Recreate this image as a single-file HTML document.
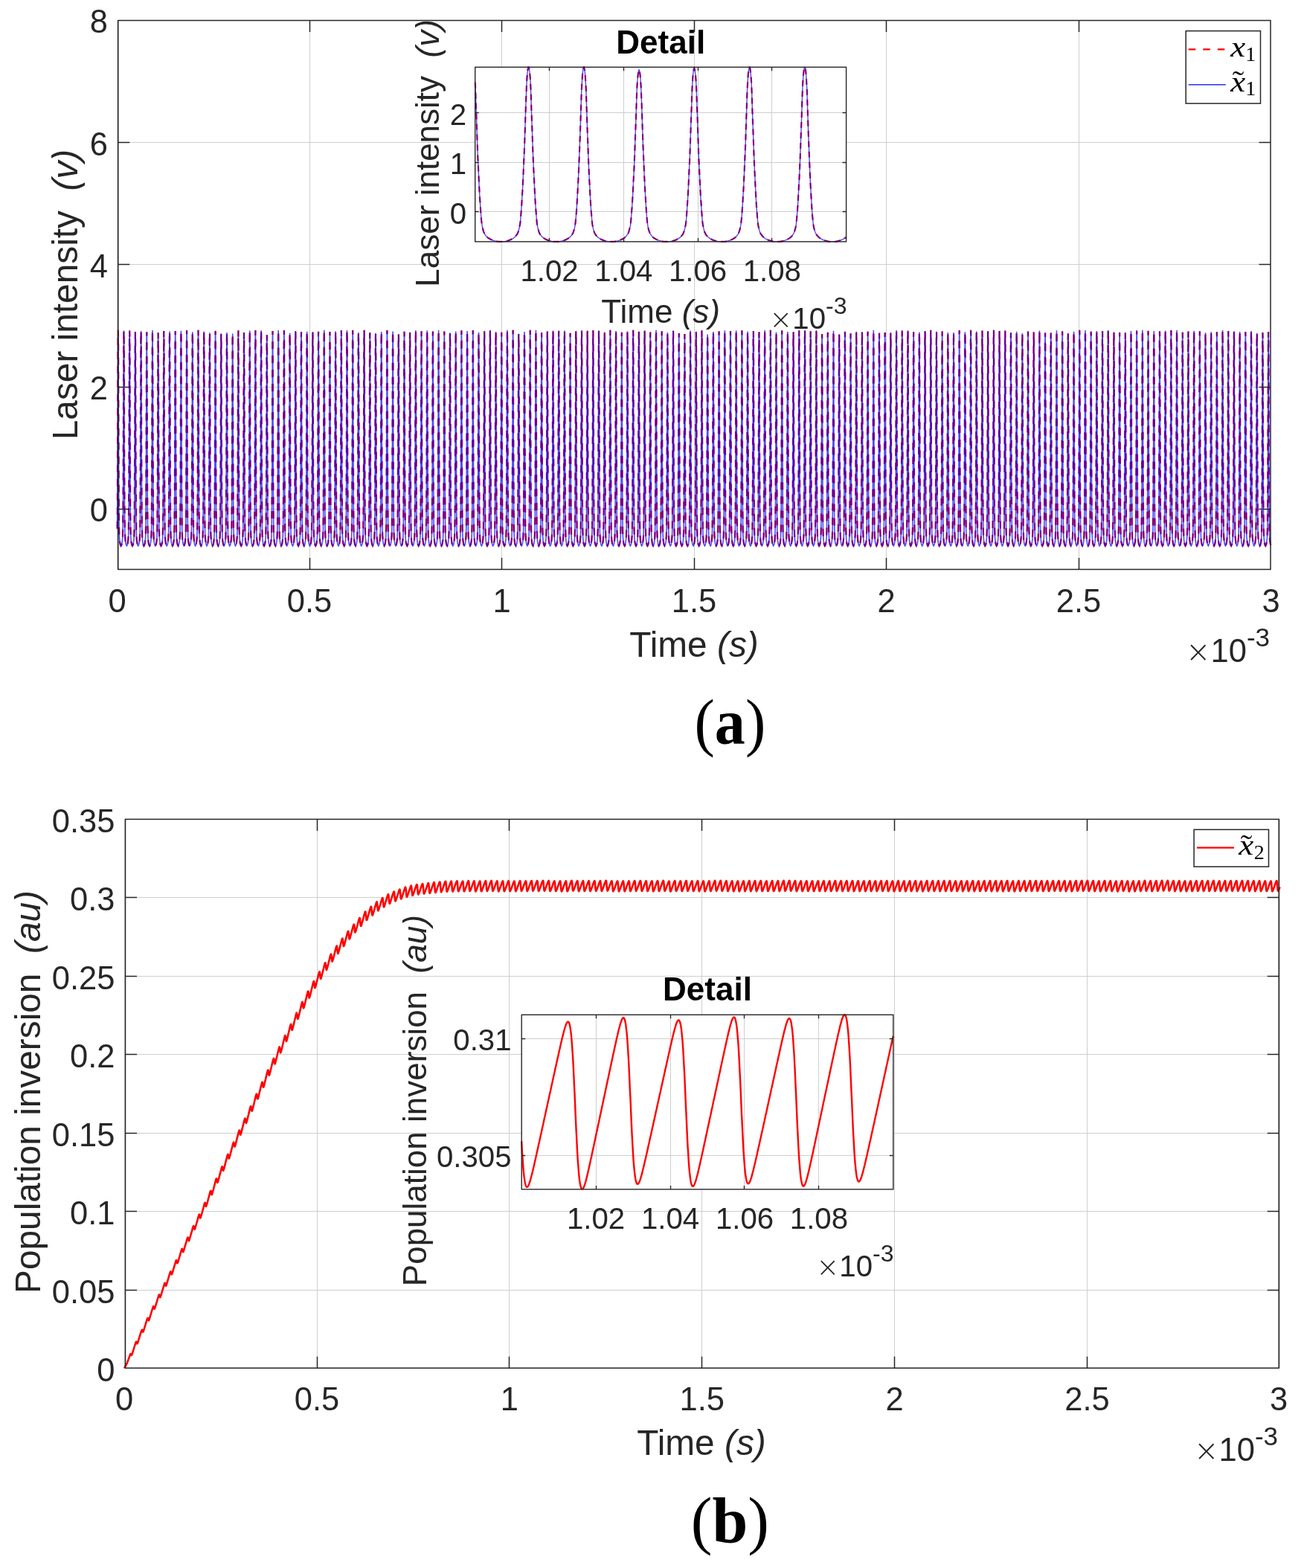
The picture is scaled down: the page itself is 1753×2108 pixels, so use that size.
<!DOCTYPE html><html><head><meta charset="utf-8"><title>Figure</title><style>html,body{margin:0;padding:0;background:#fff;}svg{display:block;}</style></head><body>
<div id="fig">
<svg width="1753" height="2108" viewBox="0 0 1753 2108">
<rect width="1753" height="2108" fill="#fff"/>
<path d="M157.5 27.5V765.5M416.5 27.5V765.5M674.5 27.5V765.5M933.5 27.5V765.5M1191.5 27.5V765.5M1450.5 27.5V765.5M158.8 684.5H1708M158.8 520.5H1708M158.8 355.5H1708M158.8 191.5H1708" stroke="#cecece" stroke-width="1.0" fill="none"/>
<g clip-path="url(#clipA)">
<clipPath id="clipA"><rect x="156.3" y="25.5" width="1553.4" height="742"/></clipPath>
<path d="M157.5 710.7l0.3-26.5 0.2-40.4 0.1-41.7 0.2-46.2 0.1-39.4 0.1-39.8 0.1-19.8 0.1-9 0.1-4.2 0.1 4.2 0.1 9 0.1 19.8 0.1 39.8 0.1 39.4 0.2 46.2 0.1 41.7 0.2 40.4 0.3 26.5 0.3 10.4 0.4 5.1 0.5 3.8 0.6 2.6 0.7 1.3 0.8-1.3 0.6-2.6 0.5-3.8 0.4-5 0.3-10.5 0.3-26.4 0.2-40.3 0.1-41.5 0.2-46.1 0.1-39.3 0.1-39.8 0.1-19.6 0.1-9 0.1-4.2 0.1 4.2 0.1 9 0.1 19.6 0.1 39.8 0.1 39.3 0.1 46.1 0.2 41.5 0.2 40.3 0.3 26.4 0.3 10.5 0.4 5 0.5 3.8 0.6 2.6 0.7 1.3 0.8-1.3 0.6-2.6 0.5-3.8 0.4-5 0.3-10.5 0.2-26.4 0.3-40.3 0.1-41.5 0.2-46.2 0.1-39.2 0.1-39.8 0.1-19.7 0.1-9 0.1-4.1 0.1 4.1 0.1 9 0.1 19.7 0.1 39.8 0.1 39.2 0.1 46.2 0.2 41.5 0.2 40.3 0.3 26.4 0.3 10.5 0.3 5 0.6 3.8 0.6 2.6 0.7 1.3 0.8-1.3 0.6-2.6 0.5-3.8 0.4-5 0.3-10.3 0.2-26.3 0.2-40.1 0.2-41.3 0.2-45.9 0.1-39 0.1-39.6 0.1-19.6 0.1-8.9 0.1-4.1 0.1 4.1 0.1 8.9 0.1 19.6 0.1 39.6 0.1 39 0.1 45.9 0.2 41.3 0.2 40.1 0.3 26.3 0.3 10.3 0.3 5 0.6 3.8 0.6 2.6 0.7 1.3 0.8-1.3 0.6-2.6 0.5-3.8 0.4-5 0.3-10.4 0.2-26.4 0.2-40.2 0.2-41.5 0.1-46.1 0.2-39.2 0.1-39.7 0.1-19.6 0.1-9 0.1-4.2 0.1 4.2 0.1 9 0.1 19.6 0.1 39.7 0.1 39.2 0.1 46.1 0.2 41.5 0.2 40.2 0.3 26.4 0.3 10.4 0.3 5 0.5 3.8 0.7 2.6 0.7 1.3 0.8-1.3 0.6-2.6 0.5-3.8 0.4-5 0.3-10.3 0.2-26.3 0.2-40 0.2-41.3 0.1-45.8 0.2-39 0.1-39.6 0.1-19.5 0.1-8.9 0.1-4.2 0.1 4.2 0 8.9 0.1 19.5 0.2 39.6 0.1 39 0.1 45.8 0.2 41.3 0.2 40 0.3 26.3 0.3 10.3 0.3 5 0.5 3.8 0.7 2.6 0.7 1.3 0.8-1.3 0.6-2.6 0.5-3.8 0.4-5.1 0.3-10.4 0.2-26.5 0.2-40.4 0.2-41.6 0.1-46.2 0.2-39.4 0.1-39.8 0.1-19.7 0.1-9 0.1-4.2 0 4.2 0.1 9 0.1 19.7 0.2 39.8 0.1 39.4 0.1 46.2 0.2 41.6 0.2 40.4 0.2 26.5 0.4 10.4 0.3 5.1 0.5 3.8 0.7 2.6 0.7 1.3 0.7-1.3 0.7-2.6 0.5-3.7 0.3-5 0.4-10.3 0.2-26.2 0.2-39.9 0.2-41.2 0.1-45.7 0.1-38.8 0.2-39.4 0.1-19.5 0.1-8.9 0-4.2 0.1 4.2 0.1 8.9 0.1 19.5 0.2 39.4 0.1 38.8 0.1 45.7 0.2 41.2 0.2 39.9 0.2 26.2 0.3 10.3 0.4 5 0.5 3.7 0.6 2.6 0.8 1.3 0.7-1.3 0.7-2.6 0.5-3.8 0.3-5 0.3-10.4 0.3-26.4 0.2-40.2 0.2-41.5 0.1-46 0.1-39.2 0.2-39.7 0.1-19.7 0-8.9 0.1-4.2 0.1 4.2 0.1 8.9 0.1 19.7 0.1 39.7 0.2 39.2 0.1 46 0.2 41.5 0.2 40.2 0.2 26.4 0.3 10.4 0.4 5 0.5 3.8 0.6 2.6 0.8 1.3 0.7-1.3 0.7-2.6 0.5-3.8 0.3-5 0.3-10.4 0.3-26.3 0.2-40.2 0.2-41.4 0.1-46 0.1-39.2 0.1-39.6 0.1-19.6 0.1-9 0.1-4.1 0.1 4.1 0.1 9 0.1 19.6 0.1 39.6 0.2 39.2 0.1 46 0.2 41.4 0.2 40.2 0.2 26.3 0.3 10.4 0.4 5 0.5 3.8 0.6 2.6 0.8 1.3 0.7-1.3 0.6-2.6 0.6-3.8 0.3-5 0.3-10.4 0.3-26.4 0.2-40.2 0.2-41.5 0.1-46 0.1-39.2 0.1-39.7 0.1-19.7 0.1-8.9 0.1-4.2 0.1 4.2 0.1 8.9 0.1 19.7 0.1 39.7 0.1 39.2 0.2 46 0.2 41.5 0.2 40.2 0.2 26.4 0.3 10.4 0.4 5 0.5 3.8 0.6 2.6 0.8 1.3 0.7-1.3 0.6-2.6 0.6-3.8 0.3-5 0.3-10.4 0.3-26.4 0.2-40.3 0.2-41.5 0.1-46.1 0.1-39.3 0.1-39.7 0.1-19.7 0.1-9 0.1-4.1 0.1 4.1 0.1 9 0.1 19.7 0.1 39.7 0.1 39.3 0.2 46.1 0.1 41.5 0.3 40.3 0.2 26.4 0.3 10.4 0.4 5 0.5 3.8 0.6 2.6 0.8 1.3 0.7-1.3 0.6-2.6 0.5-3.8 0.4-5.1 0.3-10.4 0.3-26.5 0.2-40.3 0.2-41.6 0.1-46.2 0.1-39.4 0.1-39.8 0.1-19.7 0.1-9 0.1-4.2 0.1 4.2 0.1 9 0.1 19.7 0.1 39.8 0.1 39.4 0.2 46.2 0.1 41.6 0.2 40.3 0.3 26.5 0.3 10.4 0.4 5.1 0.5 3.8 0.6 2.6 0.8 1.3 0.7-1.3 0.6-2.6 0.5-3.8 0.4-5 0.3-10.3 0.3-26.3 0.2-40.1 0.1-41.3 0.2-45.8 0.1-39 0.1-39.6 0.1-19.6 0.1-8.9 0.1-4.1 0.1 4.1 0.1 8.9 0.1 19.6 0.1 39.6 0.1 39 0.2 45.8 0.1 41.3 0.2 40.1 0.3 26.3 0.3 10.3 0.4 5 0.5 3.8 0.6 2.6 0.7 1.3 0.8-1.3 0.6-2.6 0.5-3.8 0.4-5.1 0.3-10.4 0.3-26.5 0.2-40.4 0.1-41.6 0.2-46.3 0.1-39.3 0.1-39.9 0.1-19.7 0.1-9 0.1-4.2 0.1 4.2 0.1 9 0.1 19.7 0.1 39.9 0.1 39.3 0.2 46.3 0.1 41.6 0.2 40.4 0.3 26.5 0.3 10.4 0.4 5.1 0.5 3.8 0.6 2.6 0.7 1.3 0.8-1.3 0.6-2.6 0.5-3.8 0.4-5 0.3-10.4 0.3-26.3 0.2-40.2 0.1-41.3 0.2-46 0.1-39.1 0.1-39.6 0.1-19.6 0.1-9 0.1-4.1 0.1 4.1 0.1 9 0.1 19.6 0.1 39.6 0.1 39.1 0.2 46 0.1 41.3 0.2 40.2 0.3 26.3 0.3 10.4 0.4 5 0.5 3.8 0.6 2.6 0.7 1.3 0.8-1.3 0.6-2.6 0.5-3.7 0.4-5 0.3-10.3 0.3-26.2 0.2-39.9 0.1-41.2 0.2-45.6 0.1-38.9 0.1-39.4 0.1-19.5 0.1-8.9 0.1-4.2 0.1 4.2 0.1 8.9 0.1 19.5 0.1 39.4 0.1 38.9 0.1 45.6 0.2 41.2 0.2 39.9 0.3 26.2 0.3 10.3 0.4 5 0.5 3.7 0.6 2.6 0.7 1.3 0.8-1.3 0.6-2.6 0.5-3.8 0.4-5 0.3-10.4 0.2-26.4 0.3-40.2 0.1-41.5 0.2-46.1 0.1-39.2 0.1-39.7 0.1-19.6 0.1-9 0.1-4.2 0.1 4.2 0.1 9 0.1 19.6 0.1 39.7 0.1 39.2 0.1 46.1 0.2 41.5 0.2 40.2 0.3 26.4 0.3 10.4 0.3 5 0.6 3.8 0.6 2.6 0.7 1.3 0.8-1.3 0.6-2.6 0.5-3.7 0.4-5 0.3-10.2 0.2-26.1 0.2-39.7 0.2-40.9 0.2-45.5 0.1-38.7 0.1-39.2 0.1-19.3 0.1-8.9 0.1-4.1 0.1 4.1 0.1 8.9 0.1 19.3 0.1 39.2 0.1 38.7 0.1 45.5 0.2 40.9 0.2 39.7 0.3 26.1 0.3 10.2 0.3 5 0.6 3.7 0.6 2.6 0.7 1.3 0.8-1.3 0.6-2.6 0.5-3.7 0.4-5 0.3-10.3 0.2-26.2 0.2-40 0.2-41.1 0.2-45.7 0.1-38.9 0.1-39.5 0.1-19.5 0.1-8.9 0.1-4.1 0.1 4.1 0.1 8.9 0.1 19.5 0.1 39.5 0.1 38.9 0.1 45.7 0.2 41.1 0.2 40 0.3 26.2 0.3 10.3 0.3 5 0.6 3.7 0.6 2.6 0.7 1.3 0.8-1.3 0.6-2.6 0.5-3.7 0.4-5 0.3-10.2 0.2-26.1 0.2-39.7 0.2-41 0.1-45.5 0.2-38.7 0.1-39.2 0.1-19.4 0.1-8.9 0.1-4.1 0.1 4.1 0 8.9 0.2 19.4 0.1 39.2 0.1 38.7 0.1 45.5 0.2 41 0.2 39.7 0.3 26.1 0.3 10.2 0.3 5 0.5 3.7 0.7 2.6 0.7 1.3 0.8-1.3 0.6-2.6 0.5-3.8 0.4-5 0.3-10.5 0.2-26.4 0.2-40.3 0.2-41.6 0.1-46.1 0.2-39.3 0.1-39.8 0.1-19.7 0.1-9 0.1-4.2 0 4.2 0.1 9 0.1 19.7 0.2 39.8 0.1 39.3 0.1 46.1 0.2 41.6 0.2 40.3 0.2 26.4 0.4 10.5 0.3 5 0.5 3.8 0.7 2.6 0.7 1.3 0.7-1.3 0.7-2.6 0.5-3.7 0.3-5 0.4-10.3 0.2-26.2 0.2-40 0.2-41.2 0.1-45.7 0.1-38.9 0.2-39.4 0.1-19.5 0.1-8.9 0-4.2 0.1 4.2 0.1 8.9 0.1 19.5 0.2 39.4 0.1 38.9 0.1 45.7 0.2 41.2 0.2 40 0.2 26.2 0.4 10.3 0.3 5 0.5 3.7 0.7 2.6 0.7 1.3 0.7-1.3 0.7-2.6 0.5-3.8 0.3-5 0.3-10.5 0.3-26.4 0.2-40.3 0.2-41.5 0.1-46.2 0.1-39.2 0.2-39.8 0.1-19.7 0-9 0.1-4.2 0.1 4.2 0.1 9 0.1 19.7 0.1 39.8 0.2 39.2 0.1 46.2 0.2 41.5 0.2 40.3 0.2 26.4 0.3 10.5 0.4 5 0.5 3.8 0.6 2.6 0.8 1.3 0.7-1.3 0.7-2.6 0.5-3.8 0.3-5.1 0.3-10.4 0.3-26.4 0.2-40.4 0.2-41.6 0.1-46.1 0.1-39.4 0.1-39.8 0.1-19.7 0.1-9 0.1-4.2 0.1 4.2 0.1 9 0.1 19.7 0.1 39.8 0.2 39.4 0.1 46.1 0.2 41.6 0.2 40.4 0.2 26.4 0.3 10.4 0.4 5.1 0.5 3.8 0.6 2.6 0.8 1.3 0.7-1.3 0.6-2.6 0.6-3.8 0.3-5 0.3-10.5 0.3-26.4 0.2-40.4 0.2-41.5 0.1-46.2 0.1-39.3 0.1-39.8 0.1-19.7 0.1-9 0.1-4.2 0.1 4.2 0.1 9 0.1 19.7 0.1 39.8 0.1 39.3 0.2 46.2 0.2 41.5 0.2 40.4 0.2 26.4 0.3 10.5 0.4 5 0.5 3.8 0.6 2.6 0.8 1.3 0.7-1.3 0.6-2.5 0.6-3.7 0.3-5 0.3-10.2 0.3-25.9 0.2-39.5 0.2-40.7 0.1-45.2 0.1-38.4 0.1-39 0.1-19.3 0.1-8.8 0.1-4.1 0.1 4.1 0.1 8.8 0.1 19.3 0.1 39 0.1 38.4 0.2 45.2 0.2 40.7 0.2 39.5 0.2 25.9 0.3 10.2 0.4 5 0.5 3.7 0.6 2.5 0.8 1.3 0.7-1.3 0.6-2.6 0.6-3.8 0.3-5 0.3-10.4 0.3-26.4 0.2-40.2 0.2-41.4 0.1-46 0.1-39.2 0.1-39.7 0.1-19.6 0.1-9 0.1-4.2 0.1 4.2 0.1 9 0.1 19.6 0.1 39.7 0.1 39.2 0.2 46 0.1 41.4 0.3 40.2 0.2 26.4 0.3 10.4 0.4 5 0.5 3.8 0.6 2.6 0.8 1.3 0.7-1.3 0.6-2.6 0.5-3.8 0.4-5.1 0.3-10.4 0.3-26.5 0.2-40.4 0.1-41.6 0.2-46.2 0.1-39.4 0.1-39.8 0.1-19.8 0.1-9 0.1-4.1 0.1 4.1 0.1 9 0.1 19.8 0.1 39.8 0.1 39.4 0.2 46.2 0.1 41.6 0.2 40.4 0.3 26.5 0.3 10.4 0.4 5.1 0.5 3.8 0.6 2.6 0.7 1.3 0.8-1.3 0.6-2.6 0.5-3.8 0.4-5.1 0.3-10.4 0.3-26.4 0.2-40.4 0.1-41.6 0.2-46.2 0.1-39.3 0.1-39.9 0.1-19.7 0.1-9 0.1-4.2 0.1 4.2 0.1 9 0.1 19.7 0.1 39.9 0.1 39.3 0.2 46.2 0.1 41.6 0.2 40.4 0.3 26.4 0.3 10.4 0.4 5.1 0.5 3.8 0.6 2.6 0.7 1.3 0.8-1.3 0.6-2.6 0.5-3.7 0.4-5 0.3-10.3 0.3-26.1 0.2-39.9 0.1-41.1 0.2-45.5 0.1-38.9 0.1-39.3 0.1-19.5 0.1-8.9 0.1-4.1 0.1 4.1 0.1 8.9 0.1 19.5 0.1 39.3 0.1 38.9 0.2 45.5 0.1 41.1 0.2 39.9 0.3 26.1 0.3 10.3 0.4 5 0.5 3.7 0.6 2.6 0.7 1.3 0.8-1.3 0.6-2.6 0.5-3.8 0.4-5 0.3-10.4 0.3-26.4 0.2-40.2 0.1-41.5 0.2-46 0.1-39.2 0.1-39.7 0.1-19.7 0.1-9 0.1-4.1 0.1 4.1 0.1 9 0.1 19.7 0.1 39.7 0.1 39.2 0.2 46 0.1 41.5 0.2 40.2 0.3 26.4 0.3 10.4 0.4 5 0.5 3.8 0.6 2.6 0.7 1.3 0.8-1.3 0.6-2.6 0.5-3.8 0.4-5 0.3-10.3 0.2-26.3 0.3-40 0.1-41.3 0.2-45.8 0.1-39.1 0.1-39.5 0.1-19.5 0.1-9 0.1-4.1 0.1 4.1 0.1 9 0.1 19.5 0.1 39.5 0.1 39.1 0.1 45.8 0.2 41.3 0.2 40 0.3 26.3 0.3 10.3 0.3 5 0.6 3.8 0.6 2.6 0.7 1.3 0.8-1.3 0.6-2.6 0.5-3.8 0.4-5 0.3-10.3 0.2-26.3 0.3-40.2 0.1-41.3 0.2-45.9 0.1-39.1 0.1-39.6 0.1-19.6 0.1-8.9 0.1-4.2 0.1 4.2 0.1 8.9 0.1 19.6 0.1 39.6 0.1 39.1 0.1 45.9 0.2 41.3 0.2 40.2 0.3 26.3 0.3 10.3 0.3 5 0.6 3.8 0.6 2.6 0.7 1.3 0.8-1.3 0.6-2.6 0.5-3.7 0.4-5 0.3-10.4 0.2-26.2 0.2-40.1 0.2-41.2 0.2-45.8 0.1-39 0.1-39.5 0.1-19.5 0.1-9 0.1-4.1 0.1 4.1 0.1 9 0.1 19.5 0.1 39.5 0.1 39 0.1 45.8 0.2 41.2 0.2 40.1 0.3 26.2 0.3 10.4 0.3 5 0.6 3.7 0.6 2.6 0.7 1.3 0.8-1.3 0.6-2.6 0.5-3.8 0.4-5 0.3-10.3 0.2-26.3 0.2-40.2 0.2-41.3 0.1-45.9 0.2-39.1 0.1-39.6 0.1-19.6 0.1-8.9 0.1-4.2 0.1 4.2 0.1 8.9 0.1 19.6 0.1 39.6 0.1 39.1 0.1 45.9 0.2 41.3 0.2 40.2 0.3 26.3 0.3 10.3 0.3 5 0.5 3.8 0.7 2.6 0.7 1.3 0.8-1.3 0.6-2.6 0.5-3.8 0.4-5.1 0.3-10.4 0.2-26.5 0.2-40.4 0.2-41.6 0.1-46.2 0.2-39.4 0.1-39.9 0.1-19.7 0.1-9 0.1-4.2 0.1 4.2 0 9 0.1 19.7 0.2 39.9 0.1 39.4 0.1 46.2 0.2 41.6 0.2 40.4 0.3 26.5 0.3 10.4 0.3 5.1 0.5 3.8 0.7 2.6 0.7 1.3 0.7-1.3 0.7-2.6 0.5-3.8 0.3-5 0.4-10.3 0.2-26.3 0.2-40.1 0.2-41.3 0.1-45.9 0.1-39 0.2-39.6 0.1-19.6 0.1-8.9 0.1-4.2 0 4.2 0.1 8.9 0.1 19.6 0.2 39.6 0.1 39 0.1 45.9 0.2 41.3 0.2 40.1 0.2 26.3 0.4 10.3 0.3 5 0.5 3.8 0.7 2.6 0.7 1.3 0.7-1.3 0.7-2.6 0.5-3.8 0.3-5 0.4-10.4 0.2-26.3 0.2-40.2 0.2-41.5 0.1-46 0.1-39.1 0.2-39.7 0.1-19.6 0.1-9 0-4.1 0.1 4.1 0.1 9 0.1 19.6 0.1 39.7 0.2 39.1 0.1 46 0.2 41.5 0.2 40.2 0.2 26.3 0.3 10.4 0.4 5 0.5 3.8 0.6 2.6 0.8 1.3 0.7-1.3 0.7-2.6 0.5-3.8 0.3-5.1 0.3-10.4 0.3-26.5 0.2-40.3 0.2-41.6 0.1-46.2 0.1-39.4 0.1-39.8 0.2-19.7 0-9 0.1-4.2 0.1 4.2 0.1 9 0.1 19.7 0.1 39.8 0.2 39.4 0.1 46.2 0.2 41.6 0.2 40.3 0.2 26.5 0.3 10.4 0.4 5.1 0.5 3.8 0.6 2.6 0.8 1.3 0.7-1.3 0.6-2.6 0.6-3.8 0.3-5.1 0.3-10.4 0.3-26.5 0.2-40.3 0.2-41.6 0.1-46.2 0.1-39.4 0.1-39.8 0.1-19.7 0.1-9 0.1-4.2 0.1 4.2 0.1 9 0.1 19.7 0.1 39.8 0.1 39.4 0.2 46.2 0.2 41.6 0.2 40.3 0.2 26.5 0.3 10.4 0.4 5.1 0.5 3.8 0.6 2.6 0.8 1.3 0.7-1.3 0.6-2.6 0.6-3.8 0.3-5.1 0.3-10.4 0.3-26.5 0.2-40.4 0.2-41.6 0.1-46.2 0.1-39.3 0.1-39.9 0.1-19.7 0.1-9 0.1-4.2 0.1 4.2 0.1 9 0.1 19.7 0.1 39.9 0.1 39.3 0.2 46.2 0.2 41.6 0.2 40.4 0.2 26.5 0.3 10.4 0.4 5.1 0.5 3.8 0.6 2.6 0.8 1.3 0.7-1.3 0.6-2.6 0.6-3.7 0.3-5 0.3-10.4 0.3-26.2 0.2-39.9 0.2-41.2 0.1-45.7 0.1-39 0.1-39.4 0.1-19.5 0.1-8.9 0.1-4.2 0.1 4.2 0.1 8.9 0.1 19.5 0.1 39.4 0.1 39 0.2 45.7 0.1 41.2 0.3 39.9 0.2 26.2 0.3 10.4 0.4 5 0.5 3.7 0.6 2.6 0.8 1.3 0.7-1.3 0.6-2.6 0.5-3.8 0.4-5.1 0.3-10.4 0.3-26.5 0.2-40.4 0.2-41.6 0.1-46.2 0.1-39.3 0.1-39.9 0.1-19.7 0.1-9 0.1-4.2 0.1 4.2 0.1 9 0.1 19.7 0.1 39.9 0.1 39.3 0.2 46.2 0.1 41.6 0.2 40.4 0.3 26.5 0.3 10.4 0.4 5.1 0.5 3.8 0.6 2.6 0.7 1.3 0.8-1.3 0.6-2.6 0.5-3.7 0.4-5 0.3-10.3 0.3-26.2 0.2-39.9 0.1-41.2 0.2-45.6 0.1-38.9 0.1-39.4 0.1-19.5 0.1-8.9 0.1-4.1 0.1 4.1 0.1 8.9 0.1 19.5 0.1 39.4 0.1 38.9 0.2 45.6 0.1 41.2 0.2 39.9 0.3 26.2 0.3 10.3 0.4 5 0.5 3.7 0.6 2.6 0.7 1.3 0.8-1.3 0.6-2.6 0.5-3.7 0.4-5 0.3-10.3 0.3-26.1 0.2-39.9 0.1-41 0.2-45.6 0.1-38.8 0.1-39.4 0.1-19.4 0.1-8.9 0.1-4.1 0.1 4.1 0.1 8.9 0.1 19.4 0.1 39.4 0.1 38.8 0.2 45.6 0.1 41 0.2 39.9 0.3 26.1 0.3 10.3 0.4 5 0.5 3.7 0.6 2.6 0.7 1.3 0.8-1.3 0.6-2.6 0.5-3.8 0.4-5 0.3-10.3 0.3-26.3 0.2-40.1 0.1-41.4 0.2-45.8 0.1-39.1 0.1-39.6 0.1-19.5 0.1-9 0.1-4.1 0.1 4.1 0.1 9 0.1 19.5 0.1 39.6 0.1 39.1 0.2 45.8 0.1 41.4 0.2 40.1 0.3 26.3 0.3 10.3 0.4 5 0.5 3.8 0.6 2.6 0.7 1.3 0.8-1.3 0.6-2.6 0.5-3.8 0.4-5.1 0.3-10.4 0.3-26.4 0.2-40.4 0.1-41.6 0.2-46.2 0.1-39.3 0.1-39.9 0.1-19.7 0.1-9 0.1-4.2 0.1 4.2 0.1 9 0.1 19.7 0.1 39.9 0.1 39.3 0.1 46.2 0.2 41.6 0.2 40.4 0.3 26.4 0.3 10.4 0.4 5.1 0.5 3.8 0.6 2.6 0.7 1.3 0.8-1.3 0.6-2.6 0.5-3.8 0.4-5 0.3-10.4 0.2-26.3 0.3-40.2 0.1-41.4 0.2-46 0.1-39.1 0.1-39.7 0.1-19.6 0.1-8.9 0.1-4.2 0.1 4.2 0.1 8.9 0.1 19.6 0.1 39.7 0.1 39.1 0.1 46 0.2 41.4 0.2 40.2 0.3 26.3 0.3 10.4 0.3 5 0.6 3.8 0.6 2.6 0.7 1.3 0.8-1.3 0.6-2.6 0.5-3.7 0.4-4.9 0.3-10.3 0.2-26 0.2-39.7 0.2-40.9 0.2-45.4 0.1-38.7 0.1-39.1 0.1-19.4 0.1-8.8 0.1-4.1 0.1 4.1 0.1 8.8 0.1 19.4 0.1 39.1 0.1 38.7 0.1 45.4 0.2 40.9 0.2 39.7 0.3 26 0.3 10.3 0.3 4.9 0.6 3.7 0.6 2.6 0.7 1.3 0.8-1.3 0.6-2.6 0.5-3.8 0.4-5 0.3-10.4 0.2-26.3 0.2-40.1 0.2-41.4 0.1-45.9 0.2-39.1 0.1-39.6 0.1-19.6 0.1-8.9 0.1-4.2 0.1 4.2 0.1 8.9 0.1 19.6 0.1 39.6 0.1 39.1 0.1 45.9 0.2 41.4 0.2 40.1 0.3 26.3 0.3 10.4 0.3 5 0.5 3.8 0.7 2.6 0.7 1.3 0.8-1.3 0.6-2.6 0.5-3.7 0.4-5 0.3-10.4 0.2-26.2 0.2-39.9 0.2-41.2 0.1-45.8 0.2-38.9 0.1-39.5 0.1-19.5 0.1-8.9 0.1-4.1 0.1 4.1 0 8.9 0.1 19.5 0.2 39.5 0.1 38.9 0.1 45.8 0.2 41.2 0.2 39.9 0.3 26.2 0.3 10.4 0.3 5 0.5 3.7 0.7 2.6 0.7 1.3 0.8-1.3 0.6-2.6 0.5-3.8 0.4-5.1 0.3-10.4 0.2-26.5 0.2-40.4 0.2-41.6 0.1-46.2 0.2-39.3 0.1-39.9 0.1-19.7 0.1-9 0.1-4.2 0 4.2 0.1 9 0.1 19.7 0.2 39.9 0.1 39.3 0.1 46.2 0.2 41.6 0.2 40.4 0.2 26.5 0.4 10.4 0.3 5.1 0.5 3.8 0.7 2.6 0.7 1.3 0.7-1.3 0.7-2.6 0.5-3.8 0.3-5 0.4-10.4 0.2-26.3 0.2-40.3 0.2-41.4 0.1-46 0.1-39.1 0.2-39.7 0.1-19.6 0.1-9 0-4.2 0.1 4.2 0.1 9 0.1 19.6 0.2 39.7 0.1 39.1 0.1 46 0.2 41.4 0.2 40.3 0.2 26.3 0.3 10.4 0.4 5 0.5 3.8 0.6 2.6 0.8 1.3 0.7-1.3 0.7-2.6 0.5-3.8 0.3-5 0.3-10.5 0.3-26.4 0.2-40.4 0.2-41.5 0.1-46.2 0.1-39.3 0.2-39.8 0.1-19.7 0-9 0.1-4.2 0.1 4.2 0.1 9 0.1 19.7 0.1 39.8 0.2 39.3 0.1 46.2 0.2 41.5 0.2 40.4 0.2 26.4 0.3 10.5 0.4 5 0.5 3.8 0.6 2.6 0.8 1.3 0.7-1.3 0.7-2.6 0.5-3.8 0.3-5 0.3-10.4 0.3-26.3 0.2-40.2 0.2-41.4 0.1-45.9 0.1-39.1 0.1-39.7 0.1-19.6 0.1-8.9 0.1-4.2 0.1 4.2 0.1 8.9 0.1 19.6 0.1 39.7 0.2 39.1 0.1 45.9 0.2 41.4 0.2 40.2 0.2 26.3 0.3 10.4 0.4 5 0.5 3.8 0.6 2.6 0.8 1.3 0.7-1.3 0.6-2.6 0.6-3.8 0.3-5.1 0.3-10.4 0.3-26.5 0.2-40.4 0.2-41.6 0.1-46.2 0.1-39.3 0.1-39.9 0.1-19.7 0.1-9 0.1-4.2 0.1 4.2 0.1 9 0.1 19.7 0.1 39.9 0.1 39.3 0.2 46.2 0.2 41.6 0.2 40.4 0.2 26.5 0.3 10.4 0.4 5.1 0.5 3.8 0.6 2.6 0.8 1.3 0.7-1.3 0.6-2.6 0.6-3.8 0.3-5 0.3-10.4 0.3-26.3 0.2-40.2 0.2-41.4 0.1-45.9 0.1-39.2 0.1-39.6 0.1-19.6 0.1-9 0.1-4.1 0.1 4.1 0.1 9 0.1 19.6 0.1 39.6 0.1 39.2 0.2 45.9 0.1 41.4 0.3 40.2 0.2 26.3 0.3 10.4 0.4 5 0.5 3.8 0.6 2.6 0.8 1.3 0.7-1.3 0.6-2.6 0.5-3.7 0.4-5 0.3-10.3 0.3-26.2 0.2-39.9 0.2-41.1 0.1-45.6 0.1-38.9 0.1-39.3 0.1-19.5 0.1-8.9 0.1-4.1 0.1 4.1 0.1 8.9 0.1 19.5 0.1 39.3 0.1 38.9 0.2 45.6 0.1 41.1 0.2 39.9 0.3 26.2 0.3 10.3 0.4 5 0.5 3.7 0.6 2.6 0.8 1.3 0.7-1.3 0.6-2.6 0.5-3.8 0.4-5 0.3-10.4 0.3-26.3 0.2-40.2 0.1-41.4 0.2-45.9 0.1-39.1 0.1-39.7 0.1-19.6 0.1-9 0.1-4.1 0.1 4.1 0.1 9 0.1 19.6 0.1 39.7 0.1 39.1 0.2 45.9 0.1 41.4 0.2 40.2 0.3 26.3 0.3 10.4 0.4 5 0.5 3.8 0.6 2.6 0.7 1.3 0.8-1.3 0.6-2.6 0.5-3.8 0.4-5 0.3-10.5 0.3-26.4 0.2-40.4 0.1-41.5 0.2-46.2 0.1-39.3 0.1-39.8 0.1-19.7 0.1-9 0.1-4.1 0.1 4.1 0.1 9 0.1 19.7 0.1 39.8 0.1 39.3 0.2 46.2 0.1 41.5 0.2 40.4 0.3 26.4 0.3 10.5 0.4 5 0.5 3.8 0.6 2.6 0.7 1.3 0.8-1.3 0.6-2.6 0.5-3.8 0.4-5 0.3-10.4 0.3-26.4 0.2-40.2 0.1-41.5 0.2-46.1 0.1-39.2 0.1-39.7 0.1-19.6 0.1-9 0.1-4.2 0.1 4.2 0.1 9 0.1 19.6 0.1 39.7 0.1 39.2 0.2 46.1 0.1 41.5 0.2 40.2 0.3 26.4 0.3 10.4 0.4 5 0.5 3.8 0.6 2.6 0.7 1.3 0.8-1.3 0.6-2.6 0.5-3.8 0.4-5.1 0.3-10.4 0.3-26.4 0.2-40.4 0.1-41.6 0.2-46.2 0.1-39.3 0.1-39.9 0.1-19.7 0.1-9 0.1-4.1 0.1 4.1 0.1 9 0.1 19.7 0.1 39.9 0.1 39.3 0.1 46.2 0.2 41.6 0.2 40.4 0.3 26.4 0.3 10.4 0.4 5.1 0.5 3.8 0.6 2.6 0.7 1.3 0.8-1.3 0.6-2.6 0.5-3.7 0.4-5 0.3-10.4 0.2-26.2 0.3-40 0.1-41.2 0.2-45.7 0.1-38.9 0.1-39.5 0.1-19.5 0.1-8.9 0.1-4.2 0.1 4.2 0.1 8.9 0.1 19.5 0.1 39.5 0.1 38.9 0.1 45.7 0.2 41.2 0.2 40 0.3 26.2 0.3 10.4 0.3 5 0.6 3.7 0.6 2.6 0.7 1.3 0.8-1.3 0.6-2.6 0.5-3.8 0.4-5 0.3-10.4 0.2-26.3 0.2-40.2 0.2-41.5 0.2-46 0.1-39.1 0.1-39.7 0.1-19.6 0.1-9 0.1-4.2 0.1 4.2 0.1 9 0.1 19.6 0.1 39.7 0.1 39.1 0.1 46 0.2 41.5 0.2 40.2 0.3 26.3 0.3 10.4 0.3 5 0.6 3.8 0.6 2.6 0.7 1.3 0.8-1.3 0.6-2.6 0.5-3.8 0.4-5 0.3-10.5 0.2-26.4 0.2-40.4 0.2-41.5 0.2-46.2 0.1-39.3 0.1-39.8 0.1-19.7 0.1-9 0.1-4.2 0.1 4.2 0.1 9 0.1 19.7 0.1 39.8 0.1 39.3 0.1 46.2 0.2 41.5 0.2 40.4 0.3 26.4 0.3 10.5 0.3 5 0.6 3.8 0.6 2.6 0.7 1.3 0.8-1.3 0.6-2.6 0.5-3.8 0.4-5 0.3-10.3 0.2-26.3 0.2-40.1 0.2-41.3 0.1-45.9 0.2-39 0.1-39.6 0.1-19.5 0.1-9 0.1-4.1 0.1 4.1 0 9 0.2 19.5 0.1 39.6 0.1 39 0.1 45.9 0.2 41.3 0.2 40.1 0.3 26.3 0.3 10.3 0.3 5 0.5 3.8 0.7 2.6 0.7 1.3 0.8-1.3 0.6-2.6 0.5-3.7 0.4-5 0.3-10.4 0.2-26.2 0.2-40 0.2-41.2 0.1-45.8 0.2-38.9 0.1-39.5 0.1-19.5 0.1-8.9 0.1-4.2 0 4.2 0.1 8.9 0.1 19.5 0.2 39.5 0.1 38.9 0.1 45.8 0.2 41.2 0.2 40 0.2 26.2 0.4 10.4 0.3 5 0.5 3.7 0.7 2.6 0.7 1.3 0.7-1.3 0.7-2.6 0.5-3.8 0.3-5.1 0.4-10.4 0.2-26.5 0.2-40.4 0.2-41.7 0.1-46.2 0.1-39.4 0.2-39.9 0.1-19.7 0.1-9 0-4.2 0.1 4.2 0.1 9 0.1 19.7 0.2 39.9 0.1 39.4 0.1 46.2 0.2 41.7 0.2 40.4 0.2 26.5 0.4 10.4 0.3 5.1 0.5 3.8 0.7 2.6 0.7 1.3 0.7-1.3 0.7-2.6 0.5-3.8 0.3-5.1 0.3-10.4 0.3-26.5 0.2-40.4 0.2-41.7 0.1-46.2 0.1-39.4 0.2-39.9 0.1-19.7 0-9 0.1-4.2 0.1 4.2 0.1 9 0.1 19.7 0.1 39.9 0.2 39.4 0.1 46.2 0.2 41.7 0.2 40.4 0.2 26.5 0.3 10.4 0.4 5.1 0.5 3.8 0.6 2.6 0.8 1.3 0.7-1.3 0.7-2.6 0.5-3.7 0.3-5 0.3-10.2 0.3-26.1 0.2-39.7 0.2-40.9 0.1-45.5 0.1-38.7 0.1-39.2 0.1-19.4 0.1-8.8 0.1-4.1 0.1 4.1 0.1 8.8 0.1 19.4 0.1 39.2 0.2 38.7 0.1 45.5 0.2 40.9 0.2 39.7 0.2 26.1 0.3 10.2 0.4 5 0.5 3.7 0.6 2.6 0.8 1.3 0.7-1.3 0.6-2.6 0.6-3.8 0.3-5 0.3-10.3 0.3-26.3 0.2-40.1 0.2-41.3 0.1-45.9 0.1-39 0.1-39.6 0.1-19.6 0.1-8.9 0.1-4.1 0.1 4.1 0.1 8.9 0.1 19.6 0.1 39.6 0.1 39 0.2 45.9 0.2 41.3 0.2 40.1 0.2 26.3 0.3 10.3 0.4 5 0.5 3.8 0.6 2.6 0.8 1.3 0.7-1.3 0.6-2.6 0.6-3.8 0.3-5.1 0.3-10.4 0.3-26.5 0.2-40.4 0.2-41.7 0.1-46.2 0.1-39.4 0.1-39.9 0.1-19.7 0.1-9 0.1-4.2 0.1 4.2 0.1 9 0.1 19.7 0.1 39.9 0.1 39.4 0.2 46.2 0.2 41.7 0.2 40.4 0.2 26.5 0.3 10.4 0.4 5.1 0.5 3.8 0.6 2.6 0.8 1.3 0.7-1.3 0.6-2.6 0.6-3.8 0.3-5.1 0.3-10.4 0.3-26.5 0.2-40.4 0.2-41.7 0.1-46.2 0.1-39.4 0.1-39.9 0.1-19.7 0.1-9 0.1-4.2 0.1 4.2 0.1 9 0.1 19.7 0.1 39.9 0.1 39.4 0.2 46.2 0.1 41.7 0.3 40.4 0.2 26.5 0.3 10.4 0.4 5.1 0.5 3.8 0.6 2.6 0.8 1.3 0.7-1.3 0.6-2.6 0.5-3.7 0.4-5 0.3-10.4 0.3-26.1 0.2-40 0.1-41.2 0.2-45.7 0.1-38.9 0.1-39.4 0.1-19.5 0.1-9 0.1-4.1 0.1 4.1 0.1 9 0.1 19.5 0.1 39.4 0.1 38.9 0.2 45.7 0.1 41.2 0.2 40 0.3 26.1 0.3 10.4 0.4 5 0.5 3.7 0.6 2.6 0.7 1.3 0.8-1.3 0.6-2.6 0.5-3.8 0.4-5 0.3-10.4 0.3-26.3 0.2-40.2 0.1-41.4 0.2-45.9 0.1-39.1 0.1-39.7 0.1-19.6 0.1-8.9 0.1-4.2 0.1 4.2 0.1 8.9 0.1 19.6 0.1 39.7 0.1 39.1 0.2 45.9 0.1 41.4 0.2 40.2 0.3 26.3 0.3 10.4 0.4 5 0.5 3.8 0.6 2.6 0.7 1.3 0.8-1.3 0.6-2.6 0.5-3.8 0.4-5 0.3-10.4 0.3-26.5 0.2-40.3 0.1-41.5 0.2-46.1 0.1-39.2 0.1-39.8 0.1-19.7 0.1-9 0.1-4.1 0.1 4.1 0.1 9 0.1 19.7 0.1 39.8 0.1 39.2 0.2 46.1 0.1 41.5 0.2 40.3 0.3 26.5 0.3 10.4 0.4 5 0.5 3.8 0.6 2.6 0.7 1.3 0.8-1.3 0.6-2.6 0.5-3.8 0.4-5 0.3-10.4 0.3-26.4 0.2-40.3 0.1-41.5 0.2-46.1 0.1-39.2 0.1-39.8 0.1-19.7 0.1-8.9 0.1-4.2 0.1 4.2 0.1 8.9 0.1 19.7 0.1 39.8 0.1 39.2 0.2 46.1 0.1 41.5 0.2 40.3 0.3 26.4 0.3 10.4 0.4 5 0.5 3.8 0.6 2.6 0.7 1.3 0.8-1.3 0.6-2.6 0.5-3.8 0.4-5 0.3-10.5 0.2-26.4 0.3-40.3 0.1-41.6 0.2-46.1 0.1-39.3 0.1-39.8 0.1-19.7 0.1-9 0.1-4.1 0.1 4.1 0.1 9 0.1 19.7 0.1 39.8 0.1 39.3 0.1 46.1 0.2 41.6 0.2 40.3 0.3 26.4 0.3 10.5 0.3 5 0.6 3.8 0.6 2.6 0.7 1.3 0.8-1.3 0.6-2.6 0.5-3.7 0.4-5 0.3-10.3 0.2-26.1 0.2-39.9 0.2-41.1 0.2-45.6 0.1-38.8 0.1-39.3 0.1-19.5 0.1-8.9 0.1-4.1 0.1 4.1 0.1 8.9 0.1 19.5 0.1 39.3 0.1 38.8 0.1 45.6 0.2 41.1 0.2 39.9 0.3 26.1 0.3 10.3 0.3 5 0.6 3.7 0.6 2.6 0.7 1.3 0.8-1.3 0.6-2.6 0.5-3.8 0.4-5 0.3-10.4 0.2-26.4 0.2-40.3 0.2-41.5 0.2-46 0.1-39.2 0.1-39.8 0.1-19.6 0.1-9 0.1-4.1 0.1 4.1 0.1 9 0.1 19.6 0.1 39.8 0.1 39.2 0.1 46 0.2 41.5 0.2 40.3 0.3 26.4 0.3 10.4 0.3 5 0.6 3.8 0.6 2.6 0.7 1.3 0.8-1.3 0.6-2.6 0.5-3.8 0.4-5 0.3-10.4 0.2-26.5 0.2-40.3 0.2-41.5 0.1-46.1 0.2-39.3 0.1-39.7 0.1-19.7 0.1-9 0.1-4.2 0.1 4.2 0.1 9 0.1 19.7 0.1 39.7 0.1 39.3 0.1 46.1 0.2 41.5 0.2 40.3 0.3 26.5 0.3 10.4 0.3 5 0.5 3.8 0.7 2.6 0.7 1.3 0.8-1.3 0.6-2.6 0.5-3.8 0.4-5 0.3-10.4 0.2-26.4 0.2-40.3 0.2-41.6 0.1-46 0.2-39.3 0.1-39.7 0.1-19.7 0.1-9 0.1-4.1 0.1 4.1 0 9 0.1 19.7 0.2 39.7 0.1 39.3 0.1 46 0.2 41.6 0.2 40.3 0.3 26.4 0.3 10.4 0.3 5 0.5 3.8 0.7 2.6 0.7 1.3 0.7-1.3 0.7-2.6 0.5-3.8 0.3-5.1 0.4-10.4 0.2-26.4 0.2-40.4 0.2-41.6 0.1-46.2 0.1-39.3 0.2-39.9 0.1-19.7 0.1-9 0.1-4.1 0 4.1 0.1 9 0.1 19.7 0.2 39.9 0.1 39.3 0.1 46.2 0.2 41.6 0.2 40.4 0.2 26.4 0.4 10.4 0.3 5.1 0.5 3.8 0.7 2.6 0.7 1.3 0.7-1.3 0.7-2.6 0.5-3.8 0.3-5 0.4-10.5 0.2-26.4 0.2-40.4 0.2-41.5 0.1-46.2 0.1-39.3 0.2-39.8 0.1-19.7 0.1-9 0-4.1 0.1 4.1 0.1 9 0.1 19.7 0.1 39.8 0.2 39.3 0.1 46.2 0.2 41.5 0.2 40.4 0.2 26.4 0.3 10.5 0.4 5 0.5 3.8 0.6 2.6 0.8 1.3 0.7-1.3 0.7-2.6 0.5-3.7 0.3-5 0.3-10.4 0.3-26.2 0.2-40 0.2-41.2 0.1-45.8 0.1-39 0.1-39.5 0.2-19.5 0-8.9 0.1-4.2 0.1 4.2 0.1 8.9 0.1 19.5 0.1 39.5 0.2 39 0.1 45.8 0.2 41.2 0.2 40 0.2 26.2 0.3 10.4 0.4 5 0.5 3.7 0.6 2.6 0.8 1.3 0.7-1.3 0.6-2.6 0.6-3.8 0.3-5.1 0.3-10.4 0.3-26.5 0.2-40.4 0.2-41.7 0.1-46.2 0.1-39.3 0.1-39.9 0.1-19.8 0.1-9 0.1-4.1 0.1 4.1 0.1 9 0.1 19.8 0.1 39.9 0.1 39.3 0.2 46.2 0.2 41.7 0.2 40.4 0.2 26.5 0.3 10.4 0.4 5.1 0.5 3.8 0.6 2.6 0.8 1.3 0.7-1.3 0.6-2.6 0.6-3.8 0.3-5 0.3-10.4 0.3-26.4 0.2-40.3 0.2-41.4 0.1-46.1 0.1-39.2 0.1-39.7 0.1-19.7 0.1-9 0.1-4.1 0.1 4.1 0.1 9 0.1 19.7 0.1 39.7 0.1 39.2 0.2 46.1 0.2 41.4 0.2 40.3 0.2 26.4 0.3 10.4 0.4 5 0.5 3.8 0.6 2.6 0.8 1.3 0.7-1.3 0.6-2.6 0.6-3.7 0.3-5 0.3-10.4 0.3-26.2 0.2-40 0.2-41.2 0.1-45.7 0.1-39 0.1-39.5 0.1-19.5 0.1-8.9 0.1-4.1 0.1 4.1 0.1 8.9 0.1 19.5 0.1 39.5 0.1 39 0.2 45.7 0.1 41.2 0.3 40 0.2 26.2 0.3 10.4 0.4 5 0.5 3.7 0.6 2.6 0.8 1.3 0.7-1.3 0.6-2.6 0.5-3.8 0.4-5 0.3-10.4 0.3-26.3 0.2-40.2 0.2-41.4 0.1-46 0.1-39.1 0.1-39.6 0.1-19.7 0.1-8.9 0.1-4.2 0.1 4.2 0.1 8.9 0.1 19.7 0.1 39.6 0.1 39.1 0.2 46 0.1 41.4 0.2 40.2 0.3 26.3 0.3 10.4 0.4 5 0.5 3.8 0.6 2.6 0.7 1.3 0.8-1.3 0.6-2.6 0.5-3.8 0.4-5.1 0.3-10.4 0.3-26.5 0.2-40.4 0.1-41.6 0.2-46.3 0.1-39.3 0.1-39.9 0.1-19.7 0.1-9 0.1-4.2 0.1 4.2 0.1 9 0.1 19.7 0.1 39.9 0.1 39.3 0.2 46.3 0.1 41.6 0.2 40.4 0.3 26.5 0.3 10.4 0.4 5.1 0.5 3.8 0.6 2.6 0.7 1.3 0.8-1.3 0.6-2.6 0.5-3.8 0.4-5 0.3-10.4 0.3-26.3 0.2-40.2 0.1-41.4 0.2-45.9 0.1-39.2 0.1-39.6 0.1-19.6 0.1-9 0.1-4.1 0.1 4.1 0.1 9 0.1 19.6 0.1 39.6 0.1 39.2 0.2 45.9 0.1 41.4 0.2 40.2 0.3 26.3 0.3 10.4 0.4 5 0.5 3.8 0.6 2.6 0.7 1.3 0.8-1.3 0.6-2.6 0.5-3.8 0.4-5 0.3-10.4 0.3-26.4 0.2-40.3 0.1-41.6 0.2-46.1 0.1-39.2 0.1-39.8 0.1-19.6 0.1-9 0.1-4.2 0.1 4.2 0.1 9 0.1 19.6 0.1 39.8 0.1 39.2 0.2 46.1 0.1 41.6 0.2 40.3 0.3 26.4 0.3 10.4 0.4 5 0.5 3.8 0.6 2.6 0.7 1.3 0.8-1.3 0.6-2.6 0.5-3.7 0.4-5 0.3-10.4 0.3-26.2 0.2-40.1 0.1-41.2 0.2-45.8 0.1-39 0.1-39.5 0.1-19.6 0.1-8.9 0.1-4.1 0.1 4.1 0.1 8.9 0.1 19.6 0.1 39.5 0.1 39 0.1 45.8 0.2 41.2 0.2 40.1 0.3 26.2 0.3 10.4 0.4 5 0.5 3.7 0.6 2.6 0.7 1.3 0.8-1.3 0.6-2.6 0.5-3.8 0.4-5.1 0.3-10.4 0.2-26.5 0.3-40.4 0.1-41.7 0.2-46.2 0.1-39.4 0.1-39.8 0.1-19.8 0.1-9 0.1-4.2 0.1 4.2 0.1 9 0.1 19.8 0.1 39.8 0.1 39.4 0.1 46.2 0.2 41.7 0.2 40.4 0.3 26.5 0.3 10.4 0.3 5.1 0.6 3.8 0.6 2.6 0.7 1.3 0.8-1.3 0.6-2.6 0.5-3.8 0.4-5 0.3-10.4 0.2-26.3 0.2-40.2 0.2-41.5 0.2-46 0.1-39.1 0.1-39.7 0.1-19.6 0.1-9 0.1-4.1 0.1 4.1 0.1 9 0.1 19.6 0.1 39.7 0.1 39.1 0.1 46 0.2 41.5 0.2 40.2 0.3 26.3 0.3 10.4 0.3 5 0.6 3.8 0.6 2.6 0.7 1.3 0.8-1.3 0.6-2.6 0.5-3.7 0.4-5 0.3-10.3 0.2-26.2 0.2-40 0.2-41.1 0.1-45.7 0.2-38.9 0.1-39.5 0.1-19.5 0.1-8.9 0.1-4.1 0.1 4.1 0.1 8.9 0.1 19.5 0.1 39.5 0.1 38.9 0.1 45.7 0.2 41.1 0.2 40 0.3 26.2 0.3 10.3 0.3 5 0.5 3.7 0.7 2.6 0.7 1.3 0.8-1.3 0.6-2.6 0.5-3.8 0.4-5 0.3-10.4 0.2-26.4 0.2-40.3 0.2-41.6 0.1-46 0.2-39.3 0.1-39.7 0.1-19.7 0.1-9 0.1-4.2 0.1 4.2 0 9 0.1 19.7 0.2 39.7 0.1 39.3 0.1 46 0.2 41.6 0.2 40.3 0.3 26.4 0.3 10.4 0.3 5 0.5 3.8 0.7 2.6 0.7 1.3 0.8-1.3 0.6-2.6 0.5-3.7 0.4-5 0.3-10.3 0.2-26 0.2-39.8 0.2-41.1 0.1-45.5 0.1-38.8 0.2-39.2 0.1-19.5 0.1-8.8 0.1-4.2 0 4.2 0.1 8.8 0.1 19.5 0.2 39.2 0.1 38.8 0.1 45.5 0.2 41.1 0.2 39.8 0.2 26 0.4 10.3 0.3 5 0.5 3.7 0.7 2.6 0.7 1.3 0.7-1.3 0.7-2.6 0.5-3.7 0.3-4.9 0.4-10.3 0.2-26 0.2-39.7 0.2-40.9 0.1-45.3 0.1-38.7 0.2-39.1 0.1-19.4 0.1-8.9 0-4.1 0.1 4.1 0.1 8.9 0.1 19.4 0.1 39.1 0.2 38.7 0.1 45.3 0.2 40.9 0.2 39.7 0.2 26 0.3 10.3 0.4 4.9 0.5 3.7 0.6 2.6 0.8 1.3 0.7-1.3 0.7-2.6 0.5-3.8 0.3-5 0.3-10.4 0.3-26.5 0.2-40.3 0.2-41.5 0.1-46.1 0.1-39.3 0.2-39.7 0.1-19.7 0-9 0.1-4.2 0.1 4.2 0.1 9 0.1 19.7 0.1 39.7 0.2 39.3 0.1 46.1 0.2 41.5 0.2 40.3 0.2 26.5 0.3 10.4 0.4 5 0.5 3.8 0.6 2.6 0.8 1.3 0.7-1.3 0.7-2.6 0.5-3.8 0.3-5 0.3-10.3 0.3-26.3 0.2-40.1 0.2-41.3 0.1-45.9 0.1-39 0.1-39.6 0.1-19.5 0.1-9 0.1-4.1 0.1 4.1 0.1 9 0.1 19.5 0.1 39.6 0.2 39 0.1 45.9 0.2 41.3 0.2 40.1 0.2 26.3 0.3 10.3 0.4 5 0.5 3.8 0.6 2.6 0.8 1.3 0.7-1.3 0.6-2.6 0.6-3.8 0.3-5 0.3-10.5 0.3-26.4 0.2-40.4 0.2-41.6 0.1-46.1 0.1-39.3 0.1-39.9 0.1-19.7 0.1-9 0.1-4.1 0.1 4.1 0.1 9 0.1 19.7 0.1 39.9 0.1 39.3 0.2 46.1 0.2 41.6 0.2 40.4 0.2 26.4 0.3 10.5 0.4 5 0.5 3.8 0.6 2.6 0.8 1.3 0.7-1.3 0.6-2.5 0.6-3.8 0.3-4.9 0.3-10.2 0.3-26 0.2-39.6 0.2-40.8 0.1-45.3 0.1-38.6 0.1-39.1 0.1-19.3 0.1-8.8 0.1-4.1 0.1 4.1 0.1 8.8 0.1 19.3 0.1 39.1 0.1 38.6 0.2 45.3 0.1 40.8 0.3 39.6 0.2 26 0.3 10.2 0.4 4.9 0.5 3.8 0.6 2.5 0.8 1.3 0.7-1.3 0.6-2.6 0.5-3.8 0.4-5 0.3-10.3 0.3-26.3 0.2-40.1 0.2-41.4 0.1-45.9 0.1-39 0.1-39.6 0.1-19.6 0.1-9 0.1-4.1 0.1 4.1 0.1 9 0.1 19.6 0.1 39.6 0.1 39 0.2 45.9 0.1 41.4 0.2 40.1 0.3 26.3 0.3 10.3 0.4 5 0.5 3.8 0.6 2.6 0.8 1.3 0.7-1.3 0.6-2.6 0.5-3.8 0.4-5 0.3-10.4 0.3-26.3 0.2-40.2 0.1-41.4 0.2-46 0.1-39.1 0.1-39.7 0.1-19.6 0.1-9 0.1-4.1 0.1 4.1 0.1 9 0.1 19.6 0.1 39.7 0.1 39.1 0.2 46 0.1 41.4 0.2 40.2 0.3 26.3 0.3 10.4 0.4 5 0.5 3.8 0.6 2.6 0.7 1.3 0.8-1.3 0.6-2.6 0.5-3.8 0.4-5 0.3-10.5 0.3-26.4 0.2-40.4 0.1-41.5 0.2-46.2 0.1-39.3 0.1-39.8 0.1-19.7 0.1-9 0.1-4.1 0.1 4.1 0.1 9 0.1 19.7 0.1 39.8 0.1 39.3 0.2 46.2 0.1 41.5 0.2 40.4 0.3 26.4 0.3 10.5 0.4 5 0.5 3.8 0.6 2.6 0.7 1.3 0.8-1.3 0.6-2.6 0.5-3.8 0.4-5 0.3-10.4 0.3-26.4 0.2-40.2 0.1-41.5 0.2-46 0.1-39.2 0.1-39.7 0.1-19.7 0.1-8.9 0.1-4.2 0.1 4.2 0.1 8.9 0.1 19.7 0.1 39.7 0.1 39.2 0.2 46 0.1 41.5 0.2 40.2 0.3 26.4 0.3 10.4 0.4 5 0.5 3.8 0.6 2.6 0.7 1.3 0.8-1.3 0.6-2.6 0.5-3.8 0.4-5 0.3-10.5 0.3-26.4 0.2-40.4 0.1-41.6 0.2-46.1 0.1-39.3 0.1-39.8 0.1-19.7 0.1-9 0.1-4.2 0.1 4.2 0.1 9 0.1 19.7 0.1 39.8 0.1 39.3 0.1 46.1 0.2 41.6 0.2 40.4 0.3 26.4 0.3 10.5 0.4 5 0.5 3.8 0.6 2.6 0.7 1.3 0.8-1.3 0.6-2.6 0.5-3.8 0.4-5 0.3-10.5 0.2-26.4 0.3-40.4 0.1-41.5 0.2-46.2 0.1-39.3 0.1-39.8 0.1-19.7 0.1-9 0.1-4.1 0.1 4.1 0.1 9 0.1 19.7 0.1 39.8 0.1 39.3 0.1 46.2 0.2 41.5 0.2 40.4 0.3 26.4 0.3 10.5 0.3 5 0.6 3.8 0.6 2.6 0.7 1.3 0.8-1.3 0.6-2.6 0.5-3.8 0.4-5 0.3-10.4 0.2-26.3 0.2-40.1 0.2-41.4 0.2-46 0.1-39.1 0.1-39.6 0.1-19.6 0.1-9 0.1-4.1 0.1 4.1 0.1 9 0.1 19.6 0.1 39.6 0.1 39.1 0.1 46 0.2 41.4 0.2 40.1 0.3 26.3 0.3 10.4 0.3 5 0.6 3.8 0.6 2.6 0.7 1.3 0.8-1.3 0.6-2.6 0.5-3.8 0.4-5 0.3-10.4 0.2-26.4 0.2-40.2 0.2-41.5 0.2-46 0.1-39.2 0.1-39.6 0.1-19.7 0.1-9 0.1-4.1 0.1 4.1 0.1 9 0.1 19.7 0.1 39.6 0.1 39.2 0.1 46 0.2 41.5 0.2 40.2 0.3 26.4 0.3 10.4 0.3 5 0.6 3.8 0.6 2.6 0.7 1.3 0.8-1.3 0.6-2.6 0.5-3.8 0.4-5 0.3-10.3 0.2-26.2 0.2-40.1 0.2-41.2 0.1-45.8 0.2-39 0.1-39.6 0.1-19.5 0.1-8.9 0.1-4.2 0.1 4.2 0 8.9 0.2 19.5 0.1 39.6 0.1 39 0.1 45.8 0.2 41.2 0.2 40.1 0.3 26.2 0.3 10.3 0.3 5 0.5 3.8 0.7 2.6 0.7 1.3 0.8-1.3 0.6-2.6 0.5-3.8 0.4-5.1 0.3-10.4 0.2-26.5 0.2-40.4 0.2-41.6 0.1-46.2 0.2-39.3 0.1-39.9 0.1-19.7 0.1-9 0.1-4.2 0 4.2 0.1 9 0.1 19.7 0.2 39.9 0.1 39.3 0.1 46.2 0.2 41.6 0.2 40.4 0.2 26.5 0.4 10.4 0.3 5.1 0.5 3.8 0.7 2.6 0.7 1.3 0.7-1.3 0.7-2.6 0.5-3.8 0.3-5.1 0.4-10.4 0.2-26.5 0.2-40.4 0.2-41.6 0.1-46.2 0.1-39.4 0.2-39.9 0.1-19.7 0.1-9 0-4.2 0.1 4.2 0.1 9 0.1 19.7 0.2 39.9 0.1 39.4 0.1 46.2 0.2 41.6 0.2 40.4 0.2 26.5 0.4 10.4 0.3 5.1 0.5 3.8 0.7 2.6 0.7 1.3 0.7-1.3 0.7-2.6 0.5-3.7 0.3-5 0.3-10.4 0.3-26.2 0.2-40.1 0.2-41.2 0.1-45.8 0.1-39 0.2-39.5 0.1-19.6 0-8.9 0.1-4.1 0.1 4.1 0.1 8.9 0.1 19.6 0.1 39.5 0.2 39 0.1 45.8 0.2 41.2 0.2 40.1 0.2 26.2 0.3 10.4 0.4 5 0.5 3.7 0.6 2.6 0.8 1.3 0.7-1.3 0.7-2.6 0.5-3.8 0.3-5 0.3-10.5 0.3-26.4 0.2-40.3 0.2-41.6 0.1-46.1 0.1-39.3 0.1-39.7 0.1-19.7 0.1-9 0.1-4.2 0.1 4.2 0.1 9 0.1 19.7 0.1 39.7 0.2 39.3 0.1 46.1 0.2 41.6 0.2 40.3 0.2 26.4 0.3 10.5 0.4 5 0.5 3.8 0.6 2.6 0.8 1.3 0.7-1.3 0.6-2.6 0.6-3.8 0.3-5 0.3-10.3 0.3-26.3 0.2-40.1 0.2-41.4 0.1-45.8 0.1-39.1 0.1-39.6 0.1-19.5 0.1-9 0.1-4.1 0.1 4.1 0.1 9 0.1 19.5 0.1 39.6 0.1 39.1 0.2 45.8 0.2 41.4 0.2 40.1 0.2 26.3 0.3 10.3 0.4 5 0.5 3.8 0.6 2.6 0.8 1.3 0.7-1.3 0.6-2.6 0.6-3.8 0.3-5 0.3-10.3 0.3-26.3 0.2-40 0.2-41.3 0.1-45.8 0.1-39.1 0.1-39.5 0.1-19.6 0.1-8.9 0.1-4.1 0.1 4.1 0.1 8.9 0.1 19.6 0.1 39.5 0.1 39.1 0.2 45.8 0.1 41.3 0.3 40 0.2 26.3 0.3 10.3 0.4 5 0.5 3.8 0.6 2.6 0.8 1.3 0.7-1.3 0.6-2.6 0.6-3.8 0.3-5 0.3-10.5 0.3-26.4 0.2-40.4 0.2-41.5 0.1-46.2 0.1-39.3 0.1-39.8 0.1-19.7 0.1-9 0.1-4.2 0.1 4.2 0.1 9 0.1 19.7 0.1 39.8 0.1 39.3 0.2 46.2 0.1 41.5 0.3 40.4 0.2 26.4 0.3 10.5 0.4 5 0.5 3.8 0.6 2.6 0.8 1.3 0.7-1.3 0.6-2.6 0.5-3.8 0.4-5.1 0.3-10.4 0.3-26.5 0.2-40.3 0.1-41.7 0.2-46.2 0.1-39.3 0.1-39.8 0.1-19.8 0.1-9 0.1-4.1 0.1 4.1 0.1 9 0.1 19.8 0.1 39.8 0.1 39.3 0.2 46.2 0.1 41.7 0.2 40.3 0.3 26.5 0.3 10.4 0.4 5.1 0.5 3.8 0.6 2.6 0.7 1.3 0.8-1.3 0.6-2.6 0.5-3.8 0.4-5 0.3-10.4 0.3-26.3 0.2-40.2 0.1-41.5 0.2-46 0.1-39.1 0.1-39.7 0.1-19.6 0.1-9 0.1-4.1 0.1 4.1 0.1 9 0.1 19.6 0.1 39.7 0.1 39.1 0.2 46 0.1 41.5 0.2 40.2 0.3 26.3 0.3 10.4 0.4 5 0.5 3.8 0.6 2.6 0.7 1.3 0.8-1.3 0.6-2.6 0.5-3.8 0.4-5.1 0.3-10.4 0.3-26.4 0.2-40.4 0.1-41.6 0.2-46.2 0.1-39.3 0.1-39.9 0.1-19.7 0.1-9 0.1-4.2 0.1 4.2 0.1 9 0.1 19.7 0.1 39.9 0.1 39.3 0.2 46.2 0.1 41.6 0.2 40.4 0.3 26.4 0.3 10.4 0.4 5.1 0.5 3.8 0.6 2.6 0.7 1.3 0.8-1.3 0.6-2.6 0.5-3.7 0.4-4.9 0.3-10.3 0.3-26 0.2-39.7 0.1-40.9 0.2-45.4 0.1-38.7 0.1-39.1 0.1-19.4 0.1-8.9 0.1-4 0.1 4 0.1 8.9 0.1 19.4 0.1 39.1 0.1 38.7 0.2 45.4 0.1 40.9 0.2 39.7 0.3 26 0.3 10.3 0.4 4.9 0.5 3.7 0.6 2.6 0.7 1.3 0.8-1.3 0.6-2.6 0.5-3.7 0.4-5 0.3-10.4 0.2-26.2 0.3-40 0.1-41.2 0.2-45.8 0.1-39 0.1-39.4 0.1-19.6 0.1-8.9 0.1-4.1 0.1 4.1 0.1 8.9 0.1 19.6 0.1 39.4 0.1 39 0.1 45.8 0.2 41.2 0.2 40 0.3 26.2 0.3 10.4 0.3 5 0.6 3.7 0.6 2.6 0.7 1.3 0.8-1.3 0.6-2.6 0.5-3.8 0.4-5 0.3-10.4 0.2-26.4 0.2-40.3 0.2-41.5 0.2-46.1 0.1-39.3 0.1-39.7 0.1-19.7 0.1-9 0.1-4.1 0.1 4.1 0.1 9 0.1 19.7 0.1 39.7 0.1 39.3 0.1 46.1 0.2 41.5 0.2 40.3 0.3 26.4 0.3 10.4 0.3 5 0.6 3.8 0.6 2.6 0.7 1.3 0.8-1.3 0.6-2.6 0.5-3.7 0.4-4.9 0.3-10.3 0.2-25.9 0.2-39.7 0.2-40.8 0.2-45.4 0.1-38.6 0.1-39.1 0.1-19.4 0.1-8.8 0.1-4.1 0.1 4.1 0.1 8.8 0.1 19.4 0.1 39.1 0.1 38.6 0.1 45.4 0.2 40.8 0.2 39.7 0.3 25.9 0.3 10.3 0.3 4.9 0.6 3.7 0.6 2.6 0.7 1.3 0.8-1.3 0.6-2.6 0.5-3.8 0.4-5 0.3-10.3 0.2-26.3 0.2-40.1 0.2-41.4 0.1-45.8 0.2-39.1 0.1-39.6 0.1-19.6 0.1-8.9 0.1-4.2 0.1 4.2 0.1 8.9 0.1 19.6 0.1 39.6 0.1 39.1 0.1 45.8 0.2 41.4 0.2 40.1 0.3 26.3 0.3 10.3 0.3 5 0.5 3.8 0.7 2.6 0.7 1.3 0.8-1.3 0.6-2.6 0.5-3.7 0.4-5 0.3-10.2 0.2-26.1 0.2-39.8 0.2-41 0.1-45.5 0.2-38.8 0.1-39.2 0.1-19.4 0.1-8.9 0.1-4.1 0.1 4.1 0 8.9 0.1 19.4 0.2 39.2 0.1 38.8 0.1 45.5 0.2 41 0.2 39.8 0.3 26.1 0.3 10.2 0.3 5 0.5 3.7 0.7 2.6 0.7 1.3 0.7-1.3 0.7-2.6 0.5-3.8 0.3-5 0.4-10.4 0.2-26.3 0.2-40.1 0.2-41.4 0.1-45.9 0.1-39.1 0.2-39.6 0.1-19.6 0.1-8.9 0.1-4.2 0 4.2 0.1 8.9 0.1 19.6 0.2 39.6 0.1 39.1 0.1 45.9 0.2 41.4 0.2 40.1 0.2 26.3 0.4 10.4 0.3 5 0.5 3.8 0.7 2.6 0.7 1.3 0.7-1.3 0.7-2.6 0.5-3.8 0.3-5 0.4-10.3 0.2-26.3 0.2-40.1 0.2-41.4 0.1-45.8 0.1-39.1 0.2-39.6 0.1-19.6 0.1-8.9 0-4.2 0.1 4.2 0.1 8.9 0.1 19.6 0.1 39.6 0.2 39.1 0.1 45.8 0.2 41.4 0.2 40.1 0.2 26.3 0.3 10.3 0.4 5 0.5 3.8 0.6 2.6 0.8 1.3 0.7-1.3 0.7-2.6 0.5-3.8 0.3-5 0.3-10.4 0.3-26.3 0.2-40.1 0.2-41.3 0.1-46 0.1-39 0.1-39.6 0.2-19.6 0-9 0.1-4.1 0.1 4.1 0.1 9 0.1 19.6 0.1 39.6 0.2 39 0.1 46 0.2 41.3 0.2 40.1 0.2 26.3 0.3 10.4 0.4 5 0.5 3.8 0.6 2.6 0.8 1.3 0.7-1.3 0.6-2.6 0.6-3.8 0.3-5.1 0.3-10.4 0.3-26.4 0.2-40.4 0.2-41.6 0.1-46.2 0.1-39.3 0.1-39.8 0.1-19.8 0.1-9 0.1-4.1 0.1 4.1 0.1 9 0.1 19.8 0.1 39.8 0.1 39.3 0.2 46.2 0.2 41.6 0.2 40.4 0.2 26.4 0.3 10.4 0.4 5.1 0.5 3.8 0.6 2.6 0.8 1.3 0.7-1.3 0.6-2.6 0.6-3.7 0.3-5 0.3-10.3 0.3-26.1 0.2-39.9 0.2-41 0.1-45.6 0.1-38.9 0.1-39.3 0.1-19.4 0.1-8.9 0.1-4.2 0.1 4.2 0.1 8.9 0.1 19.4 0.1 39.3 0.1 38.9 0.2 45.6 0.2 41 0.2 39.9 0.2 26.1 0.3 10.3 0.4 5 0.5 3.7 0.6 2.6 0.8 1.3 0.7-1.3 0.6-2.6 0.6-3.7 0.3-5 0.3-10.4 0.3-26.1 0.2-40 0.2-41.2 0.1-45.7 0.1-38.9 0.1-39.5 0.1-19.5 0.1-8.9 0.1-4.1 0.1 4.1 0.1 8.9 0.1 19.5 0.1 39.5 0.1 38.9 0.2 45.7 0.1 41.2 0.3 40 0.2 26.1 0.3 10.4 0.4 5 0.5 3.7 0.6 2.6 0.8 1.3 0.7-1.3 0.6-2.6 0.5-3.7 0.4-5 0.3-10.3 0.3-26.2 0.2-39.8 0.2-41.2 0.1-45.6 0.1-38.8 0.1-39.4 0.1-19.5 0.1-8.9 0.1-4.1 0.1 4.1 0.1 8.9 0.1 19.5 0.1 39.4 0.1 38.8 0.2 45.6 0.1 41.2 0.2 39.8 0.3 26.2 0.3 10.3 0.4 5 0.5 3.7 0.6 2.6 0.7 1.3 0.8-1.3 0.6-2.6 0.5-3.8 0.4-5.1 0.3-10.4 0.3-26.5 0.2-40.4 0.1-41.6 0.2-46.2 0.1-39.3 0.1-39.9 0.1-19.7 0.1-9 0.1-4.2 0.1 4.2 0.1 9 0.1 19.7 0.1 39.9 0.1 39.3 0.2 46.2 0.1 41.6 0.2 40.4 0.3 26.5 0.3 10.4 0.4 5.1 0.5 3.8 0.6 2.6 0.7 1.3 0.8-1.3 0.6-2.6 0.5-3.8 0.4-5 0.3-10.5 0.3-26.4 0.2-40.3 0.1-41.5 0.2-46.2 0.1-39.2 0.1-39.8 0.1-19.7 0.1-9 0.1-4.1 0.1 4.1 0.1 9 0.1 19.7 0.1 39.8 0.1 39.2 0.2 46.2 0.1 41.5 0.2 40.3 0.3 26.4 0.3 10.5 0.4 5 0.5 3.8 0.6 2.6 0.7 1.3 0.8-1.3 0.6-2.6 0.5-3.8 0.4-5.1 0.3-10.4 0.3-26.4 0.2-40.4 0.1-41.6 0.2-46.1 0.1-39.4 0.1-39.8 0.1-19.7 0.1-9 0.1-4.1 0.1 4.1 0.1 9 0.1 19.7 0.1 39.8 0.1 39.4 0.2 46.1 0.1 41.6 0.2 40.4 0.3 26.4 0.3 10.4 0.4 5.1 0.5 3.8 0.6 2.6 0.7 1.3 0.8-1.3 0.6-2.6 0.5-3.8 0.4-5 0.3-10.3 0.3-26.3 0.2-40 0.1-41.3 0.2-45.8 0.1-39.1 0.1-39.5 0.1-19.5 0.1-9 0.1-4.1 0.1 4.1 0.1 9 0.1 19.5 0.1 39.5 0.1 39.1 0.1 45.8 0.2 41.3 0.2 40 0.3 26.3 0.3 10.3 0.4 5 0.5 3.8 0.6 2.6 0.7 1.3 0.8-1.3 0.6-2.6 0.5-3.7 0.4-5 0.3-10.4 0.2-26.2 0.3-40 0.1-41.3 0.2-45.7 0.1-39 0.1-39.5 0.1-19.5 0.1-9 0.1-4.1 0.1 4.1 0.1 9 0.1 19.5 0.1 39.5 0.1 39 0.1 45.7 0.2 41.3 0.2 40 0.3 26.2 0.3 10.4 0.3 5 0.6 3.7 0.6 2.6 0.7 1.3 0.8-1.3 0.6-2.6 0.5-3.8 0.4-5 0.3-10.4 0.2-26.4 0.2-40.2 0.2-41.4 0.2-46 0.1-39.2 0.1-39.7 0.1-19.6 0.1-9 0.1-4.1 0.1 4.1 0.1 9 0.1 19.6 0.1 39.7 0.1 39.2 0.1 46 0.2 41.4 0.2 40.2 0.3 26.4 0.3 10.4 0.3 5 0.6 3.8 0.6 2.6 0.7 1.3 0.8-1.3 0.6-2.6 0.5-3.8 0.4-5.1 0.3-10.4 0.2-26.5 0.2-40.4 0.2-41.6 0.1-46.2 0.2-39.4 0.1-39.8 0.1-19.8 0.1-9 0.1-4.1 0.1 4.1 0.1 9 0.1 19.8 0.1 39.8 0.1 39.4 0.1 46.2 0.2 41.6 0.2 40.4 0.3 26.5 0.3 10.4 0.3 5.1 0.5 3.8 0.7 2.6 0.7 1.3 0.8-1.3 0.6-2.6 0.5-3.8 0.4-5 0.3-10.3 0.2-26.3 0.2-40.2 0.2-41.3 0.1-45.9 0.2-39.1 0.1-39.6 0.1-19.6 0.1-9 0.1-4.1 0.1 4.1 0 9 0.1 19.6 0.2 39.6 0.1 39.1 0.1 45.9 0.2 41.3 0.2 40.2 0.3 26.3 0.3 10.3 0.3 5 0.5 3.8 0.7 2.6 0.7 1.3 0.8-1.3 0.6-2.6 0.5-3.8 0.4-5 0.3-10.4 0.2-26.3 0.2-40.2 0.2-41.4 0.1-46 0.1-39.1 0.2-39.7 0.1-19.6 0.1-9 0.1-4.1 0 4.1 0.1 9 0.1 19.6 0.2 39.7 0.1 39.1 0.1 46 0.2 41.4 0.2 40.2 0.2 26.3 0.4 10.4 0.3 5 0.5 3.8 0.7 2.6 0.7 1.3 0.7-1.3 0.7-2.6 0.5-3.7 0.3-5 0.4-10.3 0.2-26.2 0.2-40 0.2-41.2 0.1-45.7 0.1-38.9 0.2-39.4 0.1-19.5 0.1-8.9 0-4.1 0.1 4.1 0.1 8.9 0.1 19.5 0.1 39.4 0.2 38.9 0.1 45.7 0.2 41.2 0.2 40 0.2 26.2 0.3 10.3 0.4 5 0.5 3.7 0.6 2.6 0.8 1.3 0.7-1.3 0.7-2.6 0.5-3.7 0.3-5 0.3-10.4 0.3-26.1 0.2-40 0.2-41.2 0.1-45.7 0.1-38.9 0.2-39.4 0.1-19.5 0-9 0.1-4.1 0.1 4.1 0.1 9 0.1 19.5 0.1 39.4 0.2 38.9 0.1 45.7 0.2 41.2 0.2 40 0.2 26.1 0.3 10.4 0.4 5 0.5 3.7 0.6 2.6 0.8 1.3 0.7-1.3 0.7-2.6 0.5-3.8 0.3-5.1 0.3-10.4 0.3-26.4 0.2-40.4 0.2-41.6 0.1-46.2 0.1-39.3 0.1-39.8 0.1-19.7 0.1-9 0.1-4.2 0.1 4.2 0.1 9 0.1 19.7 0.1 39.8 0.2 39.3 0.1 46.2 0.2 41.6 0.2 40.4 0.2 26.4 0.3 10.4 0.4 5.1 0.5 3.8 0.6 2.6 0.8 1.3 0.7-1.3 0.6-2.6 0.6-3.8 0.3-5 0.3-10.3 0.3-26.3 0.2-40 0.2-41.3 0.1-45.9 0.1-39 0.1-39.5 0.1-19.6 0.1-8.9 0.1-4.1 0.1 4.1 0.1 8.9 0.1 19.6 0.1 39.5 0.1 39 0.2 45.9 0.2 41.3 0.2 40 0.2 26.3 0.3 10.3 0.4 5 0.5 3.8 0.6 2.6 0.8 1.3 0.7-1.3 0.6-2.6 0.6-3.8 0.3-5.1 0.3-10.4 0.3-26.5 0.2-40.4 0.2-41.7 0.1-46.2 0.1-39.3 0.1-39.9 0.1-19.7 0.1-9.1 0.1-4.1 0.1 4.1 0.1 9.1 0.1 19.7 0.1 39.9 0.1 39.3 0.2 46.2 0.1 41.7 0.3 40.4 0.2 26.5 0.3 10.4 0.4 5.1 0.5 3.8 0.6 2.6 0.8 1.3 0.7-1.3 0.6-2.6 0.5-3.8 0.4-5 0.3-10.4 0.3-26.3 0.2-40.2 0.2-41.3 0.1-46 0.1-39.1 0.1-39.6 0.1-19.6 0.1-9 0.1-4.2 0.1 4.2 0.1 9 0.1 19.6 0.1 39.6 0.1 39.1 0.2 46 0.1 41.3 0.2 40.2 0.3 26.3 0.3 10.4 0.4 5 0.5 3.8 0.6 2.6 0.8 1.3 0.7-1.3 0.6-2.6 0.5-3.8 0.4-5 0.3-10.4 0.3-26.5 0.2-40.3 0.1-41.5 0.2-46.1 0.1-39.2 0.1-39.8 0.1-19.7 0.1-9 0.1-4.1 0.1 4.1 0.1 9 0.1 19.7 0.1 39.8 0.1 39.2 0.2 46.1 0.1 41.5 0.2 40.3 0.3 26.5 0.3 10.4 0.4 5 0.5 3.8 0.6 2.6 0.7 1.3 0.8-1.3 0.6-2.6 0.5-3.8 0.4-5 0.3-10.4 0.3-26.3 0.2-40.3 0.1-41.4 0.2-46 0.1-39.2 0.1-39.7 0.1-19.6 0.1-9 0.1-4.1 0.1 4.1 0.1 9 0.1 19.6 0.1 39.7 0.1 39.2 0.2 46 0.1 41.4 0.2 40.3 0.3 26.3 0.3 10.4 0.4 5 0.5 3.8 0.6 2.6 0.7 1.3 0.8-1.3 0.6-2.6 0.5-3.8 0.4-5.1 0.3-10.4 0.3-26.5 0.2-40.4 0.1-41.7 0.2-46.2 0.1-39.4 0.1-39.8 0.1-19.8 0.1-9 0.1-4.1 0.1 4.1 0.1 9 0.1 19.8 0.1 39.8 0.1 39.4 0.2 46.2 0.1 41.7 0.2 40.4 0.3 26.5 0.3 10.4 0.4 5.1 0.5 3.8 0.6 2.6 0.7 1.3 0.8-1.3 0.6-2.6 0.5-3.8 0.4-5 0.3-10.4 0.3-26.4 0.2-40.3 0.1-41.5 0.2-46.1 0.1-39.2 0.1-39.8 0.1-19.6 0.1-9 0.1-4.2 0.1 4.2 0.1 9 0.1 19.6 0.1 39.8 0.1 39.2 0.1 46.1 0.2 41.5 0.2 40.3 0.3 26.4 0.3 10.4 0.4 5 0.5 3.8 0.6 2.6 0.7 1.3 0.8-1.3 0.6-2.6 0.5-3.8 0.4-5 0.3-10.5 0.2-26.4 0.3-40.3 0.1-41.5 0.2-46.1 0.1-39.3 0.1-39.8 0.1-19.6 0.1-9 0.1-4.2 0.1 4.2 0.1 9 0.1 19.6 0.1 39.8 0.1 39.3 0.1 46.1 0.2 41.5 0.2 40.3 0.3 26.4 0.3 10.5 0.3 5 0.6 3.8 0.6 2.6 0.7 1.3 0.8-1.3 0.6-2.6 0.5-3.7 0.4-5 0.3-10.3 0.2-26.2 0.2-39.9 0.2-41.1 0.2-45.7 0.1-38.9 0.1-39.4 0.1-19.4 0.1-8.9 0.1-4.2 0.1 4.2 0.1 8.9 0.1 19.4 0.1 39.4 0.1 38.9 0.1 45.7 0.2 41.1 0.2 39.9 0.3 26.2 0.3 10.3 0.3 5 0.6 3.7 0.6 2.6 0.7 1.3 0.8-1.3 0.6-2.6 0.5-3.8 0.4-5 0.3-10.3 0.2-26.3 0.2-40.2 0.2-41.3 0.2-45.9 0.1-39.1 0.1-39.6 0.1-19.6 0.1-8.9 0.1-4.2 0.1 4.2 0.1 8.9 0.1 19.6 0.1 39.6 0.1 39.1 0.1 45.9 0.2 41.3 0.2 40.2 0.3 26.3 0.3 10.3 0.3 5 0.5 3.8 0.7 2.6 0.7 1.3 0.8-1.3 0.6-2.6 0.5-3.7 0.4-5 0.3-10.3 0.2-26.1 0.2-39.8 0.2-41 0.1-45.6 0.2-38.7 0.1-39.3 0.1-19.5 0.1-8.8 0.1-4.1 0.1 4.1 0 8.8 0.2 19.5 0.1 39.3 0.1 38.7 0.1 45.6 0.2 41 0.2 39.8 0.3 26.1 0.3 10.3 0.3 5 0.5 3.7 0.7 2.6 0.7 1.3 0.8-1.3 0.6-2.6 0.5-3.8 0.4-5 0.3-10.4 0.2-26.3 0.2-40.2 0.2-41.4 0.1-45.9 0.2-39.2 0.1-39.6 0.1-19.6 0.1-9 0.1-4.1 0 4.1 0.1 9 0.1 19.6 0.2 39.6 0.1 39.2 0.1 45.9 0.2 41.4 0.2 40.2 0.2 26.3 0.4 10.4 0.3 5 0.5 3.8 0.7 2.6 0.7 1.3 0.7-1.3 0.7-2.6 0.5-3.7 0.3-5 0.4-10.4 0.2-26.2 0.2-40.1 0.2-41.2 0.1-45.8 0.1-39 0.2-39.5 0.1-19.6 0.1-8.9 0-4.1 0.1 4.1 0.1 8.9 0.1 19.6 0.2 39.5 0.1 39 0.1 45.8 0.2 41.2 0.2 40.1 0.2 26.2 0.4 10.4 0.3 5 0.5 3.7 0.7 2.6 0.7 1.3 0.7-1.3 0.7-2.6 0.5-3.8 0.3-5 0.3-10.4 0.3-26.4 0.2-40.3 0.2-41.6 0.1-46.1 0.1-39.2 0.2-39.8 0.1-19.6 0-9 0.1-4.2 0.1 4.2 0.1 9 0.1 19.6 0.1 39.8 0.2 39.2 0.1 46.1 0.2 41.6 0.2 40.3 0.2 26.4 0.3 10.4 0.4 5 0.5 3.8 0.6 2.6 0.8 1.3 0.7-1.3 0.7-2.6 0.5-3.7 0.3-5 0.3-10.3 0.3-26.2 0.2-39.9 0.2-41.1 0.1-45.6 0.1-38.9 0.1-39.4 0.1-19.5 0.1-8.9 0.1-4.1 0.1 4.1 0.1 8.9 0.1 19.5 0.1 39.4 0.2 38.9 0.1 45.6 0.2 41.1 0.2 39.9 0.2 26.2 0.3 10.3 0.4 5 0.5 3.7 0.6 2.6 0.8 1.3 0.7-1.3 0.6-2.6 0.6-3.7 0.3-5 0.3-10.3 0.3-26.2 0.2-39.8 0.2-41.1 0.1-45.7 0.1-38.8 0.1-39.4 0.1-19.5 0.1-8.9 0.1-4.1 0.1 4.1 0.1 8.9 0.1 19.5 0.1 39.4 0.1 38.8 0.2 45.7 0.2 41.1 0.2 39.8 0.2 26.2 0.3 10.3 0.4 5 0.5 3.7 0.6 2.6 0.8 1.3 0.7-1.3 0.6-2.6 0.6-3.8 0.3-5 0.3-10.5 0.3-26.4 0.2-40.3 0.2-41.6 0.1-46.2 0.1-39.3 0.1-39.8 0.1-19.7 0.1-9 0.1-4.1 0.1 4.1 0.1 9 0.1 19.7 0.1 39.8 0.1 39.3 0.2 46.2 0.1 41.6 0.3 40.3 0.2 26.4 0.3 10.5 0.4 5 0.5 3.8 0.6 2.6 0.8 1.3 0.7-1.3 0.6-2.6 0.6-3.8 0.3-5 0.3-10.4 0.3-26.3 0.2-40.2 0.2-41.4 0.1-46 0.1-39.1 0.1-39.7 0.1-19.6 0.1-9 0.1-4.1 0.1 4.1 0.1 9 0.1 19.6 0.1 39.7 0.1 39.1 0.2 46 0.1 41.4 0.3 40.2 0.2 26.3 0.3 10.4 0.4 5 0.5 3.8 0.6 2.6 0.8 1.3 0.7-1.3 0.6-2.6 0.5-3.7 0.4-5 0.3-10.2 0.3-26.1 0.2-39.8 0.1-41 0.2-45.5 0.1-38.7 0.1-39.3 0.1-19.4 0.1-8.9 0.1-4.1 0.1 4.1 0.1 8.9 0.1 19.4 0.1 39.3 0.1 38.7 0.2 45.5 0.1 41 0.2 39.8 0.3 26.1 0.3 10.2 0.4 5 0.5 3.7 0.6 2.6 0.7 1.3 0.8-1.3 0.6-2.6 0.5-3.8 0.4-5 0.3-10.4 0.3-26.3 0.2-40.1 0.1-41.4 0.2-45.9 0.1-39.1 0.1-39.7 0.1-19.5 0.1-9 0.1-4.1 0.1 4.1 0.1 9 0.1 19.5 0.1 39.7 0.1 39.1 0.2 45.9 0.1 41.4 0.2 40.1 0.3 26.3 0.3 10.4 0.4 5 0.5 3.8 0.6 2.6 0.7 1.3 0.8-1.3 0.6-2.6 0.5-3.8 0.4-5.1 0.3-10.4 0.3-26.5 0.2-40.4 0.1-41.6 0.2-46.3 0.1-39.3 0.1-39.9 0.1-19.7 0.1-9 0.1-4.2 0.1 4.2 0.1 9 0.1 19.7 0.1 39.9 0.1 39.3 0.2 46.3 0.1 41.6 0.2 40.4 0.3 26.5 0.3 10.4 0.4 5.1 0.5 3.8 0.6 2.6 0.7 1.3 0.8-1.3 0.6-2.6 0.5-3.8 0.4-5.1 0.3-10.4 0.3-26.5 0.2-40.4 0.1-41.6 0.2-46.2 0.1-39.3 0.1-39.9 0.1-19.7 0.1-9 0.1-4.2 0.1 4.2 0.1 9 0.1 19.7 0.1 39.9 0.1 39.3 0.2 46.2 0.1 41.6 0.2 40.4 0.3 26.5 0.3 10.4 0.4 5.1 0.5 3.8 0.6 2.6 0.7 1.3 0.8-1.3 0.6-2.6 0.5-3.8 0.4-5 0.3-10.4 0.2-26.3 0.3-40.1 0.1-41.4 0.2-45.9 0.1-39.1 0.1-39.6 0.1-19.6 0.1-9 0.1-4.1 0.1 4.1 0.1 9 0.1 19.6 0.1 39.6 0.1 39.1 0.1 45.9 0.2 41.4 0.2 40.1 0.3 26.3 0.3 10.4 0.3 5 0.6 3.8 0.6 2.6 0.7 1.3 0.8-1.3 0.6-2.6 0.5-3.8 0.4-5 0.3-10.4 0.2-26.4 0.2-40.2 0.2-41.5 0.2-46.1 0.1-39.2 0.1-39.7 0.1-19.6 0.1-9 0.1-4.2 0.1 4.2 0.1 9 0.1 19.6 0.1 39.7 0.1 39.2 0.1 46.1 0.2 41.5 0.2 40.2 0.3 26.4 0.3 10.4 0.3 5 0.6 3.8 0.6 2.6 0.7 1.3 0.8-1.3 0.6-2.6 0.5-3.8 0.4-5 0.3-10.4 0.2-26.4 0.2-40.2 0.2-41.4 0.2-46 0.1-39.2 0.1-39.7 0.1-19.6 0.1-9 0.1-4.2 0.1 4.2 0.1 9 0.1 19.6 0.1 39.7 0.1 39.2 0.1 46 0.2 41.4 0.2 40.2 0.3 26.4 0.3 10.4 0.3 5 0.6 3.8 0.6 2.6 0.7 1.3 0.8-1.3 0.6-2.6 0.5-3.8 0.4-5.1 0.3-10.4 0.2-26.4 0.2-40.4 0.2-41.6 0.1-46.2 0.2-39.3 0.1-39.8 0.1-19.7 0.1-9 0.1-4.2 0.1 4.2 0.1 9 0.1 19.7 0.1 39.8 0.1 39.3 0.1 46.2 0.2 41.6 0.2 40.4 0.3 26.4 0.3 10.4 0.3 5.1 0.5 3.8 0.7 2.6 0.7 1.3 0.8-1.3 0.6-2.6 0.5-3.7 0.4-5 0.3-10.4 0.2-26.2 0.2-40 0.2-41.3 0.1-45.7 0.2-39 0.1-39.5 0.1-19.5 0.1-8.9 0.1-4.2 0.1 4.2 0 8.9 0.1 19.5 0.2 39.5 0.1 39 0.1 45.7 0.2 41.3 0.2 40 0.2 26.2 0.4 10.4 0.3 5 0.5 3.7 0.7 2.6 0.7 1.3 0.7-1.3 0.7-2.6 0.5-3.7 0.3-5 0.4-10.4 0.2-26.2 0.2-39.9 0.2-41.2 0.1-45.8 0.1-38.9 0.2-39.4 0.1-19.5 0.1-9 0.1-4.1 0 4.1 0.1 9 0.1 19.5 0.2 39.4 0.1 38.9 0.1 45.8 0.2 41.2 0.2 39.9 0.2 26.2 0.4 10.4 0.3 5 0.5 3.7 0.7 2.6 0.7 1.3 0.7-1.3 0.7-2.6 0.5-3.7 0.3-5 0.4-10.3 0.2-26.2 0.2-39.9 0.2-41.2 0.1-45.7 0.1-38.9 0.2-39.4 0.1-19.5 0.1-8.9 0-4.1 0.1 4.1 0.1 8.9 0.1 19.5 0.1 39.4 0.2 38.9 0.1 45.7 0.2 41.2 0.2 39.9 0.2 26.2 0.3 10.3 0.4 5 0.5 3.7 0.6 2.6 0.8 1.3 0.7-1.3 0.7-2.6 0.5-3.8 0.3-5 0.3-10.4 0.3-26.4 0.2-40.2 0.2-41.5 0.1-46 0.1-39.2 0.1-39.7 0.2-19.6 0-9 0.1-4.1 0.1 4.1 0.1 9 0.1 19.6 0.1 39.7 0.2 39.2 0.1 46 0.2 41.5 0.2 40.2 0.2 26.4 0.3 10.4 0.4 5 0.5 3.8 0.6 2.6 0.8 1.3 0.7-1.3 0.6-2.6 0.6-3.8 0.3-5 0.3-10.5 0.3-26.4 0.2-40.3 0.2-41.5 0.1-46.1 0.1-39.3 0.1-39.8 0.1-19.7 0.1-8.9 0.1-4.2 0.1 4.2 0.1 8.9 0.1 19.7 0.1 39.8 0.1 39.3 0.2 46.1 0.2 41.5 0.2 40.3 0.2 26.4 0.3 10.5 0.4 5 0.5 3.8 0.6 2.6 0.8 1.3 0.7-1.3 0.6-2.6 0.6-3.8 0.3-5.1 0.3-10.4 0.3-26.5 0.2-40.4 0.2-41.6 0.1-46.2 0.1-39.4 0.1-39.9 0.1-19.7 0.1-9 0.1-4.2 0.1 4.2 0.1 9 0.1 19.7 0.1 39.9 0.1 39.4 0.2 46.2 0.2 41.6 0.2 40.4 0.2 26.5 0.3 10.4 0.4 5.1 0.5 3.8 0.6 2.6 0.8 1.3 0.7-1.3 0.6-2.6 0.6-3.8 0.3-5 0.3-10.4 0.3-26.4 0.2-40.3 0.2-41.4 0.1-46.1 0.1-39.2 0.1-39.7 0.1-19.7 0.1-9 0.1-4.1 0.1 4.1 0.1 9 0.1 19.7 0.1 39.7 0.1 39.2 0.2 46.1 0.1 41.4 0.3 40.3 0.2 26.4 0.3 10.4 0.4 5 0.5 3.8 0.6 2.6 0.8 1.3 0.7-1.3 0.6-2.6 0.5-3.8 0.4-5 0.3-10.4 0.3-26.4 0.2-40.2 0.2-41.5 0.1-46 0.1-39.2 0.1-39.7 0.1-19.6 0.1-9 0.1-4.1 0.1 4.1 0.1 9 0.1 19.6 0.1 39.7 0.1 39.2 0.2 46 0.1 41.5 0.2 40.2 0.3 26.4 0.3 10.4 0.4 5 0.5 3.8 0.6 2.6 0.7 1.3 0.8-1.3 0.6-2.6 0.5-3.8 0.4-5 0.3-10.4 0.3-26.3 0.2-40.2 0.1-41.4 0.2-46 0.1-39.1 0.1-39.7 0.1-19.6 0.1-9 0.1-4.1 0.1 4.1 0.1 9 0.1 19.6 0.1 39.7 0.1 39.1 0.2 46 0.1 41.4 0.2 40.2 0.3 26.3 0.3 10.4 0.4 5 0.5 3.8 0.6 2.6 0.7 1.3 0.8-1.3 0.6-2.6 0.5-3.8 0.4-5 0.3-10.4 0.3-26.5 0.2-40.3 0.1-41.5 0.2-46.1 0.1-39.3 0.1-39.8 0.1-19.6 0.1-9 0.1-4.2 0.1 4.2 0.1 9 0.1 19.6 0.1 39.8 0.1 39.3 0.2 46.1 0.1 41.5 0.2 40.3 0.3 26.5 0.3 10.4 0.4 5 0.5 3.8 0.6 2.6 0.7 1.3 0.8-1.3 0.6-2.6 0.5-3.8 0.4-5.1 0.3-10.4 0.3-26.4 0.2-40.4 0.1-41.6 0.2-46.2 0.1-39.3 0.1-39.8 0.1-19.7 0.1-9 0.1-4.2 0.1 4.2 0.1 9 0.1 19.7 0.1 39.8 0.1 39.3 0.2 46.2 0.1 41.6 0.2 40.4 0.3 26.4 0.3 10.4 0.4 5.1 0.5 3.8 0.6 2.6 0.7 1.3 0.8-1.3 0.6-2.6 0.5-3.8 0.4-5.1 0.3-10.4 0.3-26.5 0.2-40.4 0.1-41.6 0.2-46.3 0.1-39.3 0.1-39.9 0.1-19.7 0.1-9 0.1-4.2 0.1 4.2 0.1 9 0.1 19.7 0.1 39.9 0.1 39.3 0.1 46.3 0.2 41.6 0.2 40.4 0.3 26.5 0.3 10.4 0.4 5.1 0.5 3.8 0.6 2.6 0.7 1.3 0.8-1.3 0.6-2.6 0.5-3.7 0.4-5 0.3-10.4 0.2-26.2 0.3-40 0.1-41.2 0.2-45.7 0.1-39 0.1-39.4 0.1-19.5 0.1-9 0.1-4.1 0.1 4.1 0.1 9 0.1 19.5 0.1 39.4 0.1 39 0.1 45.7 0.2 41.2 0.2 40 0.3 26.2 0.3 10.4 0.3 5 0.6 3.7 0.6 2.6 0.7 1.3 0.8-1.3 0.6-2.6 0.5-3.8 0.4-5 0.3-10.4 0.2-26.3 0.2-40.2 0.2-41.4 0.2-45.9 0.1-39.1 0.1-39.7 0.1-19.6 0.1-8.9 0.1-4.2 0.1 4.2 0.1 8.9 0.1 19.6 0.1 39.7 0.1 39.1 0.1 45.9 0.2 41.4 0.2 40.2 0.3 26.3 0.3 10.4 0.3 5 0.6 3.8 0.6 2.6 0.7 1.3 0.8-1.3 0.6-2.6 0.5-3.8 0.4-5 0.3-10.4 0.2-26.4 0.2-40.3 0.2-41.5 0.1-46.1 0.2-39.2 0.1-39.8 0.1-19.6 0.1-9 0.1-4.2 0.1 4.2 0.1 9 0.1 19.6 0.1 39.8 0.1 39.2 0.1 46.1 0.2 41.5 0.2 40.3 0.3 26.4 0.3 10.4 0.3 5 0.5 3.8 0.7 2.6 0.7 1.3 0.8-1.3 0.6-2.6 0.5-3.8 0.4-5 0.3-10.4 0.2-26.3 0.2-40.3 0.2-41.4 0.1-46 0.2-39.2 0.1-39.6 0.1-19.7 0.1-8.9 0.1-4.2 0.1 4.2 0 8.9 0.1 19.7 0.2 39.6 0.1 39.2 0.1 46 0.2 41.4 0.2 40.3 0.3 26.3 0.3 10.4 0.3 5 0.5 3.8 0.7 2.6 0.7 1.3 0.8-1.3 0.6-2.6 0.5-3.7 0.4-5 0.3-10.3 0.2-26.2 0.2-39.9 0.2-41.1 0.1-45.7 0.1-38.9 0.2-39.4 0.1-19.4 0.1-8.9 0.1-4.2 0 4.2 0.1 8.9 0.1 19.4 0.2 39.4 0.1 38.9 0.1 45.7 0.2 41.1 0.2 39.9 0.2 26.2 0.4 10.3 0.3 5 0.5 3.7 0.7 2.6 0.7 1.3 0.7-1.3 0.7-2.6 0.5-3.8 0.3-5 0.4-10.3 0.2-26.3 0.2-40 0.2-41.3 0.1-45.9 0.1-39 0.2-39.6 0.1-19.5 0.1-9 0-4.1 0.1 4.1 0.1 9 0.1 19.5 0.1 39.6 0.2 39 0.1 45.9 0.2 41.3 0.2 40 0.2 26.3 0.3 10.3 0.4 5 0.5 3.8 0.6 2.6 0.8 1.3 0.7-1.3 0.7-2.6 0.5-3.8 0.3-5 0.3-10.3 0.3-26.3 0.2-40 0.2-41.3 0.1-45.9 0.1-39 0.2-39.5 0.1-19.6 0-8.9 0.1-4.1 0.1 4.1 0.1 8.9 0.1 19.6 0.1 39.5 0.2 39 0.1 45.9 0.2 41.3 0.2 40 0.2 26.3 0.3 10.3 0.4 5 0.5 3.8 0.6 2.6 0.8 1.3 0.7-1.3 0.7-2.6 0.5-3.8 0.3-5.1 0.3-10.4 0.3-26.4 0.2-40.4 0.2-41.6 0.1-46.2 0.1-39.3 0.1-39.8 0.1-19.7 0.1-9 0.1-4.2 0.1 4.2 0.1 9 0.1 19.7 0.1 39.8 0.2 39.3 0.1 46.2 0.2 41.6 0.2 40.4 0.2 26.4 0.3 10.4 0.4 5.1 0.5 3.8 0.6 2.6 0.8 1.3 0.7-1.3 0.6-2.6 0.6-3.8 0.3-5 0.3-10.4 0.3-26.4 0.2-40.2 0.2-41.4 0.1-46 0.1-39.2 0.1-39.7 0.1-19.6 0.1-9 0.1-4.2 0.1 4.2 0.1 9 0.1 19.6 0.1 39.7 0.1 39.2 0.2 46 0.2 41.4 0.2 40.2 0.2 26.4 0.3 10.4 0.4 5 0.5 3.8 0.6 2.6 0.8 1.3 0.7-1.3 0.6-2.6 0.6-3.8 0.3-5 0.3-10.3 0.3-26.4 0.2-40.1 0.2-41.3 0.1-45.9 0.1-39.1 0.1-39.6 0.1-19.6 0.1-9 0.1-4.1 0.1 4.1 0.1 9 0.1 19.6 0.1 39.6 0.1 39.1 0.2 45.9 0.1 41.3 0.3 40.1 0.2 26.4 0.3 10.3 0.4 5 0.5 3.8 0.6 2.6 0.8 1.3 0.7-1.3 0.6-2.6 0.5-3.8 0.4-5 0.3-10.3 0.3-26.3 0.2-40.1 0.2-41.4 0.1-45.9 0.1-39 0.1-39.6 0.1-19.6 0.1-9 0.1-4.1 0.1 4.1 0.1 9 0.1 19.6 0.1 39.6 0.1 39 0.2 45.9 0.1 41.4 0.2 40.1 0.3 26.3 0.3 10.3 0.4 5 0.5 3.8 0.6 2.6 0.8 1.3 0.7-1.3 0.6-2.6 0.5-3.8 0.4-5 0.3-10.3 0.3-26.3 0.2-40.1 0.1-41.3 0.2-45.8 0.1-39.1 0.1-39.5 0.1-19.6 0.1-8.9 0.1-4.2 0.1 4.2 0.1 8.9 0.1 19.6 0.1 39.5 0.1 39.1 0.2 45.8 0.1 41.3 0.2 40.1 0.3 26.3 0.3 10.3 0.4 5 0.5 3.8 0.6 2.6 0.7 1.3 0.8-1.3 0.6-2.6 0.5-3.8 0.4-5 0.3-10.4 0.3-26.4 0.2-40.2 0.1-41.5 0.2-46.1 0.1-39.2 0.1-39.7 0.1-19.6 0.1-9 0.1-4.2 0.1 4.2 0.1 9 0.1 19.6 0.1 39.7 0.1 39.2 0.2 46.1 0.1 41.5 0.2 40.2 0.3 26.4 0.3 10.4 0.4 5 0.5 3.8 0.6 2.6 0.7 1.3 0.8-1.3 0.6-2.6 0.5-3.7 0.4-5 0.3-10.3 0.3-26.1 0.2-39.9 0.1-41.1 0.2-45.6 0.1-38.8 0.1-39.3 0.1-19.5 0.1-8.9 0.1-4.1 0.1 4.1 0.1 8.9 0.1 19.5 0.1 39.3 0.1 38.8 0.2 45.6 0.1 41.1 0.2 39.9 0.3 26.1 0.3 10.3 0.4 5 0.5 3.7 0.6 2.6 0.7 1.3 0.8-1.3 0.6-2.6 0.5-3.7 0.4-5 0.3-10.4 0.3-26.1 0.2-40 0.1-41.2 0.2-45.7 0.1-38.9 0.1-39.5 0.1-19.5 0.1-8.9 0.1-4.1 0.1 4.1 0.1 8.9 0.1 19.5 0.1 39.5 0.1 38.9 0.1 45.7 0.2 41.2 0.2 40 0.3 26.1 0.3 10.4 0.4 5 0.5 3.7 0.6 2.6 0.7 1.3 0.8-1.3 0.6-2.6 0.5-3.8 0.4-5 0.3-10.3 0.2-26.3 0.3-40.1 0.1-41.3 0.2-45.9 0.1-39.1 0.1-39.6 0.1-19.5 0.1-9 0.1-4.1 0.1 4.1 0.1 9 0.1 19.5 0.1 39.6 0.1 39.1 0.1 45.9 0.2 41.3 0.2 40.1 0.3 26.3 0.3 10.3 0.3 5 0.6 3.8 0.6 2.6 0.2 0.5" fill="none" stroke="#ff0000" stroke-width="2.3" stroke-dasharray="10 9"/>
<path d="M157.5 710.7l0.3-26.5 0.2-40.4 0.1-41.7 0.2-46.2 0.1-39.4 0.1-39.8 0.1-19.8 0.1-9 0.1-4.2 0.1 4.2 0.1 9 0.1 19.8 0.1 39.8 0.1 39.4 0.2 46.2 0.1 41.7 0.2 40.4 0.3 26.5 0.3 10.4 0.4 5.1 0.5 3.8 0.6 2.6 0.7 1.3 0.8-1.3 0.6-2.6 0.5-3.8 0.4-5 0.3-10.5 0.3-26.4 0.2-40.3 0.1-41.5 0.2-46.1 0.1-39.3 0.1-39.8 0.1-19.6 0.1-9 0.1-4.2 0.1 4.2 0.1 9 0.1 19.6 0.1 39.8 0.1 39.3 0.1 46.1 0.2 41.5 0.2 40.3 0.3 26.4 0.3 10.5 0.4 5 0.5 3.8 0.6 2.6 0.7 1.3 0.8-1.3 0.6-2.6 0.5-3.8 0.4-5 0.3-10.5 0.2-26.4 0.3-40.3 0.1-41.5 0.2-46.2 0.1-39.2 0.1-39.8 0.1-19.7 0.1-9 0.1-4.1 0.1 4.1 0.1 9 0.1 19.7 0.1 39.8 0.1 39.2 0.1 46.2 0.2 41.5 0.2 40.3 0.3 26.4 0.3 10.5 0.3 5 0.6 3.8 0.6 2.6 0.7 1.3 0.8-1.3 0.6-2.6 0.5-3.8 0.4-5 0.3-10.3 0.2-26.3 0.2-40.1 0.2-41.3 0.2-45.9 0.1-39 0.1-39.6 0.1-19.6 0.1-8.9 0.1-4.1 0.1 4.1 0.1 8.9 0.1 19.6 0.1 39.6 0.1 39 0.1 45.9 0.2 41.3 0.2 40.1 0.3 26.3 0.3 10.3 0.3 5 0.6 3.8 0.6 2.6 0.7 1.3 0.8-1.3 0.6-2.6 0.5-3.8 0.4-5 0.3-10.4 0.2-26.4 0.2-40.2 0.2-41.5 0.1-46.1 0.2-39.2 0.1-39.7 0.1-19.6 0.1-9 0.1-4.2 0.1 4.2 0.1 9 0.1 19.6 0.1 39.7 0.1 39.2 0.1 46.1 0.2 41.5 0.2 40.2 0.3 26.4 0.3 10.4 0.3 5 0.5 3.8 0.7 2.6 0.7 1.3 0.8-1.3 0.6-2.6 0.5-3.8 0.4-5 0.3-10.3 0.2-26.3 0.2-40 0.2-41.3 0.1-45.8 0.2-39 0.1-39.6 0.1-19.5 0.1-8.9 0.1-4.2 0.1 4.2 0 8.9 0.1 19.5 0.2 39.6 0.1 39 0.1 45.8 0.2 41.3 0.2 40 0.3 26.3 0.3 10.3 0.3 5 0.5 3.8 0.7 2.6 0.7 1.3 0.8-1.3 0.6-2.6 0.5-3.8 0.4-5.1 0.3-10.4 0.2-26.5 0.2-40.4 0.2-41.6 0.1-46.2 0.2-39.4 0.1-39.8 0.1-19.7 0.1-9 0.1-4.2 0 4.2 0.1 9 0.1 19.7 0.2 39.8 0.1 39.4 0.1 46.2 0.2 41.6 0.2 40.4 0.2 26.5 0.4 10.4 0.3 5.1 0.5 3.8 0.7 2.6 0.7 1.3 0.7-1.3 0.7-2.6 0.5-3.7 0.3-5 0.4-10.3 0.2-26.2 0.2-39.9 0.2-41.2 0.1-45.7 0.1-38.8 0.2-39.4 0.1-19.5 0.1-8.9 0-4.2 0.1 4.2 0.1 8.9 0.1 19.5 0.2 39.4 0.1 38.8 0.1 45.7 0.2 41.2 0.2 39.9 0.2 26.2 0.3 10.3 0.4 5 0.5 3.7 0.6 2.6 0.8 1.3 0.7-1.3 0.7-2.6 0.5-3.8 0.3-5 0.3-10.4 0.3-26.4 0.2-40.2 0.2-41.5 0.1-46 0.1-39.2 0.2-39.7 0.1-19.7 0-8.9 0.1-4.2 0.1 4.2 0.1 8.9 0.1 19.7 0.1 39.7 0.2 39.2 0.1 46 0.2 41.5 0.2 40.2 0.2 26.4 0.3 10.4 0.4 5 0.5 3.8 0.6 2.6 0.8 1.3 0.7-1.3 0.7-2.6 0.5-3.8 0.3-5 0.3-10.4 0.3-26.3 0.2-40.2 0.2-41.4 0.1-46 0.1-39.2 0.1-39.6 0.1-19.6 0.1-9 0.1-4.1 0.1 4.1 0.1 9 0.1 19.6 0.1 39.6 0.2 39.2 0.1 46 0.2 41.4 0.2 40.2 0.2 26.3 0.3 10.4 0.4 5 0.5 3.8 0.6 2.6 0.8 1.3 0.7-1.3 0.6-2.6 0.6-3.8 0.3-5 0.3-10.4 0.3-26.4 0.2-40.2 0.2-41.5 0.1-46 0.1-39.2 0.1-39.7 0.1-19.7 0.1-8.9 0.1-4.2 0.1 4.2 0.1 8.9 0.1 19.7 0.1 39.7 0.1 39.2 0.2 46 0.2 41.5 0.2 40.2 0.2 26.4 0.3 10.4 0.4 5 0.5 3.8 0.6 2.6 0.8 1.3 0.7-1.3 0.6-2.6 0.6-3.8 0.3-5 0.3-10.4 0.3-26.4 0.2-40.3 0.2-41.5 0.1-46.1 0.1-39.3 0.1-39.7 0.1-19.7 0.1-9 0.1-4.1 0.1 4.1 0.1 9 0.1 19.7 0.1 39.7 0.1 39.3 0.2 46.1 0.1 41.5 0.3 40.3 0.2 26.4 0.3 10.4 0.4 5 0.5 3.8 0.6 2.6 0.8 1.3 0.7-1.3 0.6-2.6 0.5-3.8 0.4-5.1 0.3-10.4 0.3-26.5 0.2-40.3 0.2-41.6 0.1-46.2 0.1-39.4 0.1-39.8 0.1-19.7 0.1-9 0.1-4.2 0.1 4.2 0.1 9 0.1 19.7 0.1 39.8 0.1 39.4 0.2 46.2 0.1 41.6 0.2 40.3 0.3 26.5 0.3 10.4 0.4 5.1 0.5 3.8 0.6 2.6 0.8 1.3 0.7-1.3 0.6-2.6 0.5-3.8 0.4-5 0.3-10.3 0.3-26.3 0.2-40.1 0.1-41.3 0.2-45.8 0.1-39 0.1-39.6 0.1-19.6 0.1-8.9 0.1-4.1 0.1 4.1 0.1 8.9 0.1 19.6 0.1 39.6 0.1 39 0.2 45.8 0.1 41.3 0.2 40.1 0.3 26.3 0.3 10.3 0.4 5 0.5 3.8 0.6 2.6 0.7 1.3 0.8-1.3 0.6-2.6 0.5-3.8 0.4-5.1 0.3-10.4 0.3-26.5 0.2-40.4 0.1-41.6 0.2-46.3 0.1-39.3 0.1-39.9 0.1-19.7 0.1-9 0.1-4.2 0.1 4.2 0.1 9 0.1 19.7 0.1 39.9 0.1 39.3 0.2 46.3 0.1 41.6 0.2 40.4 0.3 26.5 0.3 10.4 0.4 5.1 0.5 3.8 0.6 2.6 0.7 1.3 0.8-1.3 0.6-2.6 0.5-3.8 0.4-5 0.3-10.4 0.3-26.3 0.2-40.2 0.1-41.3 0.2-46 0.1-39.1 0.1-39.6 0.1-19.6 0.1-9 0.1-4.1 0.1 4.1 0.1 9 0.1 19.6 0.1 39.6 0.1 39.1 0.2 46 0.1 41.3 0.2 40.2 0.3 26.3 0.3 10.4 0.4 5 0.5 3.8 0.6 2.6 0.7 1.3 0.8-1.3 0.6-2.6 0.5-3.7 0.4-5 0.3-10.3 0.3-26.2 0.2-39.9 0.1-41.2 0.2-45.6 0.1-38.9 0.1-39.4 0.1-19.5 0.1-8.9 0.1-4.2 0.1 4.2 0.1 8.9 0.1 19.5 0.1 39.4 0.1 38.9 0.1 45.6 0.2 41.2 0.2 39.9 0.3 26.2 0.3 10.3 0.4 5 0.5 3.7 0.6 2.6 0.7 1.3 0.8-1.3 0.6-2.6 0.5-3.8 0.4-5 0.3-10.4 0.2-26.4 0.3-40.2 0.1-41.5 0.2-46.1 0.1-39.2 0.1-39.7 0.1-19.6 0.1-9 0.1-4.2 0.1 4.2 0.1 9 0.1 19.6 0.1 39.7 0.1 39.2 0.1 46.1 0.2 41.5 0.2 40.2 0.3 26.4 0.3 10.4 0.3 5 0.6 3.8 0.6 2.6 0.7 1.3 0.8-1.3 0.6-2.6 0.5-3.7 0.4-5 0.3-10.2 0.2-26.1 0.2-39.7 0.2-40.9 0.2-45.5 0.1-38.7 0.1-39.2 0.1-19.3 0.1-8.9 0.1-4.1 0.1 4.1 0.1 8.9 0.1 19.3 0.1 39.2 0.1 38.7 0.1 45.5 0.2 40.9 0.2 39.7 0.3 26.1 0.3 10.2 0.3 5 0.6 3.7 0.6 2.6 0.7 1.3 0.8-1.3 0.6-2.6 0.5-3.7 0.4-5 0.3-10.3 0.2-26.2 0.2-40 0.2-41.1 0.2-45.7 0.1-38.9 0.1-39.5 0.1-19.5 0.1-8.9 0.1-4.1 0.1 4.1 0.1 8.9 0.1 19.5 0.1 39.5 0.1 38.9 0.1 45.7 0.2 41.1 0.2 40 0.3 26.2 0.3 10.3 0.3 5 0.6 3.7 0.6 2.6 0.7 1.3 0.8-1.3 0.6-2.6 0.5-3.7 0.4-5 0.3-10.2 0.2-26.1 0.2-39.7 0.2-41 0.1-45.5 0.2-38.7 0.1-39.2 0.1-19.4 0.1-8.9 0.1-4.1 0.1 4.1 0 8.9 0.2 19.4 0.1 39.2 0.1 38.7 0.1 45.5 0.2 41 0.2 39.7 0.3 26.1 0.3 10.2 0.3 5 0.5 3.7 0.7 2.6 0.7 1.3 0.8-1.3 0.6-2.6 0.5-3.8 0.4-5 0.3-10.5 0.2-26.4 0.2-40.3 0.2-41.6 0.1-46.1 0.2-39.3 0.1-39.8 0.1-19.7 0.1-9 0.1-4.2 0 4.2 0.1 9 0.1 19.7 0.2 39.8 0.1 39.3 0.1 46.1 0.2 41.6 0.2 40.3 0.2 26.4 0.4 10.5 0.3 5 0.5 3.8 0.7 2.6 0.7 1.3 0.7-1.3 0.7-2.6 0.5-3.7 0.3-5 0.4-10.3 0.2-26.2 0.2-40 0.2-41.2 0.1-45.7 0.1-38.9 0.2-39.4 0.1-19.5 0.1-8.9 0-4.2 0.1 4.2 0.1 8.9 0.1 19.5 0.2 39.4 0.1 38.9 0.1 45.7 0.2 41.2 0.2 40 0.2 26.2 0.4 10.3 0.3 5 0.5 3.7 0.7 2.6 0.7 1.3 0.7-1.3 0.7-2.6 0.5-3.8 0.3-5 0.3-10.5 0.3-26.4 0.2-40.3 0.2-41.5 0.1-46.2 0.1-39.2 0.2-39.8 0.1-19.7 0-9 0.1-4.2 0.1 4.2 0.1 9 0.1 19.7 0.1 39.8 0.2 39.2 0.1 46.2 0.2 41.5 0.2 40.3 0.2 26.4 0.3 10.5 0.4 5 0.5 3.8 0.6 2.6 0.8 1.3 0.7-1.3 0.7-2.6 0.5-3.8 0.3-5.1 0.3-10.4 0.3-26.4 0.2-40.4 0.2-41.6 0.1-46.1 0.1-39.4 0.1-39.8 0.1-19.7 0.1-9 0.1-4.2 0.1 4.2 0.1 9 0.1 19.7 0.1 39.8 0.2 39.4 0.1 46.1 0.2 41.6 0.2 40.4 0.2 26.4 0.3 10.4 0.4 5.1 0.5 3.8 0.6 2.6 0.8 1.3 0.7-1.3 0.6-2.6 0.6-3.8 0.3-5 0.3-10.5 0.3-26.4 0.2-40.4 0.2-41.5 0.1-46.2 0.1-39.3 0.1-39.8 0.1-19.7 0.1-9 0.1-4.2 0.1 4.2 0.1 9 0.1 19.7 0.1 39.8 0.1 39.3 0.2 46.2 0.2 41.5 0.2 40.4 0.2 26.4 0.3 10.5 0.4 5 0.5 3.8 0.6 2.6 0.8 1.3 0.7-1.3 0.6-2.5 0.6-3.7 0.3-5 0.3-10.2 0.3-25.9 0.2-39.5 0.2-40.7 0.1-45.2 0.1-38.4 0.1-39 0.1-19.3 0.1-8.8 0.1-4.1 0.1 4.1 0.1 8.8 0.1 19.3 0.1 39 0.1 38.4 0.2 45.2 0.2 40.7 0.2 39.5 0.2 25.9 0.3 10.2 0.4 5 0.5 3.7 0.6 2.5 0.8 1.3 0.7-1.3 0.6-2.6 0.6-3.8 0.3-5 0.3-10.4 0.3-26.4 0.2-40.2 0.2-41.4 0.1-46 0.1-39.2 0.1-39.7 0.1-19.6 0.1-9 0.1-4.2 0.1 4.2 0.1 9 0.1 19.6 0.1 39.7 0.1 39.2 0.2 46 0.1 41.4 0.3 40.2 0.2 26.4 0.3 10.4 0.4 5 0.5 3.8 0.6 2.6 0.8 1.3 0.7-1.3 0.6-2.6 0.5-3.8 0.4-5.1 0.3-10.4 0.3-26.5 0.2-40.4 0.1-41.6 0.2-46.2 0.1-39.4 0.1-39.8 0.1-19.8 0.1-9 0.1-4.1 0.1 4.1 0.1 9 0.1 19.8 0.1 39.8 0.1 39.4 0.2 46.2 0.1 41.6 0.2 40.4 0.3 26.5 0.3 10.4 0.4 5.1 0.5 3.8 0.6 2.6 0.7 1.3 0.8-1.3 0.6-2.6 0.5-3.8 0.4-5.1 0.3-10.4 0.3-26.4 0.2-40.4 0.1-41.6 0.2-46.2 0.1-39.3 0.1-39.9 0.1-19.7 0.1-9 0.1-4.2 0.1 4.2 0.1 9 0.1 19.7 0.1 39.9 0.1 39.3 0.2 46.2 0.1 41.6 0.2 40.4 0.3 26.4 0.3 10.4 0.4 5.1 0.5 3.8 0.6 2.6 0.7 1.3 0.8-1.3 0.6-2.6 0.5-3.7 0.4-5 0.3-10.3 0.3-26.1 0.2-39.9 0.1-41.1 0.2-45.5 0.1-38.9 0.1-39.3 0.1-19.5 0.1-8.9 0.1-4.1 0.1 4.1 0.1 8.9 0.1 19.5 0.1 39.3 0.1 38.9 0.2 45.5 0.1 41.1 0.2 39.9 0.3 26.1 0.3 10.3 0.4 5 0.5 3.7 0.6 2.6 0.7 1.3 0.8-1.3 0.6-2.6 0.5-3.8 0.4-5 0.3-10.4 0.3-26.4 0.2-40.2 0.1-41.5 0.2-46 0.1-39.2 0.1-39.7 0.1-19.7 0.1-9 0.1-4.1 0.1 4.1 0.1 9 0.1 19.7 0.1 39.7 0.1 39.2 0.2 46 0.1 41.5 0.2 40.2 0.3 26.4 0.3 10.4 0.4 5 0.5 3.8 0.6 2.6 0.7 1.3 0.8-1.3 0.6-2.6 0.5-3.8 0.4-5 0.3-10.3 0.2-26.3 0.3-40 0.1-41.3 0.2-45.8 0.1-39.1 0.1-39.5 0.1-19.5 0.1-9 0.1-4.1 0.1 4.1 0.1 9 0.1 19.5 0.1 39.5 0.1 39.1 0.1 45.8 0.2 41.3 0.2 40 0.3 26.3 0.3 10.3 0.3 5 0.6 3.8 0.6 2.6 0.7 1.3 0.8-1.3 0.6-2.6 0.5-3.8 0.4-5 0.3-10.3 0.2-26.3 0.3-40.2 0.1-41.3 0.2-45.9 0.1-39.1 0.1-39.6 0.1-19.6 0.1-8.9 0.1-4.2 0.1 4.2 0.1 8.9 0.1 19.6 0.1 39.6 0.1 39.1 0.1 45.9 0.2 41.3 0.2 40.2 0.3 26.3 0.3 10.3 0.3 5 0.6 3.8 0.6 2.6 0.7 1.3 0.8-1.3 0.6-2.6 0.5-3.7 0.4-5 0.3-10.4 0.2-26.2 0.2-40.1 0.2-41.2 0.2-45.8 0.1-39 0.1-39.5 0.1-19.5 0.1-9 0.1-4.1 0.1 4.1 0.1 9 0.1 19.5 0.1 39.5 0.1 39 0.1 45.8 0.2 41.2 0.2 40.1 0.3 26.2 0.3 10.4 0.3 5 0.6 3.7 0.6 2.6 0.7 1.3 0.8-1.3 0.6-2.6 0.5-3.8 0.4-5 0.3-10.3 0.2-26.3 0.2-40.2 0.2-41.3 0.1-45.9 0.2-39.1 0.1-39.6 0.1-19.6 0.1-8.9 0.1-4.2 0.1 4.2 0.1 8.9 0.1 19.6 0.1 39.6 0.1 39.1 0.1 45.9 0.2 41.3 0.2 40.2 0.3 26.3 0.3 10.3 0.3 5 0.5 3.8 0.7 2.6 0.7 1.3 0.8-1.3 0.6-2.6 0.5-3.8 0.4-5.1 0.3-10.4 0.2-26.5 0.2-40.4 0.2-41.6 0.1-46.2 0.2-39.4 0.1-39.9 0.1-19.7 0.1-9 0.1-4.2 0.1 4.2 0 9 0.1 19.7 0.2 39.9 0.1 39.4 0.1 46.2 0.2 41.6 0.2 40.4 0.3 26.5 0.3 10.4 0.3 5.1 0.5 3.8 0.7 2.6 0.7 1.3 0.7-1.3 0.7-2.6 0.5-3.8 0.3-5 0.4-10.3 0.2-26.3 0.2-40.1 0.2-41.3 0.1-45.9 0.1-39 0.2-39.6 0.1-19.6 0.1-8.9 0.1-4.2 0 4.2 0.1 8.9 0.1 19.6 0.2 39.6 0.1 39 0.1 45.9 0.2 41.3 0.2 40.1 0.2 26.3 0.4 10.3 0.3 5 0.5 3.8 0.7 2.6 0.7 1.3 0.7-1.3 0.7-2.6 0.5-3.8 0.3-5 0.4-10.4 0.2-26.3 0.2-40.2 0.2-41.5 0.1-46 0.1-39.1 0.2-39.7 0.1-19.6 0.1-9 0-4.1 0.1 4.1 0.1 9 0.1 19.6 0.1 39.7 0.2 39.1 0.1 46 0.2 41.5 0.2 40.2 0.2 26.3 0.3 10.4 0.4 5 0.5 3.8 0.6 2.6 0.8 1.3 0.7-1.3 0.7-2.6 0.5-3.8 0.3-5.1 0.3-10.4 0.3-26.5 0.2-40.3 0.2-41.6 0.1-46.2 0.1-39.4 0.1-39.8 0.2-19.7 0-9 0.1-4.2 0.1 4.2 0.1 9 0.1 19.7 0.1 39.8 0.2 39.4 0.1 46.2 0.2 41.6 0.2 40.3 0.2 26.5 0.3 10.4 0.4 5.1 0.5 3.8 0.6 2.6 0.8 1.3 0.7-1.3 0.6-2.6 0.6-3.8 0.3-5.1 0.3-10.4 0.3-26.5 0.2-40.3 0.2-41.6 0.1-46.2 0.1-39.4 0.1-39.8 0.1-19.7 0.1-9 0.1-4.2 0.1 4.2 0.1 9 0.1 19.7 0.1 39.8 0.1 39.4 0.2 46.2 0.2 41.6 0.2 40.3 0.2 26.5 0.3 10.4 0.4 5.1 0.5 3.8 0.6 2.6 0.8 1.3 0.7-1.3 0.6-2.6 0.6-3.8 0.3-5.1 0.3-10.4 0.3-26.5 0.2-40.4 0.2-41.6 0.1-46.2 0.1-39.3 0.1-39.9 0.1-19.7 0.1-9 0.1-4.2 0.1 4.2 0.1 9 0.1 19.7 0.1 39.9 0.1 39.3 0.2 46.2 0.2 41.6 0.2 40.4 0.2 26.5 0.3 10.4 0.4 5.1 0.5 3.8 0.6 2.6 0.8 1.3 0.7-1.3 0.6-2.6 0.6-3.7 0.3-5 0.3-10.4 0.3-26.2 0.2-39.9 0.2-41.2 0.1-45.7 0.1-39 0.1-39.4 0.1-19.5 0.1-8.9 0.1-4.2 0.1 4.2 0.1 8.9 0.1 19.5 0.1 39.4 0.1 39 0.2 45.7 0.1 41.2 0.3 39.9 0.2 26.2 0.3 10.4 0.4 5 0.5 3.7 0.6 2.6 0.8 1.3 0.7-1.3 0.6-2.6 0.5-3.8 0.4-5.1 0.3-10.4 0.3-26.5 0.2-40.4 0.2-41.6 0.1-46.2 0.1-39.3 0.1-39.9 0.1-19.7 0.1-9 0.1-4.2 0.1 4.2 0.1 9 0.1 19.7 0.1 39.9 0.1 39.3 0.2 46.2 0.1 41.6 0.2 40.4 0.3 26.5 0.3 10.4 0.4 5.1 0.5 3.8 0.6 2.6 0.7 1.3 0.8-1.3 0.6-2.6 0.5-3.7 0.4-5 0.3-10.3 0.3-26.2 0.2-39.9 0.1-41.2 0.2-45.6 0.1-38.9 0.1-39.4 0.1-19.5 0.1-8.9 0.1-4.1 0.1 4.1 0.1 8.9 0.1 19.5 0.1 39.4 0.1 38.9 0.2 45.6 0.1 41.2 0.2 39.9 0.3 26.2 0.3 10.3 0.4 5 0.5 3.7 0.6 2.6 0.7 1.3 0.8-1.3 0.6-2.6 0.5-3.7 0.4-5 0.3-10.3 0.3-26.1 0.2-39.9 0.1-41 0.2-45.6 0.1-38.8 0.1-39.4 0.1-19.4 0.1-8.9 0.1-4.1 0.1 4.1 0.1 8.9 0.1 19.4 0.1 39.4 0.1 38.8 0.2 45.6 0.1 41 0.2 39.9 0.3 26.1 0.3 10.3 0.4 5 0.5 3.7 0.6 2.6 0.7 1.3 0.8-1.3 0.6-2.6 0.5-3.8 0.4-5 0.3-10.3 0.3-26.3 0.2-40.1 0.1-41.4 0.2-45.8 0.1-39.1 0.1-39.6 0.1-19.5 0.1-9 0.1-4.1 0.1 4.1 0.1 9 0.1 19.5 0.1 39.6 0.1 39.1 0.2 45.8 0.1 41.4 0.2 40.1 0.3 26.3 0.3 10.3 0.4 5 0.5 3.8 0.6 2.6 0.7 1.3 0.8-1.3 0.6-2.6 0.5-3.8 0.4-5.1 0.3-10.4 0.3-26.4 0.2-40.4 0.1-41.6 0.2-46.2 0.1-39.3 0.1-39.9 0.1-19.7 0.1-9 0.1-4.2 0.1 4.2 0.1 9 0.1 19.7 0.1 39.9 0.1 39.3 0.1 46.2 0.2 41.6 0.2 40.4 0.3 26.4 0.3 10.4 0.4 5.1 0.5 3.8 0.6 2.6 0.7 1.3 0.8-1.3 0.6-2.6 0.5-3.8 0.4-5 0.3-10.4 0.2-26.3 0.3-40.2 0.1-41.4 0.2-46 0.1-39.1 0.1-39.7 0.1-19.6 0.1-8.9 0.1-4.2 0.1 4.2 0.1 8.9 0.1 19.6 0.1 39.7 0.1 39.1 0.1 46 0.2 41.4 0.2 40.2 0.3 26.3 0.3 10.4 0.3 5 0.6 3.8 0.6 2.6 0.7 1.3 0.8-1.3 0.6-2.6 0.5-3.7 0.4-4.9 0.3-10.3 0.2-26 0.2-39.7 0.2-40.9 0.2-45.4 0.1-38.7 0.1-39.1 0.1-19.4 0.1-8.8 0.1-4.1 0.1 4.1 0.1 8.8 0.1 19.4 0.1 39.1 0.1 38.7 0.1 45.4 0.2 40.9 0.2 39.7 0.3 26 0.3 10.3 0.3 4.9 0.6 3.7 0.6 2.6 0.7 1.3 0.8-1.3 0.6-2.6 0.5-3.8 0.4-5 0.3-10.4 0.2-26.3 0.2-40.1 0.2-41.4 0.1-45.9 0.2-39.1 0.1-39.6 0.1-19.6 0.1-8.9 0.1-4.2 0.1 4.2 0.1 8.9 0.1 19.6 0.1 39.6 0.1 39.1 0.1 45.9 0.2 41.4 0.2 40.1 0.3 26.3 0.3 10.4 0.3 5 0.5 3.8 0.7 2.6 0.7 1.3 0.8-1.3 0.6-2.6 0.5-3.7 0.4-5 0.3-10.4 0.2-26.2 0.2-39.9 0.2-41.2 0.1-45.8 0.2-38.9 0.1-39.5 0.1-19.5 0.1-8.9 0.1-4.1 0.1 4.1 0 8.9 0.1 19.5 0.2 39.5 0.1 38.9 0.1 45.8 0.2 41.2 0.2 39.9 0.3 26.2 0.3 10.4 0.3 5 0.5 3.7 0.7 2.6 0.7 1.3 0.8-1.3 0.6-2.6 0.5-3.8 0.4-5.1 0.3-10.4 0.2-26.5 0.2-40.4 0.2-41.6 0.1-46.2 0.2-39.3 0.1-39.9 0.1-19.7 0.1-9 0.1-4.2 0 4.2 0.1 9 0.1 19.7 0.2 39.9 0.1 39.3 0.1 46.2 0.2 41.6 0.2 40.4 0.2 26.5 0.4 10.4 0.3 5.1 0.5 3.8 0.7 2.6 0.7 1.3 0.7-1.3 0.7-2.6 0.5-3.8 0.3-5 0.4-10.4 0.2-26.3 0.2-40.3 0.2-41.4 0.1-46 0.1-39.1 0.2-39.7 0.1-19.6 0.1-9 0-4.2 0.1 4.2 0.1 9 0.1 19.6 0.2 39.7 0.1 39.1 0.1 46 0.2 41.4 0.2 40.3 0.2 26.3 0.3 10.4 0.4 5 0.5 3.8 0.6 2.6 0.8 1.3 0.7-1.3 0.7-2.6 0.5-3.8 0.3-5 0.3-10.5 0.3-26.4 0.2-40.4 0.2-41.5 0.1-46.2 0.1-39.3 0.2-39.8 0.1-19.7 0-9 0.1-4.2 0.1 4.2 0.1 9 0.1 19.7 0.1 39.8 0.2 39.3 0.1 46.2 0.2 41.5 0.2 40.4 0.2 26.4 0.3 10.5 0.4 5 0.5 3.8 0.6 2.6 0.8 1.3 0.7-1.3 0.7-2.6 0.5-3.8 0.3-5 0.3-10.4 0.3-26.3 0.2-40.2 0.2-41.4 0.1-45.9 0.1-39.1 0.1-39.7 0.1-19.6 0.1-8.9 0.1-4.2 0.1 4.2 0.1 8.9 0.1 19.6 0.1 39.7 0.2 39.1 0.1 45.9 0.2 41.4 0.2 40.2 0.2 26.3 0.3 10.4 0.4 5 0.5 3.8 0.6 2.6 0.8 1.3 0.7-1.3 0.6-2.6 0.6-3.8 0.3-5.1 0.3-10.4 0.3-26.5 0.2-40.4 0.2-41.6 0.1-46.2 0.1-39.3 0.1-39.9 0.1-19.7 0.1-9 0.1-4.2 0.1 4.2 0.1 9 0.1 19.7 0.1 39.9 0.1 39.3 0.2 46.2 0.2 41.6 0.2 40.4 0.2 26.5 0.3 10.4 0.4 5.1 0.5 3.8 0.6 2.6 0.8 1.3 0.7-1.3 0.6-2.6 0.6-3.8 0.3-5 0.3-10.4 0.3-26.3 0.2-40.2 0.2-41.4 0.1-45.9 0.1-39.2 0.1-39.6 0.1-19.6 0.1-9 0.1-4.1 0.1 4.1 0.1 9 0.1 19.6 0.1 39.6 0.1 39.2 0.2 45.9 0.1 41.4 0.3 40.2 0.2 26.3 0.3 10.4 0.4 5 0.5 3.8 0.6 2.6 0.8 1.3 0.7-1.3 0.6-2.6 0.5-3.7 0.4-5 0.3-10.3 0.3-26.2 0.2-39.9 0.2-41.1 0.1-45.6 0.1-38.9 0.1-39.3 0.1-19.5 0.1-8.9 0.1-4.1 0.1 4.1 0.1 8.9 0.1 19.5 0.1 39.3 0.1 38.9 0.2 45.6 0.1 41.1 0.2 39.9 0.3 26.2 0.3 10.3 0.4 5 0.5 3.7 0.6 2.6 0.8 1.3 0.7-1.3 0.6-2.6 0.5-3.8 0.4-5 0.3-10.4 0.3-26.3 0.2-40.2 0.1-41.4 0.2-45.9 0.1-39.1 0.1-39.7 0.1-19.6 0.1-9 0.1-4.1 0.1 4.1 0.1 9 0.1 19.6 0.1 39.7 0.1 39.1 0.2 45.9 0.1 41.4 0.2 40.2 0.3 26.3 0.3 10.4 0.4 5 0.5 3.8 0.6 2.6 0.7 1.3 0.8-1.3 0.6-2.6 0.5-3.8 0.4-5 0.3-10.5 0.3-26.4 0.2-40.4 0.1-41.5 0.2-46.2 0.1-39.3 0.1-39.8 0.1-19.7 0.1-9 0.1-4.1 0.1 4.1 0.1 9 0.1 19.7 0.1 39.8 0.1 39.3 0.2 46.2 0.1 41.5 0.2 40.4 0.3 26.4 0.3 10.5 0.4 5 0.5 3.8 0.6 2.6 0.7 1.3 0.8-1.3 0.6-2.6 0.5-3.8 0.4-5 0.3-10.4 0.3-26.4 0.2-40.2 0.1-41.5 0.2-46.1 0.1-39.2 0.1-39.7 0.1-19.6 0.1-9 0.1-4.2 0.1 4.2 0.1 9 0.1 19.6 0.1 39.7 0.1 39.2 0.2 46.1 0.1 41.5 0.2 40.2 0.3 26.4 0.3 10.4 0.4 5 0.5 3.8 0.6 2.6 0.7 1.3 0.8-1.3 0.6-2.6 0.5-3.8 0.4-5.1 0.3-10.4 0.3-26.4 0.2-40.4 0.1-41.6 0.2-46.2 0.1-39.3 0.1-39.9 0.1-19.7 0.1-9 0.1-4.1 0.1 4.1 0.1 9 0.1 19.7 0.1 39.9 0.1 39.3 0.1 46.2 0.2 41.6 0.2 40.4 0.3 26.4 0.3 10.4 0.4 5.1 0.5 3.8 0.6 2.6 0.7 1.3 0.8-1.3 0.6-2.6 0.5-3.7 0.4-5 0.3-10.4 0.2-26.2 0.3-40 0.1-41.2 0.2-45.7 0.1-38.9 0.1-39.5 0.1-19.5 0.1-8.9 0.1-4.2 0.1 4.2 0.1 8.9 0.1 19.5 0.1 39.5 0.1 38.9 0.1 45.7 0.2 41.2 0.2 40 0.3 26.2 0.3 10.4 0.3 5 0.6 3.7 0.6 2.6 0.7 1.3 0.8-1.3 0.6-2.6 0.5-3.8 0.4-5 0.3-10.4 0.2-26.3 0.2-40.2 0.2-41.5 0.2-46 0.1-39.1 0.1-39.7 0.1-19.6 0.1-9 0.1-4.2 0.1 4.2 0.1 9 0.1 19.6 0.1 39.7 0.1 39.1 0.1 46 0.2 41.5 0.2 40.2 0.3 26.3 0.3 10.4 0.3 5 0.6 3.8 0.6 2.6 0.7 1.3 0.8-1.3 0.6-2.6 0.5-3.8 0.4-5 0.3-10.5 0.2-26.4 0.2-40.4 0.2-41.5 0.2-46.2 0.1-39.3 0.1-39.8 0.1-19.7 0.1-9 0.1-4.2 0.1 4.2 0.1 9 0.1 19.7 0.1 39.8 0.1 39.3 0.1 46.2 0.2 41.5 0.2 40.4 0.3 26.4 0.3 10.5 0.3 5 0.6 3.8 0.6 2.6 0.7 1.3 0.8-1.3 0.6-2.6 0.5-3.8 0.4-5 0.3-10.3 0.2-26.3 0.2-40.1 0.2-41.3 0.1-45.9 0.2-39 0.1-39.6 0.1-19.5 0.1-9 0.1-4.1 0.1 4.1 0 9 0.2 19.5 0.1 39.6 0.1 39 0.1 45.9 0.2 41.3 0.2 40.1 0.3 26.3 0.3 10.3 0.3 5 0.5 3.8 0.7 2.6 0.7 1.3 0.8-1.3 0.6-2.6 0.5-3.7 0.4-5 0.3-10.4 0.2-26.2 0.2-40 0.2-41.2 0.1-45.8 0.2-38.9 0.1-39.5 0.1-19.5 0.1-8.9 0.1-4.2 0 4.2 0.1 8.9 0.1 19.5 0.2 39.5 0.1 38.9 0.1 45.8 0.2 41.2 0.2 40 0.2 26.2 0.4 10.4 0.3 5 0.5 3.7 0.7 2.6 0.7 1.3 0.7-1.3 0.7-2.6 0.5-3.8 0.3-5.1 0.4-10.4 0.2-26.5 0.2-40.4 0.2-41.7 0.1-46.2 0.1-39.4 0.2-39.9 0.1-19.7 0.1-9 0-4.2 0.1 4.2 0.1 9 0.1 19.7 0.2 39.9 0.1 39.4 0.1 46.2 0.2 41.7 0.2 40.4 0.2 26.5 0.4 10.4 0.3 5.1 0.5 3.8 0.7 2.6 0.7 1.3 0.7-1.3 0.7-2.6 0.5-3.8 0.3-5.1 0.3-10.4 0.3-26.5 0.2-40.4 0.2-41.7 0.1-46.2 0.1-39.4 0.2-39.9 0.1-19.7 0-9 0.1-4.2 0.1 4.2 0.1 9 0.1 19.7 0.1 39.9 0.2 39.4 0.1 46.2 0.2 41.7 0.2 40.4 0.2 26.5 0.3 10.4 0.4 5.1 0.5 3.8 0.6 2.6 0.8 1.3 0.7-1.3 0.7-2.6 0.5-3.7 0.3-5 0.3-10.2 0.3-26.1 0.2-39.7 0.2-40.9 0.1-45.5 0.1-38.7 0.1-39.2 0.1-19.4 0.1-8.8 0.1-4.1 0.1 4.1 0.1 8.8 0.1 19.4 0.1 39.2 0.2 38.7 0.1 45.5 0.2 40.9 0.2 39.7 0.2 26.1 0.3 10.2 0.4 5 0.5 3.7 0.6 2.6 0.8 1.3 0.7-1.3 0.6-2.6 0.6-3.8 0.3-5 0.3-10.3 0.3-26.3 0.2-40.1 0.2-41.3 0.1-45.9 0.1-39 0.1-39.6 0.1-19.6 0.1-8.9 0.1-4.1 0.1 4.1 0.1 8.9 0.1 19.6 0.1 39.6 0.1 39 0.2 45.9 0.2 41.3 0.2 40.1 0.2 26.3 0.3 10.3 0.4 5 0.5 3.8 0.6 2.6 0.8 1.3 0.7-1.3 0.6-2.6 0.6-3.8 0.3-5.1 0.3-10.4 0.3-26.5 0.2-40.4 0.2-41.7 0.1-46.2 0.1-39.4 0.1-39.9 0.1-19.7 0.1-9 0.1-4.2 0.1 4.2 0.1 9 0.1 19.7 0.1 39.9 0.1 39.4 0.2 46.2 0.2 41.7 0.2 40.4 0.2 26.5 0.3 10.4 0.4 5.1 0.5 3.8 0.6 2.6 0.8 1.3 0.7-1.3 0.6-2.6 0.6-3.8 0.3-5.1 0.3-10.4 0.3-26.5 0.2-40.4 0.2-41.7 0.1-46.2 0.1-39.4 0.1-39.9 0.1-19.7 0.1-9 0.1-4.2 0.1 4.2 0.1 9 0.1 19.7 0.1 39.9 0.1 39.4 0.2 46.2 0.1 41.7 0.3 40.4 0.2 26.5 0.3 10.4 0.4 5.1 0.5 3.8 0.6 2.6 0.8 1.3 0.7-1.3 0.6-2.6 0.5-3.7 0.4-5 0.3-10.4 0.3-26.1 0.2-40 0.1-41.2 0.2-45.7 0.1-38.9 0.1-39.4 0.1-19.5 0.1-9 0.1-4.1 0.1 4.1 0.1 9 0.1 19.5 0.1 39.4 0.1 38.9 0.2 45.7 0.1 41.2 0.2 40 0.3 26.1 0.3 10.4 0.4 5 0.5 3.7 0.6 2.6 0.7 1.3 0.8-1.3 0.6-2.6 0.5-3.8 0.4-5 0.3-10.4 0.3-26.3 0.2-40.2 0.1-41.4 0.2-45.9 0.1-39.1 0.1-39.7 0.1-19.6 0.1-8.9 0.1-4.2 0.1 4.2 0.1 8.9 0.1 19.6 0.1 39.7 0.1 39.1 0.2 45.9 0.1 41.4 0.2 40.2 0.3 26.3 0.3 10.4 0.4 5 0.5 3.8 0.6 2.6 0.7 1.3 0.8-1.3 0.6-2.6 0.5-3.8 0.4-5 0.3-10.4 0.3-26.5 0.2-40.3 0.1-41.5 0.2-46.1 0.1-39.2 0.1-39.8 0.1-19.7 0.1-9 0.1-4.1 0.1 4.1 0.1 9 0.1 19.7 0.1 39.8 0.1 39.2 0.2 46.1 0.1 41.5 0.2 40.3 0.3 26.5 0.3 10.4 0.4 5 0.5 3.8 0.6 2.6 0.7 1.3 0.8-1.3 0.6-2.6 0.5-3.8 0.4-5 0.3-10.4 0.3-26.4 0.2-40.3 0.1-41.5 0.2-46.1 0.1-39.2 0.1-39.8 0.1-19.7 0.1-8.9 0.1-4.2 0.1 4.2 0.1 8.9 0.1 19.7 0.1 39.8 0.1 39.2 0.2 46.1 0.1 41.5 0.2 40.3 0.3 26.4 0.3 10.4 0.4 5 0.5 3.8 0.6 2.6 0.7 1.3 0.8-1.3 0.6-2.6 0.5-3.8 0.4-5 0.3-10.5 0.2-26.4 0.3-40.3 0.1-41.6 0.2-46.1 0.1-39.3 0.1-39.8 0.1-19.7 0.1-9 0.1-4.1 0.1 4.1 0.1 9 0.1 19.7 0.1 39.8 0.1 39.3 0.1 46.1 0.2 41.6 0.2 40.3 0.3 26.4 0.3 10.5 0.3 5 0.6 3.8 0.6 2.6 0.7 1.3 0.8-1.3 0.6-2.6 0.5-3.7 0.4-5 0.3-10.3 0.2-26.1 0.2-39.9 0.2-41.1 0.2-45.6 0.1-38.8 0.1-39.3 0.1-19.5 0.1-8.9 0.1-4.1 0.1 4.1 0.1 8.9 0.1 19.5 0.1 39.3 0.1 38.8 0.1 45.6 0.2 41.1 0.2 39.9 0.3 26.1 0.3 10.3 0.3 5 0.6 3.7 0.6 2.6 0.7 1.3 0.8-1.3 0.6-2.6 0.5-3.8 0.4-5 0.3-10.4 0.2-26.4 0.2-40.3 0.2-41.5 0.2-46 0.1-39.2 0.1-39.8 0.1-19.6 0.1-9 0.1-4.1 0.1 4.1 0.1 9 0.1 19.6 0.1 39.8 0.1 39.2 0.1 46 0.2 41.5 0.2 40.3 0.3 26.4 0.3 10.4 0.3 5 0.6 3.8 0.6 2.6 0.7 1.3 0.8-1.3 0.6-2.6 0.5-3.8 0.4-5 0.3-10.4 0.2-26.5 0.2-40.3 0.2-41.5 0.1-46.1 0.2-39.3 0.1-39.7 0.1-19.7 0.1-9 0.1-4.2 0.1 4.2 0.1 9 0.1 19.7 0.1 39.7 0.1 39.3 0.1 46.1 0.2 41.5 0.2 40.3 0.3 26.5 0.3 10.4 0.3 5 0.5 3.8 0.7 2.6 0.7 1.3 0.8-1.3 0.6-2.6 0.5-3.8 0.4-5 0.3-10.4 0.2-26.4 0.2-40.3 0.2-41.6 0.1-46 0.2-39.3 0.1-39.7 0.1-19.7 0.1-9 0.1-4.1 0.1 4.1 0 9 0.1 19.7 0.2 39.7 0.1 39.3 0.1 46 0.2 41.6 0.2 40.3 0.3 26.4 0.3 10.4 0.3 5 0.5 3.8 0.7 2.6 0.7 1.3 0.7-1.3 0.7-2.6 0.5-3.8 0.3-5.1 0.4-10.4 0.2-26.4 0.2-40.4 0.2-41.6 0.1-46.2 0.1-39.3 0.2-39.9 0.1-19.7 0.1-9 0.1-4.1 0 4.1 0.1 9 0.1 19.7 0.2 39.9 0.1 39.3 0.1 46.2 0.2 41.6 0.2 40.4 0.2 26.4 0.4 10.4 0.3 5.1 0.5 3.8 0.7 2.6 0.7 1.3 0.7-1.3 0.7-2.6 0.5-3.8 0.3-5 0.4-10.5 0.2-26.4 0.2-40.4 0.2-41.5 0.1-46.2 0.1-39.3 0.2-39.8 0.1-19.7 0.1-9 0-4.1 0.1 4.1 0.1 9 0.1 19.7 0.1 39.8 0.2 39.3 0.1 46.2 0.2 41.5 0.2 40.4 0.2 26.4 0.3 10.5 0.4 5 0.5 3.8 0.6 2.6 0.8 1.3 0.7-1.3 0.7-2.6 0.5-3.7 0.3-5 0.3-10.4 0.3-26.2 0.2-40 0.2-41.2 0.1-45.8 0.1-39 0.1-39.5 0.2-19.5 0-8.9 0.1-4.2 0.1 4.2 0.1 8.9 0.1 19.5 0.1 39.5 0.2 39 0.1 45.8 0.2 41.2 0.2 40 0.2 26.2 0.3 10.4 0.4 5 0.5 3.7 0.6 2.6 0.8 1.3 0.7-1.3 0.6-2.6 0.6-3.8 0.3-5.1 0.3-10.4 0.3-26.5 0.2-40.4 0.2-41.7 0.1-46.2 0.1-39.3 0.1-39.9 0.1-19.8 0.1-9 0.1-4.1 0.1 4.1 0.1 9 0.1 19.8 0.1 39.9 0.1 39.3 0.2 46.2 0.2 41.7 0.2 40.4 0.2 26.5 0.3 10.4 0.4 5.1 0.5 3.8 0.6 2.6 0.8 1.3 0.7-1.3 0.6-2.6 0.6-3.8 0.3-5 0.3-10.4 0.3-26.4 0.2-40.3 0.2-41.4 0.1-46.1 0.1-39.2 0.1-39.7 0.1-19.7 0.1-9 0.1-4.1 0.1 4.1 0.1 9 0.1 19.7 0.1 39.7 0.1 39.2 0.2 46.1 0.2 41.4 0.2 40.3 0.2 26.4 0.3 10.4 0.4 5 0.5 3.8 0.6 2.6 0.8 1.3 0.7-1.3 0.6-2.6 0.6-3.7 0.3-5 0.3-10.4 0.3-26.2 0.2-40 0.2-41.2 0.1-45.7 0.1-39 0.1-39.5 0.1-19.5 0.1-8.9 0.1-4.1 0.1 4.1 0.1 8.9 0.1 19.5 0.1 39.5 0.1 39 0.2 45.7 0.1 41.2 0.3 40 0.2 26.2 0.3 10.4 0.4 5 0.5 3.7 0.6 2.6 0.8 1.3 0.7-1.3 0.6-2.6 0.5-3.8 0.4-5 0.3-10.4 0.3-26.3 0.2-40.2 0.2-41.4 0.1-46 0.1-39.1 0.1-39.6 0.1-19.7 0.1-8.9 0.1-4.2 0.1 4.2 0.1 8.9 0.1 19.7 0.1 39.6 0.1 39.1 0.2 46 0.1 41.4 0.2 40.2 0.3 26.3 0.3 10.4 0.4 5 0.5 3.8 0.6 2.6 0.7 1.3 0.8-1.3 0.6-2.6 0.5-3.8 0.4-5.1 0.3-10.4 0.3-26.5 0.2-40.4 0.1-41.6 0.2-46.3 0.1-39.3 0.1-39.9 0.1-19.7 0.1-9 0.1-4.2 0.1 4.2 0.1 9 0.1 19.7 0.1 39.9 0.1 39.3 0.2 46.3 0.1 41.6 0.2 40.4 0.3 26.5 0.3 10.4 0.4 5.1 0.5 3.8 0.6 2.6 0.7 1.3 0.8-1.3 0.6-2.6 0.5-3.8 0.4-5 0.3-10.4 0.3-26.3 0.2-40.2 0.1-41.4 0.2-45.9 0.1-39.2 0.1-39.6 0.1-19.6 0.1-9 0.1-4.1 0.1 4.1 0.1 9 0.1 19.6 0.1 39.6 0.1 39.2 0.2 45.9 0.1 41.4 0.2 40.2 0.3 26.3 0.3 10.4 0.4 5 0.5 3.8 0.6 2.6 0.7 1.3 0.8-1.3 0.6-2.6 0.5-3.8 0.4-5 0.3-10.4 0.3-26.4 0.2-40.3 0.1-41.6 0.2-46.1 0.1-39.2 0.1-39.8 0.1-19.6 0.1-9 0.1-4.2 0.1 4.2 0.1 9 0.1 19.6 0.1 39.8 0.1 39.2 0.2 46.1 0.1 41.6 0.2 40.3 0.3 26.4 0.3 10.4 0.4 5 0.5 3.8 0.6 2.6 0.7 1.3 0.8-1.3 0.6-2.6 0.5-3.7 0.4-5 0.3-10.4 0.3-26.2 0.2-40.1 0.1-41.2 0.2-45.8 0.1-39 0.1-39.5 0.1-19.6 0.1-8.9 0.1-4.1 0.1 4.1 0.1 8.9 0.1 19.6 0.1 39.5 0.1 39 0.1 45.8 0.2 41.2 0.2 40.1 0.3 26.2 0.3 10.4 0.4 5 0.5 3.7 0.6 2.6 0.7 1.3 0.8-1.3 0.6-2.6 0.5-3.8 0.4-5.1 0.3-10.4 0.2-26.5 0.3-40.4 0.1-41.7 0.2-46.2 0.1-39.4 0.1-39.8 0.1-19.8 0.1-9 0.1-4.2 0.1 4.2 0.1 9 0.1 19.8 0.1 39.8 0.1 39.4 0.1 46.2 0.2 41.7 0.2 40.4 0.3 26.5 0.3 10.4 0.3 5.1 0.6 3.8 0.6 2.6 0.7 1.3 0.8-1.3 0.6-2.6 0.5-3.8 0.4-5 0.3-10.4 0.2-26.3 0.2-40.2 0.2-41.5 0.2-46 0.1-39.1 0.1-39.7 0.1-19.6 0.1-9 0.1-4.1 0.1 4.1 0.1 9 0.1 19.6 0.1 39.7 0.1 39.1 0.1 46 0.2 41.5 0.2 40.2 0.3 26.3 0.3 10.4 0.3 5 0.6 3.8 0.6 2.6 0.7 1.3 0.8-1.3 0.6-2.6 0.5-3.7 0.4-5 0.3-10.3 0.2-26.2 0.2-40 0.2-41.1 0.1-45.7 0.2-38.9 0.1-39.5 0.1-19.5 0.1-8.9 0.1-4.1 0.1 4.1 0.1 8.9 0.1 19.5 0.1 39.5 0.1 38.9 0.1 45.7 0.2 41.1 0.2 40 0.3 26.2 0.3 10.3 0.3 5 0.5 3.7 0.7 2.6 0.7 1.3 0.8-1.3 0.6-2.6 0.5-3.8 0.4-5 0.3-10.4 0.2-26.4 0.2-40.3 0.2-41.6 0.1-46 0.2-39.3 0.1-39.7 0.1-19.7 0.1-9 0.1-4.2 0.1 4.2 0 9 0.1 19.7 0.2 39.7 0.1 39.3 0.1 46 0.2 41.6 0.2 40.3 0.3 26.4 0.3 10.4 0.3 5 0.5 3.8 0.7 2.6 0.7 1.3 0.8-1.3 0.6-2.6 0.5-3.7 0.4-5 0.3-10.3 0.2-26 0.2-39.8 0.2-41.1 0.1-45.5 0.1-38.8 0.2-39.2 0.1-19.5 0.1-8.8 0.1-4.2 0 4.2 0.1 8.8 0.1 19.5 0.2 39.2 0.1 38.8 0.1 45.5 0.2 41.1 0.2 39.8 0.2 26 0.4 10.3 0.3 5 0.5 3.7 0.7 2.6 0.7 1.3 0.7-1.3 0.7-2.6 0.5-3.7 0.3-4.9 0.4-10.3 0.2-26 0.2-39.7 0.2-40.9 0.1-45.3 0.1-38.7 0.2-39.1 0.1-19.4 0.1-8.9 0-4.1 0.1 4.1 0.1 8.9 0.1 19.4 0.1 39.1 0.2 38.7 0.1 45.3 0.2 40.9 0.2 39.7 0.2 26 0.3 10.3 0.4 4.9 0.5 3.7 0.6 2.6 0.8 1.3 0.7-1.3 0.7-2.6 0.5-3.8 0.3-5 0.3-10.4 0.3-26.5 0.2-40.3 0.2-41.5 0.1-46.1 0.1-39.3 0.2-39.7 0.1-19.7 0-9 0.1-4.2 0.1 4.2 0.1 9 0.1 19.7 0.1 39.7 0.2 39.3 0.1 46.1 0.2 41.5 0.2 40.3 0.2 26.5 0.3 10.4 0.4 5 0.5 3.8 0.6 2.6 0.8 1.3 0.7-1.3 0.7-2.6 0.5-3.8 0.3-5 0.3-10.3 0.3-26.3 0.2-40.1 0.2-41.3 0.1-45.9 0.1-39 0.1-39.6 0.1-19.5 0.1-9 0.1-4.1 0.1 4.1 0.1 9 0.1 19.5 0.1 39.6 0.2 39 0.1 45.9 0.2 41.3 0.2 40.1 0.2 26.3 0.3 10.3 0.4 5 0.5 3.8 0.6 2.6 0.8 1.3 0.7-1.3 0.6-2.6 0.6-3.8 0.3-5 0.3-10.5 0.3-26.4 0.2-40.4 0.2-41.6 0.1-46.1 0.1-39.3 0.1-39.9 0.1-19.7 0.1-9 0.1-4.1 0.1 4.1 0.1 9 0.1 19.7 0.1 39.9 0.1 39.3 0.2 46.1 0.2 41.6 0.2 40.4 0.2 26.4 0.3 10.5 0.4 5 0.5 3.8 0.6 2.6 0.8 1.3 0.7-1.3 0.6-2.5 0.6-3.8 0.3-4.9 0.3-10.2 0.3-26 0.2-39.6 0.2-40.8 0.1-45.3 0.1-38.6 0.1-39.1 0.1-19.3 0.1-8.8 0.1-4.1 0.1 4.1 0.1 8.8 0.1 19.3 0.1 39.1 0.1 38.6 0.2 45.3 0.1 40.8 0.3 39.6 0.2 26 0.3 10.2 0.4 4.9 0.5 3.8 0.6 2.5 0.8 1.3 0.7-1.3 0.6-2.6 0.5-3.8 0.4-5 0.3-10.3 0.3-26.3 0.2-40.1 0.2-41.4 0.1-45.9 0.1-39 0.1-39.6 0.1-19.6 0.1-9 0.1-4.1 0.1 4.1 0.1 9 0.1 19.6 0.1 39.6 0.1 39 0.2 45.9 0.1 41.4 0.2 40.1 0.3 26.3 0.3 10.3 0.4 5 0.5 3.8 0.6 2.6 0.8 1.3 0.7-1.3 0.6-2.6 0.5-3.8 0.4-5 0.3-10.4 0.3-26.3 0.2-40.2 0.1-41.4 0.2-46 0.1-39.1 0.1-39.7 0.1-19.6 0.1-9 0.1-4.1 0.1 4.1 0.1 9 0.1 19.6 0.1 39.7 0.1 39.1 0.2 46 0.1 41.4 0.2 40.2 0.3 26.3 0.3 10.4 0.4 5 0.5 3.8 0.6 2.6 0.7 1.3 0.8-1.3 0.6-2.6 0.5-3.8 0.4-5 0.3-10.5 0.3-26.4 0.2-40.4 0.1-41.5 0.2-46.2 0.1-39.3 0.1-39.8 0.1-19.7 0.1-9 0.1-4.1 0.1 4.1 0.1 9 0.1 19.7 0.1 39.8 0.1 39.3 0.2 46.2 0.1 41.5 0.2 40.4 0.3 26.4 0.3 10.5 0.4 5 0.5 3.8 0.6 2.6 0.7 1.3 0.8-1.3 0.6-2.6 0.5-3.8 0.4-5 0.3-10.4 0.3-26.4 0.2-40.2 0.1-41.5 0.2-46 0.1-39.2 0.1-39.7 0.1-19.7 0.1-8.9 0.1-4.2 0.1 4.2 0.1 8.9 0.1 19.7 0.1 39.7 0.1 39.2 0.2 46 0.1 41.5 0.2 40.2 0.3 26.4 0.3 10.4 0.4 5 0.5 3.8 0.6 2.6 0.7 1.3 0.8-1.3 0.6-2.6 0.5-3.8 0.4-5 0.3-10.5 0.3-26.4 0.2-40.4 0.1-41.6 0.2-46.1 0.1-39.3 0.1-39.8 0.1-19.7 0.1-9 0.1-4.2 0.1 4.2 0.1 9 0.1 19.7 0.1 39.8 0.1 39.3 0.1 46.1 0.2 41.6 0.2 40.4 0.3 26.4 0.3 10.5 0.4 5 0.5 3.8 0.6 2.6 0.7 1.3 0.8-1.3 0.6-2.6 0.5-3.8 0.4-5 0.3-10.5 0.2-26.4 0.3-40.4 0.1-41.5 0.2-46.2 0.1-39.3 0.1-39.8 0.1-19.7 0.1-9 0.1-4.1 0.1 4.1 0.1 9 0.1 19.7 0.1 39.8 0.1 39.3 0.1 46.2 0.2 41.5 0.2 40.4 0.3 26.4 0.3 10.5 0.3 5 0.6 3.8 0.6 2.6 0.7 1.3 0.8-1.3 0.6-2.6 0.5-3.8 0.4-5 0.3-10.4 0.2-26.3 0.2-40.1 0.2-41.4 0.2-46 0.1-39.1 0.1-39.6 0.1-19.6 0.1-9 0.1-4.1 0.1 4.1 0.1 9 0.1 19.6 0.1 39.6 0.1 39.1 0.1 46 0.2 41.4 0.2 40.1 0.3 26.3 0.3 10.4 0.3 5 0.6 3.8 0.6 2.6 0.7 1.3 0.8-1.3 0.6-2.6 0.5-3.8 0.4-5 0.3-10.4 0.2-26.4 0.2-40.2 0.2-41.5 0.2-46 0.1-39.2 0.1-39.6 0.1-19.7 0.1-9 0.1-4.1 0.1 4.1 0.1 9 0.1 19.7 0.1 39.6 0.1 39.2 0.1 46 0.2 41.5 0.2 40.2 0.3 26.4 0.3 10.4 0.3 5 0.6 3.8 0.6 2.6 0.7 1.3 0.8-1.3 0.6-2.6 0.5-3.8 0.4-5 0.3-10.3 0.2-26.2 0.2-40.1 0.2-41.2 0.1-45.8 0.2-39 0.1-39.6 0.1-19.5 0.1-8.9 0.1-4.2 0.1 4.2 0 8.9 0.2 19.5 0.1 39.6 0.1 39 0.1 45.8 0.2 41.2 0.2 40.1 0.3 26.2 0.3 10.3 0.3 5 0.5 3.8 0.7 2.6 0.7 1.3 0.8-1.3 0.6-2.6 0.5-3.8 0.4-5.1 0.3-10.4 0.2-26.5 0.2-40.4 0.2-41.6 0.1-46.2 0.2-39.3 0.1-39.9 0.1-19.7 0.1-9 0.1-4.2 0 4.2 0.1 9 0.1 19.7 0.2 39.9 0.1 39.3 0.1 46.2 0.2 41.6 0.2 40.4 0.2 26.5 0.4 10.4 0.3 5.1 0.5 3.8 0.7 2.6 0.7 1.3 0.7-1.3 0.7-2.6 0.5-3.8 0.3-5.1 0.4-10.4 0.2-26.5 0.2-40.4 0.2-41.6 0.1-46.2 0.1-39.4 0.2-39.9 0.1-19.7 0.1-9 0-4.2 0.1 4.2 0.1 9 0.1 19.7 0.2 39.9 0.1 39.4 0.1 46.2 0.2 41.6 0.2 40.4 0.2 26.5 0.4 10.4 0.3 5.1 0.5 3.8 0.7 2.6 0.7 1.3 0.7-1.3 0.7-2.6 0.5-3.7 0.3-5 0.3-10.4 0.3-26.2 0.2-40.1 0.2-41.2 0.1-45.8 0.1-39 0.2-39.5 0.1-19.6 0-8.9 0.1-4.1 0.1 4.1 0.1 8.9 0.1 19.6 0.1 39.5 0.2 39 0.1 45.8 0.2 41.2 0.2 40.1 0.2 26.2 0.3 10.4 0.4 5 0.5 3.7 0.6 2.6 0.8 1.3 0.7-1.3 0.7-2.6 0.5-3.8 0.3-5 0.3-10.5 0.3-26.4 0.2-40.3 0.2-41.6 0.1-46.1 0.1-39.3 0.1-39.7 0.1-19.7 0.1-9 0.1-4.2 0.1 4.2 0.1 9 0.1 19.7 0.1 39.7 0.2 39.3 0.1 46.1 0.2 41.6 0.2 40.3 0.2 26.4 0.3 10.5 0.4 5 0.5 3.8 0.6 2.6 0.8 1.3 0.7-1.3 0.6-2.6 0.6-3.8 0.3-5 0.3-10.3 0.3-26.3 0.2-40.1 0.2-41.4 0.1-45.8 0.1-39.1 0.1-39.6 0.1-19.5 0.1-9 0.1-4.1 0.1 4.1 0.1 9 0.1 19.5 0.1 39.6 0.1 39.1 0.2 45.8 0.2 41.4 0.2 40.1 0.2 26.3 0.3 10.3 0.4 5 0.5 3.8 0.6 2.6 0.8 1.3 0.7-1.3 0.6-2.6 0.6-3.8 0.3-5 0.3-10.3 0.3-26.3 0.2-40 0.2-41.3 0.1-45.8 0.1-39.1 0.1-39.5 0.1-19.6 0.1-8.9 0.1-4.1 0.1 4.1 0.1 8.9 0.1 19.6 0.1 39.5 0.1 39.1 0.2 45.8 0.1 41.3 0.3 40 0.2 26.3 0.3 10.3 0.4 5 0.5 3.8 0.6 2.6 0.8 1.3 0.7-1.3 0.6-2.6 0.6-3.8 0.3-5 0.3-10.5 0.3-26.4 0.2-40.4 0.2-41.5 0.1-46.2 0.1-39.3 0.1-39.8 0.1-19.7 0.1-9 0.1-4.2 0.1 4.2 0.1 9 0.1 19.7 0.1 39.8 0.1 39.3 0.2 46.2 0.1 41.5 0.3 40.4 0.2 26.4 0.3 10.5 0.4 5 0.5 3.8 0.6 2.6 0.8 1.3 0.7-1.3 0.6-2.6 0.5-3.8 0.4-5.1 0.3-10.4 0.3-26.5 0.2-40.3 0.1-41.7 0.2-46.2 0.1-39.3 0.1-39.8 0.1-19.8 0.1-9 0.1-4.1 0.1 4.1 0.1 9 0.1 19.8 0.1 39.8 0.1 39.3 0.2 46.2 0.1 41.7 0.2 40.3 0.3 26.5 0.3 10.4 0.4 5.1 0.5 3.8 0.6 2.6 0.7 1.3 0.8-1.3 0.6-2.6 0.5-3.8 0.4-5 0.3-10.4 0.3-26.3 0.2-40.2 0.1-41.5 0.2-46 0.1-39.1 0.1-39.7 0.1-19.6 0.1-9 0.1-4.1 0.1 4.1 0.1 9 0.1 19.6 0.1 39.7 0.1 39.1 0.2 46 0.1 41.5 0.2 40.2 0.3 26.3 0.3 10.4 0.4 5 0.5 3.8 0.6 2.6 0.7 1.3 0.8-1.3 0.6-2.6 0.5-3.8 0.4-5.1 0.3-10.4 0.3-26.4 0.2-40.4 0.1-41.6 0.2-46.2 0.1-39.3 0.1-39.9 0.1-19.7 0.1-9 0.1-4.2 0.1 4.2 0.1 9 0.1 19.7 0.1 39.9 0.1 39.3 0.2 46.2 0.1 41.6 0.2 40.4 0.3 26.4 0.3 10.4 0.4 5.1 0.5 3.8 0.6 2.6 0.7 1.3 0.8-1.3 0.6-2.6 0.5-3.7 0.4-4.9 0.3-10.3 0.3-26 0.2-39.7 0.1-40.9 0.2-45.4 0.1-38.7 0.1-39.1 0.1-19.4 0.1-8.9 0.1-4 0.1 4 0.1 8.9 0.1 19.4 0.1 39.1 0.1 38.7 0.2 45.4 0.1 40.9 0.2 39.7 0.3 26 0.3 10.3 0.4 4.9 0.5 3.7 0.6 2.6 0.7 1.3 0.8-1.3 0.6-2.6 0.5-3.7 0.4-5 0.3-10.4 0.2-26.2 0.3-40 0.1-41.2 0.2-45.8 0.1-39 0.1-39.4 0.1-19.6 0.1-8.9 0.1-4.1 0.1 4.1 0.1 8.9 0.1 19.6 0.1 39.4 0.1 39 0.1 45.8 0.2 41.2 0.2 40 0.3 26.2 0.3 10.4 0.3 5 0.6 3.7 0.6 2.6 0.7 1.3 0.8-1.3 0.6-2.6 0.5-3.8 0.4-5 0.3-10.4 0.2-26.4 0.2-40.3 0.2-41.5 0.2-46.1 0.1-39.3 0.1-39.7 0.1-19.7 0.1-9 0.1-4.1 0.1 4.1 0.1 9 0.1 19.7 0.1 39.7 0.1 39.3 0.1 46.1 0.2 41.5 0.2 40.3 0.3 26.4 0.3 10.4 0.3 5 0.6 3.8 0.6 2.6 0.7 1.3 0.8-1.3 0.6-2.6 0.5-3.7 0.4-4.9 0.3-10.3 0.2-25.9 0.2-39.7 0.2-40.8 0.2-45.4 0.1-38.6 0.1-39.1 0.1-19.4 0.1-8.8 0.1-4.1 0.1 4.1 0.1 8.8 0.1 19.4 0.1 39.1 0.1 38.6 0.1 45.4 0.2 40.8 0.2 39.7 0.3 25.9 0.3 10.3 0.3 4.9 0.6 3.7 0.6 2.6 0.7 1.3 0.8-1.3 0.6-2.6 0.5-3.8 0.4-5 0.3-10.3 0.2-26.3 0.2-40.1 0.2-41.4 0.1-45.8 0.2-39.1 0.1-39.6 0.1-19.6 0.1-8.9 0.1-4.2 0.1 4.2 0.1 8.9 0.1 19.6 0.1 39.6 0.1 39.1 0.1 45.8 0.2 41.4 0.2 40.1 0.3 26.3 0.3 10.3 0.3 5 0.5 3.8 0.7 2.6 0.7 1.3 0.8-1.3 0.6-2.6 0.5-3.7 0.4-5 0.3-10.2 0.2-26.1 0.2-39.8 0.2-41 0.1-45.5 0.2-38.8 0.1-39.2 0.1-19.4 0.1-8.9 0.1-4.1 0.1 4.1 0 8.9 0.1 19.4 0.2 39.2 0.1 38.8 0.1 45.5 0.2 41 0.2 39.8 0.3 26.1 0.3 10.2 0.3 5 0.5 3.7 0.7 2.6 0.7 1.3 0.7-1.3 0.7-2.6 0.5-3.8 0.3-5 0.4-10.4 0.2-26.3 0.2-40.1 0.2-41.4 0.1-45.9 0.1-39.1 0.2-39.6 0.1-19.6 0.1-8.9 0.1-4.2 0 4.2 0.1 8.9 0.1 19.6 0.2 39.6 0.1 39.1 0.1 45.9 0.2 41.4 0.2 40.1 0.2 26.3 0.4 10.4 0.3 5 0.5 3.8 0.7 2.6 0.7 1.3 0.7-1.3 0.7-2.6 0.5-3.8 0.3-5 0.4-10.3 0.2-26.3 0.2-40.1 0.2-41.4 0.1-45.8 0.1-39.1 0.2-39.6 0.1-19.6 0.1-8.9 0-4.2 0.1 4.2 0.1 8.9 0.1 19.6 0.1 39.6 0.2 39.1 0.1 45.8 0.2 41.4 0.2 40.1 0.2 26.3 0.3 10.3 0.4 5 0.5 3.8 0.6 2.6 0.8 1.3 0.7-1.3 0.7-2.6 0.5-3.8 0.3-5 0.3-10.4 0.3-26.3 0.2-40.1 0.2-41.3 0.1-46 0.1-39 0.1-39.6 0.2-19.6 0-9 0.1-4.1 0.1 4.1 0.1 9 0.1 19.6 0.1 39.6 0.2 39 0.1 46 0.2 41.3 0.2 40.1 0.2 26.3 0.3 10.4 0.4 5 0.5 3.8 0.6 2.6 0.8 1.3 0.7-1.3 0.6-2.6 0.6-3.8 0.3-5.1 0.3-10.4 0.3-26.4 0.2-40.4 0.2-41.6 0.1-46.2 0.1-39.3 0.1-39.8 0.1-19.8 0.1-9 0.1-4.1 0.1 4.1 0.1 9 0.1 19.8 0.1 39.8 0.1 39.3 0.2 46.2 0.2 41.6 0.2 40.4 0.2 26.4 0.3 10.4 0.4 5.1 0.5 3.8 0.6 2.6 0.8 1.3 0.7-1.3 0.6-2.6 0.6-3.7 0.3-5 0.3-10.3 0.3-26.1 0.2-39.9 0.2-41 0.1-45.6 0.1-38.9 0.1-39.3 0.1-19.4 0.1-8.9 0.1-4.2 0.1 4.2 0.1 8.9 0.1 19.4 0.1 39.3 0.1 38.9 0.2 45.6 0.2 41 0.2 39.9 0.2 26.1 0.3 10.3 0.4 5 0.5 3.7 0.6 2.6 0.8 1.3 0.7-1.3 0.6-2.6 0.6-3.7 0.3-5 0.3-10.4 0.3-26.1 0.2-40 0.2-41.2 0.1-45.7 0.1-38.9 0.1-39.5 0.1-19.5 0.1-8.9 0.1-4.1 0.1 4.1 0.1 8.9 0.1 19.5 0.1 39.5 0.1 38.9 0.2 45.7 0.1 41.2 0.3 40 0.2 26.1 0.3 10.4 0.4 5 0.5 3.7 0.6 2.6 0.8 1.3 0.7-1.3 0.6-2.6 0.5-3.7 0.4-5 0.3-10.3 0.3-26.2 0.2-39.8 0.2-41.2 0.1-45.6 0.1-38.8 0.1-39.4 0.1-19.5 0.1-8.9 0.1-4.1 0.1 4.1 0.1 8.9 0.1 19.5 0.1 39.4 0.1 38.8 0.2 45.6 0.1 41.2 0.2 39.8 0.3 26.2 0.3 10.3 0.4 5 0.5 3.7 0.6 2.6 0.7 1.3 0.8-1.3 0.6-2.6 0.5-3.8 0.4-5.1 0.3-10.4 0.3-26.5 0.2-40.4 0.1-41.6 0.2-46.2 0.1-39.3 0.1-39.9 0.1-19.7 0.1-9 0.1-4.2 0.1 4.2 0.1 9 0.1 19.7 0.1 39.9 0.1 39.3 0.2 46.2 0.1 41.6 0.2 40.4 0.3 26.5 0.3 10.4 0.4 5.1 0.5 3.8 0.6 2.6 0.7 1.3 0.8-1.3 0.6-2.6 0.5-3.8 0.4-5 0.3-10.5 0.3-26.4 0.2-40.3 0.1-41.5 0.2-46.2 0.1-39.2 0.1-39.8 0.1-19.7 0.1-9 0.1-4.1 0.1 4.1 0.1 9 0.1 19.7 0.1 39.8 0.1 39.2 0.2 46.2 0.1 41.5 0.2 40.3 0.3 26.4 0.3 10.5 0.4 5 0.5 3.8 0.6 2.6 0.7 1.3 0.8-1.3 0.6-2.6 0.5-3.8 0.4-5.1 0.3-10.4 0.3-26.4 0.2-40.4 0.1-41.6 0.2-46.1 0.1-39.4 0.1-39.8 0.1-19.7 0.1-9 0.1-4.1 0.1 4.1 0.1 9 0.1 19.7 0.1 39.8 0.1 39.4 0.2 46.1 0.1 41.6 0.2 40.4 0.3 26.4 0.3 10.4 0.4 5.1 0.5 3.8 0.6 2.6 0.7 1.3 0.8-1.3 0.6-2.6 0.5-3.8 0.4-5 0.3-10.3 0.3-26.3 0.2-40 0.1-41.3 0.2-45.8 0.1-39.1 0.1-39.5 0.1-19.5 0.1-9 0.1-4.1 0.1 4.1 0.1 9 0.1 19.5 0.1 39.5 0.1 39.1 0.1 45.8 0.2 41.3 0.2 40 0.3 26.3 0.3 10.3 0.4 5 0.5 3.8 0.6 2.6 0.7 1.3 0.8-1.3 0.6-2.6 0.5-3.7 0.4-5 0.3-10.4 0.2-26.2 0.3-40 0.1-41.3 0.2-45.7 0.1-39 0.1-39.5 0.1-19.5 0.1-9 0.1-4.1 0.1 4.1 0.1 9 0.1 19.5 0.1 39.5 0.1 39 0.1 45.7 0.2 41.3 0.2 40 0.3 26.2 0.3 10.4 0.3 5 0.6 3.7 0.6 2.6 0.7 1.3 0.8-1.3 0.6-2.6 0.5-3.8 0.4-5 0.3-10.4 0.2-26.4 0.2-40.2 0.2-41.4 0.2-46 0.1-39.2 0.1-39.7 0.1-19.6 0.1-9 0.1-4.1 0.1 4.1 0.1 9 0.1 19.6 0.1 39.7 0.1 39.2 0.1 46 0.2 41.4 0.2 40.2 0.3 26.4 0.3 10.4 0.3 5 0.6 3.8 0.6 2.6 0.7 1.3 0.8-1.3 0.6-2.6 0.5-3.8 0.4-5.1 0.3-10.4 0.2-26.5 0.2-40.4 0.2-41.6 0.1-46.2 0.2-39.4 0.1-39.8 0.1-19.8 0.1-9 0.1-4.1 0.1 4.1 0.1 9 0.1 19.8 0.1 39.8 0.1 39.4 0.1 46.2 0.2 41.6 0.2 40.4 0.3 26.5 0.3 10.4 0.3 5.1 0.5 3.8 0.7 2.6 0.7 1.3 0.8-1.3 0.6-2.6 0.5-3.8 0.4-5 0.3-10.3 0.2-26.3 0.2-40.2 0.2-41.3 0.1-45.9 0.2-39.1 0.1-39.6 0.1-19.6 0.1-9 0.1-4.1 0.1 4.1 0 9 0.1 19.6 0.2 39.6 0.1 39.1 0.1 45.9 0.2 41.3 0.2 40.2 0.3 26.3 0.3 10.3 0.3 5 0.5 3.8 0.7 2.6 0.7 1.3 0.8-1.3 0.6-2.6 0.5-3.8 0.4-5 0.3-10.4 0.2-26.3 0.2-40.2 0.2-41.4 0.1-46 0.1-39.1 0.2-39.7 0.1-19.6 0.1-9 0.1-4.1 0 4.1 0.1 9 0.1 19.6 0.2 39.7 0.1 39.1 0.1 46 0.2 41.4 0.2 40.2 0.2 26.3 0.4 10.4 0.3 5 0.5 3.8 0.7 2.6 0.7 1.3 0.7-1.3 0.7-2.6 0.5-3.7 0.3-5 0.4-10.3 0.2-26.2 0.2-40 0.2-41.2 0.1-45.7 0.1-38.9 0.2-39.4 0.1-19.5 0.1-8.9 0-4.1 0.1 4.1 0.1 8.9 0.1 19.5 0.1 39.4 0.2 38.9 0.1 45.7 0.2 41.2 0.2 40 0.2 26.2 0.3 10.3 0.4 5 0.5 3.7 0.6 2.6 0.8 1.3 0.7-1.3 0.7-2.6 0.5-3.7 0.3-5 0.3-10.4 0.3-26.1 0.2-40 0.2-41.2 0.1-45.7 0.1-38.9 0.2-39.4 0.1-19.5 0-9 0.1-4.1 0.1 4.1 0.1 9 0.1 19.5 0.1 39.4 0.2 38.9 0.1 45.7 0.2 41.2 0.2 40 0.2 26.1 0.3 10.4 0.4 5 0.5 3.7 0.6 2.6 0.8 1.3 0.7-1.3 0.7-2.6 0.5-3.8 0.3-5.1 0.3-10.4 0.3-26.4 0.2-40.4 0.2-41.6 0.1-46.2 0.1-39.3 0.1-39.8 0.1-19.7 0.1-9 0.1-4.2 0.1 4.2 0.1 9 0.1 19.7 0.1 39.8 0.2 39.3 0.1 46.2 0.2 41.6 0.2 40.4 0.2 26.4 0.3 10.4 0.4 5.1 0.5 3.8 0.6 2.6 0.8 1.3 0.7-1.3 0.6-2.6 0.6-3.8 0.3-5 0.3-10.3 0.3-26.3 0.2-40 0.2-41.3 0.1-45.9 0.1-39 0.1-39.5 0.1-19.6 0.1-8.9 0.1-4.1 0.1 4.1 0.1 8.9 0.1 19.6 0.1 39.5 0.1 39 0.2 45.9 0.2 41.3 0.2 40 0.2 26.3 0.3 10.3 0.4 5 0.5 3.8 0.6 2.6 0.8 1.3 0.7-1.3 0.6-2.6 0.6-3.8 0.3-5.1 0.3-10.4 0.3-26.5 0.2-40.4 0.2-41.7 0.1-46.2 0.1-39.3 0.1-39.9 0.1-19.7 0.1-9.1 0.1-4.1 0.1 4.1 0.1 9.1 0.1 19.7 0.1 39.9 0.1 39.3 0.2 46.2 0.1 41.7 0.3 40.4 0.2 26.5 0.3 10.4 0.4 5.1 0.5 3.8 0.6 2.6 0.8 1.3 0.7-1.3 0.6-2.6 0.5-3.8 0.4-5 0.3-10.4 0.3-26.3 0.2-40.2 0.2-41.3 0.1-46 0.1-39.1 0.1-39.6 0.1-19.6 0.1-9 0.1-4.2 0.1 4.2 0.1 9 0.1 19.6 0.1 39.6 0.1 39.1 0.2 46 0.1 41.3 0.2 40.2 0.3 26.3 0.3 10.4 0.4 5 0.5 3.8 0.6 2.6 0.8 1.3 0.7-1.3 0.6-2.6 0.5-3.8 0.4-5 0.3-10.4 0.3-26.5 0.2-40.3 0.1-41.5 0.2-46.1 0.1-39.2 0.1-39.8 0.1-19.7 0.1-9 0.1-4.1 0.1 4.1 0.1 9 0.1 19.7 0.1 39.8 0.1 39.2 0.2 46.1 0.1 41.5 0.2 40.3 0.3 26.5 0.3 10.4 0.4 5 0.5 3.8 0.6 2.6 0.7 1.3 0.8-1.3 0.6-2.6 0.5-3.8 0.4-5 0.3-10.4 0.3-26.3 0.2-40.3 0.1-41.4 0.2-46 0.1-39.2 0.1-39.7 0.1-19.6 0.1-9 0.1-4.1 0.1 4.1 0.1 9 0.1 19.6 0.1 39.7 0.1 39.2 0.2 46 0.1 41.4 0.2 40.3 0.3 26.3 0.3 10.4 0.4 5 0.5 3.8 0.6 2.6 0.7 1.3 0.8-1.3 0.6-2.6 0.5-3.8 0.4-5.1 0.3-10.4 0.3-26.5 0.2-40.4 0.1-41.7 0.2-46.2 0.1-39.4 0.1-39.8 0.1-19.8 0.1-9 0.1-4.1 0.1 4.1 0.1 9 0.1 19.8 0.1 39.8 0.1 39.4 0.2 46.2 0.1 41.7 0.2 40.4 0.3 26.5 0.3 10.4 0.4 5.1 0.5 3.8 0.6 2.6 0.7 1.3 0.8-1.3 0.6-2.6 0.5-3.8 0.4-5 0.3-10.4 0.3-26.4 0.2-40.3 0.1-41.5 0.2-46.1 0.1-39.2 0.1-39.8 0.1-19.6 0.1-9 0.1-4.2 0.1 4.2 0.1 9 0.1 19.6 0.1 39.8 0.1 39.2 0.1 46.1 0.2 41.5 0.2 40.3 0.3 26.4 0.3 10.4 0.4 5 0.5 3.8 0.6 2.6 0.7 1.3 0.8-1.3 0.6-2.6 0.5-3.8 0.4-5 0.3-10.5 0.2-26.4 0.3-40.3 0.1-41.5 0.2-46.1 0.1-39.3 0.1-39.8 0.1-19.6 0.1-9 0.1-4.2 0.1 4.2 0.1 9 0.1 19.6 0.1 39.8 0.1 39.3 0.1 46.1 0.2 41.5 0.2 40.3 0.3 26.4 0.3 10.5 0.3 5 0.6 3.8 0.6 2.6 0.7 1.3 0.8-1.3 0.6-2.6 0.5-3.7 0.4-5 0.3-10.3 0.2-26.2 0.2-39.9 0.2-41.1 0.2-45.7 0.1-38.9 0.1-39.4 0.1-19.4 0.1-8.9 0.1-4.2 0.1 4.2 0.1 8.9 0.1 19.4 0.1 39.4 0.1 38.9 0.1 45.7 0.2 41.1 0.2 39.9 0.3 26.2 0.3 10.3 0.3 5 0.6 3.7 0.6 2.6 0.7 1.3 0.8-1.3 0.6-2.6 0.5-3.8 0.4-5 0.3-10.3 0.2-26.3 0.2-40.2 0.2-41.3 0.2-45.9 0.1-39.1 0.1-39.6 0.1-19.6 0.1-8.9 0.1-4.2 0.1 4.2 0.1 8.9 0.1 19.6 0.1 39.6 0.1 39.1 0.1 45.9 0.2 41.3 0.2 40.2 0.3 26.3 0.3 10.3 0.3 5 0.5 3.8 0.7 2.6 0.7 1.3 0.8-1.3 0.6-2.6 0.5-3.7 0.4-5 0.3-10.3 0.2-26.1 0.2-39.8 0.2-41 0.1-45.6 0.2-38.7 0.1-39.3 0.1-19.5 0.1-8.8 0.1-4.1 0.1 4.1 0 8.8 0.2 19.5 0.1 39.3 0.1 38.7 0.1 45.6 0.2 41 0.2 39.8 0.3 26.1 0.3 10.3 0.3 5 0.5 3.7 0.7 2.6 0.7 1.3 0.8-1.3 0.6-2.6 0.5-3.8 0.4-5 0.3-10.4 0.2-26.3 0.2-40.2 0.2-41.4 0.1-45.9 0.2-39.2 0.1-39.6 0.1-19.6 0.1-9 0.1-4.1 0 4.1 0.1 9 0.1 19.6 0.2 39.6 0.1 39.2 0.1 45.9 0.2 41.4 0.2 40.2 0.2 26.3 0.4 10.4 0.3 5 0.5 3.8 0.7 2.6 0.7 1.3 0.7-1.3 0.7-2.6 0.5-3.7 0.3-5 0.4-10.4 0.2-26.2 0.2-40.1 0.2-41.2 0.1-45.8 0.1-39 0.2-39.5 0.1-19.6 0.1-8.9 0-4.1 0.1 4.1 0.1 8.9 0.1 19.6 0.2 39.5 0.1 39 0.1 45.8 0.2 41.2 0.2 40.1 0.2 26.2 0.4 10.4 0.3 5 0.5 3.7 0.7 2.6 0.7 1.3 0.7-1.3 0.7-2.6 0.5-3.8 0.3-5 0.3-10.4 0.3-26.4 0.2-40.3 0.2-41.6 0.1-46.1 0.1-39.2 0.2-39.8 0.1-19.6 0-9 0.1-4.2 0.1 4.2 0.1 9 0.1 19.6 0.1 39.8 0.2 39.2 0.1 46.1 0.2 41.6 0.2 40.3 0.2 26.4 0.3 10.4 0.4 5 0.5 3.8 0.6 2.6 0.8 1.3 0.7-1.3 0.7-2.6 0.5-3.7 0.3-5 0.3-10.3 0.3-26.2 0.2-39.9 0.2-41.1 0.1-45.6 0.1-38.9 0.1-39.4 0.1-19.5 0.1-8.9 0.1-4.1 0.1 4.1 0.1 8.9 0.1 19.5 0.1 39.4 0.2 38.9 0.1 45.6 0.2 41.1 0.2 39.9 0.2 26.2 0.3 10.3 0.4 5 0.5 3.7 0.6 2.6 0.8 1.3 0.7-1.3 0.6-2.6 0.6-3.7 0.3-5 0.3-10.3 0.3-26.2 0.2-39.8 0.2-41.1 0.1-45.7 0.1-38.8 0.1-39.4 0.1-19.5 0.1-8.9 0.1-4.1 0.1 4.1 0.1 8.9 0.1 19.5 0.1 39.4 0.1 38.8 0.2 45.7 0.2 41.1 0.2 39.8 0.2 26.2 0.3 10.3 0.4 5 0.5 3.7 0.6 2.6 0.8 1.3 0.7-1.3 0.6-2.6 0.6-3.8 0.3-5 0.3-10.5 0.3-26.4 0.2-40.3 0.2-41.6 0.1-46.2 0.1-39.3 0.1-39.8 0.1-19.7 0.1-9 0.1-4.1 0.1 4.1 0.1 9 0.1 19.7 0.1 39.8 0.1 39.3 0.2 46.2 0.1 41.6 0.3 40.3 0.2 26.4 0.3 10.5 0.4 5 0.5 3.8 0.6 2.6 0.8 1.3 0.7-1.3 0.6-2.6 0.6-3.8 0.3-5 0.3-10.4 0.3-26.3 0.2-40.2 0.2-41.4 0.1-46 0.1-39.1 0.1-39.7 0.1-19.6 0.1-9 0.1-4.1 0.1 4.1 0.1 9 0.1 19.6 0.1 39.7 0.1 39.1 0.2 46 0.1 41.4 0.3 40.2 0.2 26.3 0.3 10.4 0.4 5 0.5 3.8 0.6 2.6 0.8 1.3 0.7-1.3 0.6-2.6 0.5-3.7 0.4-5 0.3-10.2 0.3-26.1 0.2-39.8 0.1-41 0.2-45.5 0.1-38.7 0.1-39.3 0.1-19.4 0.1-8.9 0.1-4.1 0.1 4.1 0.1 8.9 0.1 19.4 0.1 39.3 0.1 38.7 0.2 45.5 0.1 41 0.2 39.8 0.3 26.1 0.3 10.2 0.4 5 0.5 3.7 0.6 2.6 0.7 1.3 0.8-1.3 0.6-2.6 0.5-3.8 0.4-5 0.3-10.4 0.3-26.3 0.2-40.1 0.1-41.4 0.2-45.9 0.1-39.1 0.1-39.7 0.1-19.5 0.1-9 0.1-4.1 0.1 4.1 0.1 9 0.1 19.5 0.1 39.7 0.1 39.1 0.2 45.9 0.1 41.4 0.2 40.1 0.3 26.3 0.3 10.4 0.4 5 0.5 3.8 0.6 2.6 0.7 1.3 0.8-1.3 0.6-2.6 0.5-3.8 0.4-5.1 0.3-10.4 0.3-26.5 0.2-40.4 0.1-41.6 0.2-46.3 0.1-39.3 0.1-39.9 0.1-19.7 0.1-9 0.1-4.2 0.1 4.2 0.1 9 0.1 19.7 0.1 39.9 0.1 39.3 0.2 46.3 0.1 41.6 0.2 40.4 0.3 26.5 0.3 10.4 0.4 5.1 0.5 3.8 0.6 2.6 0.7 1.3 0.8-1.3 0.6-2.6 0.5-3.8 0.4-5.1 0.3-10.4 0.3-26.5 0.2-40.4 0.1-41.6 0.2-46.2 0.1-39.3 0.1-39.9 0.1-19.7 0.1-9 0.1-4.2 0.1 4.2 0.1 9 0.1 19.7 0.1 39.9 0.1 39.3 0.2 46.2 0.1 41.6 0.2 40.4 0.3 26.5 0.3 10.4 0.4 5.1 0.5 3.8 0.6 2.6 0.7 1.3 0.8-1.3 0.6-2.6 0.5-3.8 0.4-5 0.3-10.4 0.2-26.3 0.3-40.1 0.1-41.4 0.2-45.9 0.1-39.1 0.1-39.6 0.1-19.6 0.1-9 0.1-4.1 0.1 4.1 0.1 9 0.1 19.6 0.1 39.6 0.1 39.1 0.1 45.9 0.2 41.4 0.2 40.1 0.3 26.3 0.3 10.4 0.3 5 0.6 3.8 0.6 2.6 0.7 1.3 0.8-1.3 0.6-2.6 0.5-3.8 0.4-5 0.3-10.4 0.2-26.4 0.2-40.2 0.2-41.5 0.2-46.1 0.1-39.2 0.1-39.7 0.1-19.6 0.1-9 0.1-4.2 0.1 4.2 0.1 9 0.1 19.6 0.1 39.7 0.1 39.2 0.1 46.1 0.2 41.5 0.2 40.2 0.3 26.4 0.3 10.4 0.3 5 0.6 3.8 0.6 2.6 0.7 1.3 0.8-1.3 0.6-2.6 0.5-3.8 0.4-5 0.3-10.4 0.2-26.4 0.2-40.2 0.2-41.4 0.2-46 0.1-39.2 0.1-39.7 0.1-19.6 0.1-9 0.1-4.2 0.1 4.2 0.1 9 0.1 19.6 0.1 39.7 0.1 39.2 0.1 46 0.2 41.4 0.2 40.2 0.3 26.4 0.3 10.4 0.3 5 0.6 3.8 0.6 2.6 0.7 1.3 0.8-1.3 0.6-2.6 0.5-3.8 0.4-5.1 0.3-10.4 0.2-26.4 0.2-40.4 0.2-41.6 0.1-46.2 0.2-39.3 0.1-39.8 0.1-19.7 0.1-9 0.1-4.2 0.1 4.2 0.1 9 0.1 19.7 0.1 39.8 0.1 39.3 0.1 46.2 0.2 41.6 0.2 40.4 0.3 26.4 0.3 10.4 0.3 5.1 0.5 3.8 0.7 2.6 0.7 1.3 0.8-1.3 0.6-2.6 0.5-3.7 0.4-5 0.3-10.4 0.2-26.2 0.2-40 0.2-41.3 0.1-45.7 0.2-39 0.1-39.5 0.1-19.5 0.1-8.9 0.1-4.2 0.1 4.2 0 8.9 0.1 19.5 0.2 39.5 0.1 39 0.1 45.7 0.2 41.3 0.2 40 0.2 26.2 0.4 10.4 0.3 5 0.5 3.7 0.7 2.6 0.7 1.3 0.7-1.3 0.7-2.6 0.5-3.7 0.3-5 0.4-10.4 0.2-26.2 0.2-39.9 0.2-41.2 0.1-45.8 0.1-38.9 0.2-39.4 0.1-19.5 0.1-9 0.1-4.1 0 4.1 0.1 9 0.1 19.5 0.2 39.4 0.1 38.9 0.1 45.8 0.2 41.2 0.2 39.9 0.2 26.2 0.4 10.4 0.3 5 0.5 3.7 0.7 2.6 0.7 1.3 0.7-1.3 0.7-2.6 0.5-3.7 0.3-5 0.4-10.3 0.2-26.2 0.2-39.9 0.2-41.2 0.1-45.7 0.1-38.9 0.2-39.4 0.1-19.5 0.1-8.9 0-4.1 0.1 4.1 0.1 8.9 0.1 19.5 0.1 39.4 0.2 38.9 0.1 45.7 0.2 41.2 0.2 39.9 0.2 26.2 0.3 10.3 0.4 5 0.5 3.7 0.6 2.6 0.8 1.3 0.7-1.3 0.7-2.6 0.5-3.8 0.3-5 0.3-10.4 0.3-26.4 0.2-40.2 0.2-41.5 0.1-46 0.1-39.2 0.1-39.7 0.2-19.6 0-9 0.1-4.1 0.1 4.1 0.1 9 0.1 19.6 0.1 39.7 0.2 39.2 0.1 46 0.2 41.5 0.2 40.2 0.2 26.4 0.3 10.4 0.4 5 0.5 3.8 0.6 2.6 0.8 1.3 0.7-1.3 0.6-2.6 0.6-3.8 0.3-5 0.3-10.5 0.3-26.4 0.2-40.3 0.2-41.5 0.1-46.1 0.1-39.3 0.1-39.8 0.1-19.7 0.1-8.9 0.1-4.2 0.1 4.2 0.1 8.9 0.1 19.7 0.1 39.8 0.1 39.3 0.2 46.1 0.2 41.5 0.2 40.3 0.2 26.4 0.3 10.5 0.4 5 0.5 3.8 0.6 2.6 0.8 1.3 0.7-1.3 0.6-2.6 0.6-3.8 0.3-5.1 0.3-10.4 0.3-26.5 0.2-40.4 0.2-41.6 0.1-46.2 0.1-39.4 0.1-39.9 0.1-19.7 0.1-9 0.1-4.2 0.1 4.2 0.1 9 0.1 19.7 0.1 39.9 0.1 39.4 0.2 46.2 0.2 41.6 0.2 40.4 0.2 26.5 0.3 10.4 0.4 5.1 0.5 3.8 0.6 2.6 0.8 1.3 0.7-1.3 0.6-2.6 0.6-3.8 0.3-5 0.3-10.4 0.3-26.4 0.2-40.3 0.2-41.4 0.1-46.1 0.1-39.2 0.1-39.7 0.1-19.7 0.1-9 0.1-4.1 0.1 4.1 0.1 9 0.1 19.7 0.1 39.7 0.1 39.2 0.2 46.1 0.1 41.4 0.3 40.3 0.2 26.4 0.3 10.4 0.4 5 0.5 3.8 0.6 2.6 0.8 1.3 0.7-1.3 0.6-2.6 0.5-3.8 0.4-5 0.3-10.4 0.3-26.4 0.2-40.2 0.2-41.5 0.1-46 0.1-39.2 0.1-39.7 0.1-19.6 0.1-9 0.1-4.1 0.1 4.1 0.1 9 0.1 19.6 0.1 39.7 0.1 39.2 0.2 46 0.1 41.5 0.2 40.2 0.3 26.4 0.3 10.4 0.4 5 0.5 3.8 0.6 2.6 0.7 1.3 0.8-1.3 0.6-2.6 0.5-3.8 0.4-5 0.3-10.4 0.3-26.3 0.2-40.2 0.1-41.4 0.2-46 0.1-39.1 0.1-39.7 0.1-19.6 0.1-9 0.1-4.1 0.1 4.1 0.1 9 0.1 19.6 0.1 39.7 0.1 39.1 0.2 46 0.1 41.4 0.2 40.2 0.3 26.3 0.3 10.4 0.4 5 0.5 3.8 0.6 2.6 0.7 1.3 0.8-1.3 0.6-2.6 0.5-3.8 0.4-5 0.3-10.4 0.3-26.5 0.2-40.3 0.1-41.5 0.2-46.1 0.1-39.3 0.1-39.8 0.1-19.6 0.1-9 0.1-4.2 0.1 4.2 0.1 9 0.1 19.6 0.1 39.8 0.1 39.3 0.2 46.1 0.1 41.5 0.2 40.3 0.3 26.5 0.3 10.4 0.4 5 0.5 3.8 0.6 2.6 0.7 1.3 0.8-1.3 0.6-2.6 0.5-3.8 0.4-5.1 0.3-10.4 0.3-26.4 0.2-40.4 0.1-41.6 0.2-46.2 0.1-39.3 0.1-39.8 0.1-19.7 0.1-9 0.1-4.2 0.1 4.2 0.1 9 0.1 19.7 0.1 39.8 0.1 39.3 0.2 46.2 0.1 41.6 0.2 40.4 0.3 26.4 0.3 10.4 0.4 5.1 0.5 3.8 0.6 2.6 0.7 1.3 0.8-1.3 0.6-2.6 0.5-3.8 0.4-5.1 0.3-10.4 0.3-26.5 0.2-40.4 0.1-41.6 0.2-46.3 0.1-39.3 0.1-39.9 0.1-19.7 0.1-9 0.1-4.2 0.1 4.2 0.1 9 0.1 19.7 0.1 39.9 0.1 39.3 0.1 46.3 0.2 41.6 0.2 40.4 0.3 26.5 0.3 10.4 0.4 5.1 0.5 3.8 0.6 2.6 0.7 1.3 0.8-1.3 0.6-2.6 0.5-3.7 0.4-5 0.3-10.4 0.2-26.2 0.3-40 0.1-41.2 0.2-45.7 0.1-39 0.1-39.4 0.1-19.5 0.1-9 0.1-4.1 0.1 4.1 0.1 9 0.1 19.5 0.1 39.4 0.1 39 0.1 45.7 0.2 41.2 0.2 40 0.3 26.2 0.3 10.4 0.3 5 0.6 3.7 0.6 2.6 0.7 1.3 0.8-1.3 0.6-2.6 0.5-3.8 0.4-5 0.3-10.4 0.2-26.3 0.2-40.2 0.2-41.4 0.2-45.9 0.1-39.1 0.1-39.7 0.1-19.6 0.1-8.9 0.1-4.2 0.1 4.2 0.1 8.9 0.1 19.6 0.1 39.7 0.1 39.1 0.1 45.9 0.2 41.4 0.2 40.2 0.3 26.3 0.3 10.4 0.3 5 0.6 3.8 0.6 2.6 0.7 1.3 0.8-1.3 0.6-2.6 0.5-3.8 0.4-5 0.3-10.4 0.2-26.4 0.2-40.3 0.2-41.5 0.1-46.1 0.2-39.2 0.1-39.8 0.1-19.6 0.1-9 0.1-4.2 0.1 4.2 0.1 9 0.1 19.6 0.1 39.8 0.1 39.2 0.1 46.1 0.2 41.5 0.2 40.3 0.3 26.4 0.3 10.4 0.3 5 0.5 3.8 0.7 2.6 0.7 1.3 0.8-1.3 0.6-2.6 0.5-3.8 0.4-5 0.3-10.4 0.2-26.3 0.2-40.3 0.2-41.4 0.1-46 0.2-39.2 0.1-39.6 0.1-19.7 0.1-8.9 0.1-4.2 0.1 4.2 0 8.9 0.1 19.7 0.2 39.6 0.1 39.2 0.1 46 0.2 41.4 0.2 40.3 0.3 26.3 0.3 10.4 0.3 5 0.5 3.8 0.7 2.6 0.7 1.3 0.8-1.3 0.6-2.6 0.5-3.7 0.4-5 0.3-10.3 0.2-26.2 0.2-39.9 0.2-41.1 0.1-45.7 0.1-38.9 0.2-39.4 0.1-19.4 0.1-8.9 0.1-4.2 0 4.2 0.1 8.9 0.1 19.4 0.2 39.4 0.1 38.9 0.1 45.7 0.2 41.1 0.2 39.9 0.2 26.2 0.4 10.3 0.3 5 0.5 3.7 0.7 2.6 0.7 1.3 0.7-1.3 0.7-2.6 0.5-3.8 0.3-5 0.4-10.3 0.2-26.3 0.2-40 0.2-41.3 0.1-45.9 0.1-39 0.2-39.6 0.1-19.5 0.1-9 0-4.1 0.1 4.1 0.1 9 0.1 19.5 0.1 39.6 0.2 39 0.1 45.9 0.2 41.3 0.2 40 0.2 26.3 0.3 10.3 0.4 5 0.5 3.8 0.6 2.6 0.8 1.3 0.7-1.3 0.7-2.6 0.5-3.8 0.3-5 0.3-10.3 0.3-26.3 0.2-40 0.2-41.3 0.1-45.9 0.1-39 0.2-39.5 0.1-19.6 0-8.9 0.1-4.1 0.1 4.1 0.1 8.9 0.1 19.6 0.1 39.5 0.2 39 0.1 45.9 0.2 41.3 0.2 40 0.2 26.3 0.3 10.3 0.4 5 0.5 3.8 0.6 2.6 0.8 1.3 0.7-1.3 0.7-2.6 0.5-3.8 0.3-5.1 0.3-10.4 0.3-26.4 0.2-40.4 0.2-41.6 0.1-46.2 0.1-39.3 0.1-39.8 0.1-19.7 0.1-9 0.1-4.2 0.1 4.2 0.1 9 0.1 19.7 0.1 39.8 0.2 39.3 0.1 46.2 0.2 41.6 0.2 40.4 0.2 26.4 0.3 10.4 0.4 5.1 0.5 3.8 0.6 2.6 0.8 1.3 0.7-1.3 0.6-2.6 0.6-3.8 0.3-5 0.3-10.4 0.3-26.4 0.2-40.2 0.2-41.4 0.1-46 0.1-39.2 0.1-39.7 0.1-19.6 0.1-9 0.1-4.2 0.1 4.2 0.1 9 0.1 19.6 0.1 39.7 0.1 39.2 0.2 46 0.2 41.4 0.2 40.2 0.2 26.4 0.3 10.4 0.4 5 0.5 3.8 0.6 2.6 0.8 1.3 0.7-1.3 0.6-2.6 0.6-3.8 0.3-5 0.3-10.3 0.3-26.4 0.2-40.1 0.2-41.3 0.1-45.9 0.1-39.1 0.1-39.6 0.1-19.6 0.1-9 0.1-4.1 0.1 4.1 0.1 9 0.1 19.6 0.1 39.6 0.1 39.1 0.2 45.9 0.1 41.3 0.3 40.1 0.2 26.4 0.3 10.3 0.4 5 0.5 3.8 0.6 2.6 0.8 1.3 0.7-1.3 0.6-2.6 0.5-3.8 0.4-5 0.3-10.3 0.3-26.3 0.2-40.1 0.2-41.4 0.1-45.9 0.1-39 0.1-39.6 0.1-19.6 0.1-9 0.1-4.1 0.1 4.1 0.1 9 0.1 19.6 0.1 39.6 0.1 39 0.2 45.9 0.1 41.4 0.2 40.1 0.3 26.3 0.3 10.3 0.4 5 0.5 3.8 0.6 2.6 0.8 1.3 0.7-1.3 0.6-2.6 0.5-3.8 0.4-5 0.3-10.3 0.3-26.3 0.2-40.1 0.1-41.3 0.2-45.8 0.1-39.1 0.1-39.5 0.1-19.6 0.1-8.9 0.1-4.2 0.1 4.2 0.1 8.9 0.1 19.6 0.1 39.5 0.1 39.1 0.2 45.8 0.1 41.3 0.2 40.1 0.3 26.3 0.3 10.3 0.4 5 0.5 3.8 0.6 2.6 0.7 1.3 0.8-1.3 0.6-2.6 0.5-3.8 0.4-5 0.3-10.4 0.3-26.4 0.2-40.2 0.1-41.5 0.2-46.1 0.1-39.2 0.1-39.7 0.1-19.6 0.1-9 0.1-4.2 0.1 4.2 0.1 9 0.1 19.6 0.1 39.7 0.1 39.2 0.2 46.1 0.1 41.5 0.2 40.2 0.3 26.4 0.3 10.4 0.4 5 0.5 3.8 0.6 2.6 0.7 1.3 0.8-1.3 0.6-2.6 0.5-3.7 0.4-5 0.3-10.3 0.3-26.1 0.2-39.9 0.1-41.1 0.2-45.6 0.1-38.8 0.1-39.3 0.1-19.5 0.1-8.9 0.1-4.1 0.1 4.1 0.1 8.9 0.1 19.5 0.1 39.3 0.1 38.8 0.2 45.6 0.1 41.1 0.2 39.9 0.3 26.1 0.3 10.3 0.4 5 0.5 3.7 0.6 2.6 0.7 1.3 0.8-1.3 0.6-2.6 0.5-3.7 0.4-5 0.3-10.4 0.3-26.1 0.2-40 0.1-41.2 0.2-45.7 0.1-38.9 0.1-39.5 0.1-19.5 0.1-8.9 0.1-4.1 0.1 4.1 0.1 8.9 0.1 19.5 0.1 39.5 0.1 38.9 0.1 45.7 0.2 41.2 0.2 40 0.3 26.1 0.3 10.4 0.4 5 0.5 3.7 0.6 2.6 0.7 1.3 0.8-1.3 0.6-2.6 0.5-3.8 0.4-5 0.3-10.3 0.2-26.3 0.3-40.1 0.1-41.3 0.2-45.9 0.1-39.1 0.1-39.6 0.1-19.5 0.1-9 0.1-4.1 0.1 4.1 0.1 9 0.1 19.5 0.1 39.6 0.1 39.1 0.1 45.9 0.2 41.3 0.2 40.1 0.3 26.3 0.3 10.3 0.3 5 0.6 3.8 0.6 2.6 0.2 0.5" fill="none" stroke="#0000ff" stroke-opacity="0.7" stroke-width="1.6"/>
</g>
<path d="M416.5 765.5V750M416.5 27.5V43M674.5 765.5V750M674.5 27.5V43M933.5 765.5V750M933.5 27.5V43M1191.5 765.5V750M1191.5 27.5V43M1450.5 765.5V750M1450.5 27.5V43M158.8 684.5H174.3M1708 684.5H1692.5M158.8 520.5H174.3M1708 520.5H1692.5M158.8 355.5H174.3M1708 355.5H1692.5M158.8 191.5H174.3M1708 191.5H1692.5" stroke="#262626" stroke-width="1.5" fill="none"/>
<rect x="158.8" y="27.5" width="1549.2" height="738" fill="none" stroke="#262626" stroke-width="1.5"/>
<text x="157.5" y="822.5" font-size="43.5" text-anchor="middle" font-weight="normal" font-family='"Liberation Sans", Arial, sans-serif' fill="#262626">0</text>
<text x="416" y="822.5" font-size="43.5" text-anchor="middle" font-weight="normal" font-family='"Liberation Sans", Arial, sans-serif' fill="#262626">0.5</text>
<text x="674.5" y="822.5" font-size="43.5" text-anchor="middle" font-weight="normal" font-family='"Liberation Sans", Arial, sans-serif' fill="#262626">1</text>
<text x="933" y="822.5" font-size="43.5" text-anchor="middle" font-weight="normal" font-family='"Liberation Sans", Arial, sans-serif' fill="#262626">1.5</text>
<text x="1191.5" y="822.5" font-size="43.5" text-anchor="middle" font-weight="normal" font-family='"Liberation Sans", Arial, sans-serif' fill="#262626">2</text>
<text x="1450" y="822.5" font-size="43.5" text-anchor="middle" font-weight="normal" font-family='"Liberation Sans", Arial, sans-serif' fill="#262626">2.5</text>
<text x="1708.5" y="822.5" font-size="43.5" text-anchor="middle" font-weight="normal" font-family='"Liberation Sans", Arial, sans-serif' fill="#262626">3</text>
<text x="145" y="701" font-size="43.5" text-anchor="end" font-weight="normal" font-family='"Liberation Sans", Arial, sans-serif' fill="#262626">0</text>
<text x="145" y="536.9" font-size="43.5" text-anchor="end" font-weight="normal" font-family='"Liberation Sans", Arial, sans-serif' fill="#262626">2</text>
<text x="145" y="372.7" font-size="43.5" text-anchor="end" font-weight="normal" font-family='"Liberation Sans", Arial, sans-serif' fill="#262626">4</text>
<text x="145" y="208.6" font-size="43.5" text-anchor="end" font-weight="normal" font-family='"Liberation Sans", Arial, sans-serif' fill="#262626">6</text>
<text x="145" y="44.4" font-size="43.5" text-anchor="end" font-weight="normal" font-family='"Liberation Sans", Arial, sans-serif' fill="#262626">8</text>
<text x="933" y="882.6" font-size="47.8" text-anchor="middle" font-weight="normal" font-family='"Liberation Sans", Arial, sans-serif' fill="#262626">Time <tspan font-style="italic">(s)</tspan></text>
<text transform="translate(104.4 396.0) rotate(-90)" font-size="47.8" text-anchor="middle" font-family='"Liberation Sans", Arial, sans-serif' fill="#262626" xml:space="preserve">Laser intensity  <tspan font-style="italic">(v)</tspan></text>
<text x="1707" y="889.8" font-size="43.5" text-anchor="end" font-family='"Liberation Sans", Arial, sans-serif' fill="#262626"><tspan font-family='"DejaVu Sans Light","DejaVu Sans",sans-serif' font-weight="200" font-size="40">×</tspan>10<tspan font-size="35" dy="-21">-3</tspan></text>
<rect x="1594.2" y="41.6" width="100.3" height="97.5" fill="#fff" stroke="#262626" stroke-width="1.5"/>
<path d="M1597.8 66.4H1647.8" stroke="#ff0000" stroke-width="2.2" stroke-dasharray="9.5 10"/>
<path d="M1597.8 113.9H1647.8" stroke="#0000ff" stroke-width="1.4"/>
<text transform="translate(1654.2 76) scale(1.22 1)" font-size="37" font-style="italic" font-family='"Liberation Serif", "Times New Roman", serif' fill="#000">x</text>
<text x="1674.2" y="81.5" font-size="28" font-family='"Liberation Serif", "Times New Roman", serif' fill="#000">1</text>
<text transform="translate(1654.2 122.6) scale(1.22 1)" font-size="37" font-style="italic" font-family='"Liberation Serif", "Times New Roman", serif' fill="#000">x</text>
<text x="1674.2" y="128" font-size="28" font-family='"Liberation Serif", "Times New Roman", serif' fill="#000">1</text>
<text transform="translate(1656.8 121.3) scale(1.3 1)" font-size="36" font-family='"Liberation Serif", "Times New Roman", serif' fill="#000">˜</text>
<rect x="638.7" y="90.3" width="498.9" height="234.6" fill="#fff"/>
<path d="M738.5 90.3V324.9M838.5 90.3V324.9M938.5 90.3V324.9M1037.5 90.3V324.9M638.7 284.5H1137.6M638.7 218.5H1137.6M638.7 151.5H1137.6" stroke="#cecece" stroke-width="1.0" fill="none"/>
<path d="M638.7 110.6l0.4 7.5 0.4 11 0.4 12.9 0.5 12.3 0.4 11.9 0.4 12.1 0.4 12.1 0.4 11.6 0.4 10.8 0.5 9.6 0.4 9.1 0.4 8.7 0.4 8.5 0.4 8 0.4 7.6 0.5 7 0.4 6.5 0.4 5.9 0.4 5.3 0.4 5 0.4 4.5 0.5 3.4 0.4 2.2 0.4 2 0.4 1.7 0.4 1.6 0.4 1.4 0.5 1.2 0.4 1 0.4 0.9 0.4 0.8 0.4 0.6 0.4 0.6 0.4 0.6 0.5 0.5 0.4 0.5 0.4 0.4 0.4 0.4 0.4 0.4 0.4 0.4 0.5 0.3 0.4 0.4 0.4 0.3 0.4 0.2 0.4 0.3 0.4 0.3 0.5 0.2 0.4 0.2 0.4 0.2 0.4 0.2 0.4 0.2 0.4 0.2 0.5 0.2 0.4 0.2 0.4 0.2 0.4 0.2 0.4 0.1 0.4 0.2 0.4 0.1 0.5 0.2 0.4 0.1 0.4 0.1 0.4 0.1 0.4 0.2 0.4 0.1 0.5 0.1 0.4 0.1 0.4 0 0.4 0.1 0.4 0.1 0.4 0.1 0.5 0.1 0.4 0 0.4 0.1 0.4 0.1 0.4 0 0.4 0 0.5 0 0.4 0 0.4 0 0.4 0 0.4 0 0.4 0 0.5 0 0.4 0 0.4 0 0.4 0 0.4 0 0.4 0 0.4 0 0.5 0 0.4 0 0.4-0.1 0.4-0.1 0.4 0 0.4-0.1 0.5-0.1 0.4-0.1 0.4-0.1 0.4 0 0.4-0.1 0.4-0.1 0.5-0.1 0.4-0.2 0.4-0.1 0.4-0.1 0.4-0.1 0.4-0.2 0.5-0.1 0.4-0.2 0.4-0.2 0.4-0.1 0.4-0.2 0.4-0.2 0.5-0.2 0.4-0.2 0.4-0.2 0.4-0.2 0.4-0.2 0.4-0.2 0.4-0.3 0.5-0.2 0.4-0.3 0.4-0.3 0.4-0.3 0.4-0.3 0.4-0.3 0.5-0.4 0.4-0.4 0.4-0.4 0.4-0.5 0.4-0.5 0.4-0.5 0.5-0.5 0.4-0.6 0.4-0.7 0.4-0.7 0.4-0.9 0.4-1.1 0.5-1.2 0.4-1.4 0.4-1.5 0.4-1.8 0.4-1.9 0.4-2.3 0.5-3.3 0.4-4.4 0.4-5.1 0.4-5.3 0.4-5.9 0.4-6.5 0.4-7.1 0.5-7.6 0.4-8.1 0.4-8.4 0.4-8.9 0.4-9.2 0.4-9.6 0.5-10.8 0.4-11.6 0.4-12.2 0.4-12.3 0.4-12 0.4-12.4 0.5-13 0.4-11.4 0.4-7.8 0.4-6.3 0.4-4.8 0.4-3.2 0.5-2.6 0.4-1.7 0.4 0 0.4 0.7 0.4 2.3 0.4 2.7 0.4 4 0.5 5.6 0.4 6.8 0.4 9.6 0.4 12.5 0.4 13 0.4 11.9 0.5 12.2 0.4 12.3 0.4 11.9 0.4 11.3 0.4 10.2 0.4 9.3 0.5 9 0.4 8.7 0.4 8.3 0.4 7.9 0.4 7.3 0.4 6.8 0.5 6.2 0.4 5.6 0.4 5.2 0.4 4.8 0.4 3.9 0.4 2.7 0.5 2.1 0.4 1.8 0.4 1.7 0.4 1.4 0.4 1.3 0.4 1.2 0.4 0.9 0.5 0.9 0.4 0.7 0.4 0.6 0.4 0.5 0.4 0.6 0.4 0.5 0.5 0.5 0.4 0.4 0.4 0.4 0.4 0.4 0.4 0.3 0.4 0.4 0.5 0.3 0.4 0.3 0.4 0.3 0.4 0.2 0.4 0.3 0.4 0.2 0.5 0.2 0.4 0.2 0.4 0.2 0.4 0.2 0.4 0.2 0.4 0.2 0.5 0.2 0.4 0.2 0.4 0.1 0.4 0.2 0.4 0.1 0.4 0.2 0.4 0.1 0.5 0.2 0.4 0.1 0.4 0.1 0.4 0.1 0.4 0.1 0.4 0.1 0.5 0.1 0.4 0.1 0.4 0.1 0.4 0 0.4 0.1 0.4 0.1 0.5 0.1 0.4 0.1 0.4 0 0.4 0 0.4 0 0.4 0 0.5 0 0.4 0 0.4 0 0.4 0 0.4 0 0.4 0 0.4 0 0.5 0 0.4 0 0.4 0 0.4 0 0.4 0 0.4 0 0.5-0.1 0.4 0 0.4-0.1 0.4-0.1 0.4-0.1 0.4 0 0.5-0.1 0.4-0.1 0.4-0.1 0.4-0.1 0.4-0.1 0.4-0.1 0.5-0.1 0.4-0.2 0.4-0.1 0.4-0.1 0.4-0.2 0.4-0.1 0.5-0.2 0.4-0.2 0.4-0.1 0.4-0.2 0.4-0.2 0.4-0.2 0.4-0.2 0.5-0.2 0.4-0.2 0.4-0.2 0.4-0.3 0.4-0.2 0.4-0.3 0.5-0.2 0.4-0.3 0.4-0.3 0.4-0.4 0.4-0.3 0.4-0.4 0.5-0.4 0.4-0.5 0.4-0.5 0.4-0.5 0.4-0.5 0.4-0.6 0.5-0.6 0.4-0.7 0.4-0.8 0.4-1 0.4-1.2 0.4-1.3 0.5-1.4 0.4-1.7 0.4-1.9 0.4-2.1 0.4-2.7 0.4-4 0.4-4.9 0.5-5.2 0.4-5.6 0.4-6.3 0.4-6.8 0.4-7.4 0.4-7.9 0.5-8.3 0.4-8.7 0.4-9 0.4-9.4 0.4-10.3 0.4-11.3 0.5-12 0.4-12.3 0.4-12.2 0.4-11.9 0.4-13.1 0.4-12.3 0.5-9.3 0.4-6.8 0.4-5.4 0.4-3.9 0.4-2.7 0.4-2.2 0.4-0.6 0.5 0 0.4 1.9 0.4 2.6 0.4 3.3 0.4 4.9 0.4 6.4 0.5 8 0.4 11.6 0.4 13.1 0.4 12.2 0.4 12.1 0.4 12.3 0.5 12.1 0.4 11.7 0.4 10.7 0.4 9.5 0.4 9.2 0.4 8.8 0.5 8.4 0.4 8.1 0.4 7.6 0.4 7 0.4 6.5 0.4 5.8 0.5 5.3 0.4 5 0.4 4.4 0.4 3.2 0.4 2.2 0.4 1.9 0.4 1.8 0.5 1.5 0.4 1.4 0.4 1.2 0.4 1 0.4 0.9 0.4 0.8 0.5 0.6 0.4 0.6 0.4 0.6 0.4 0.5 0.4 0.5 0.4 0.4 0.5 0.4 0.4 0.4 0.4 0.4 0.4 0.3 0.4 0.4 0.4 0.3 0.5 0.2 0.4 0.3 0.4 0.3 0.4 0.2 0.4 0.2 0.4 0.2 0.5 0.2 0.4 0.2 0.4 0.2 0.4 0.2 0.4 0.2 0.4 0.2 0.4 0.2 0.5 0.1 0.4 0.2 0.4 0.1 0.4 0.2 0.4 0.1 0.4 0.1 0.5 0.1 0.4 0.2 0.4 0.1 0.4 0.1 0.4 0.1 0.4 0 0.5 0.1 0.4 0.1 0.4 0.1 0.4 0.1 0.4 0 0.4 0.1 0.5 0.1 0.4 0 0.4 0 0.4 0 0.4 0 0.4 0 0.5 0 0.4 0 0.4 0 0.4 0 0.4 0 0.4 0 0.4 0 0.5 0 0.4 0 0.4 0 0.4 0 0.4 0 0.4-0.1 0.5-0.1 0.4 0 0.4-0.1 0.4-0.1 0.4-0.1 0.4-0.1 0.5 0 0.4-0.1 0.4-0.1 0.4-0.1 0.4-0.2 0.4-0.1 0.5-0.1 0.4-0.1 0.4-0.2 0.4-0.1 0.4-0.2 0.4-0.1 0.4-0.2 0.5-0.2 0.4-0.2 0.4-0.2 0.4-0.1 0.4-0.2 0.4-0.3 0.5-0.2 0.4-0.2 0.4-0.2 0.4-0.3 0.4-0.2 0.4-0.3 0.5-0.3 0.4-0.3 0.4-0.4 0.4-0.3 0.4-0.4 0.4-0.5 0.5-0.4 0.4-0.5 0.4-0.5 0.4-0.6 0.4-0.6 0.4-0.6 0.5-0.8 0.4-0.9 0.4-1 0.4-1.2 0.4-1.4 0.4-1.6 0.4-1.7 0.5-2 0.4-2.3 0.4-3.5 0.4-4.4 0.4-5.1 0.4-5.3 0.5-5.8 0.4-6.5 0.4-7.1 0.4-7.5 0.4-8 0.4-8.4 0.5-8.8 0.4-9 0.4-9.6 0.4-10.8 0.4-11.5 0.4-12.1 0.5-12 0.4-11.8 0.4-12.3 0.4-12.8 0.4-10.7 0.4-7.3 0.5-5.9 0.4-4.5 0.4-3 0.4-2.4 0.4-1.7 0.4-0.2 0.4 1.5 0.5 2.3 0.4 2.8 0.4 4.2 0.4 5.7 0.4 6.9 0.4 10 0.5 12.5 0.4 12.6 0.4 11.7 0.4 12.1 0.4 12 0.4 11.7 0.5 11 0.4 9.8 0.4 9.1 0.4 8.8 0.4 8.5 0.4 8.1 0.5 7.6 0.4 7.1 0.4 6.6 0.4 6 0.4 5.4 0.4 5.1 0.4 4.6 0.5 3.7 0.4 2.5 0.4 2 0.4 1.8 0.4 1.6 0.4 1.4 0.5 1.2 0.4 1.1 0.4 1 0.4 0.8 0.4 0.6 0.4 0.6 0.5 0.6 0.4 0.5 0.4 0.5 0.4 0.5 0.4 0.4 0.4 0.4 0.5 0.3 0.4 0.4 0.4 0.3 0.4 0.3 0.4 0.3 0.4 0.3 0.5 0.2 0.4 0.3 0.4 0.2 0.4 0.2 0.4 0.2 0.4 0.2 0.4 0.2 0.5 0.2 0.4 0.2 0.4 0.2 0.4 0.1 0.4 0.2 0.4 0.1 0.5 0.2 0.4 0.1 0.4 0.2 0.4 0.1 0.4 0.1 0.4 0.1 0.5 0.1 0.4 0.1 0.4 0.1 0.4 0.1 0.4 0.1 0.4 0.1 0.5 0.1 0.4 0 0.4 0.1 0.4 0.1 0.4 0.1 0.4 0 0.5 0 0.4 0 0.4 0 0.4 0 0.4 0 0.4 0 0.4 0 0.5 0 0.4 0 0.4 0 0.4 0 0.4 0 0.4 0 0.5 0 0.4 0 0.4 0 0.4-0.1 0.4 0 0.4-0.1 0.5-0.1 0.4-0.1 0.4-0.1 0.4 0 0.4-0.1 0.4-0.1 0.5-0.1 0.4-0.1 0.4-0.1 0.4-0.1 0.4-0.2 0.4-0.1 0.5-0.1 0.4-0.2 0.4-0.1 0.4-0.2 0.4-0.2 0.4-0.1 0.4-0.2 0.5-0.2 0.4-0.2 0.4-0.2 0.4-0.2 0.4-0.2 0.4-0.2 0.5-0.3 0.4-0.2 0.4-0.3 0.4-0.2 0.4-0.3 0.4-0.4 0.5-0.3 0.4-0.3 0.4-0.4 0.4-0.4 0.4-0.5 0.4-0.5 0.5-0.5 0.4-0.5 0.4-0.6 0.4-0.6 0.4-0.7 0.4-0.9 0.4-1 0.5-1.1 0.4-1.4 0.4-1.5 0.4-1.6 0.4-1.9 0.4-2.1 0.5-3 0.4-4.1 0.4-4.9 0.4-5.2 0.4-5.7 0.4-6.3 0.5-6.8 0.4-7.4 0.4-7.9 0.4-8.4 0.4-8.6 0.4-9.1 0.5-9.3 0.4-10.4 0.4-11.4 0.4-11.9 0.4-12.2 0.4-12.1 0.5-12 0.4-12.9 0.4-12 0.4-8.6 0.4-6.5 0.4-5.2 0.4-3.6 0.5-2.7 0.4-2 0.4-1 0.4 0.9 0.4 2 0.4 2.7 0.5 3.5 0.4 5.1 0.4 6.5 0.4 8.5 0.4 11.8 0.4 13 0.5 12 0.4 12 0.4 12.2 0.4 12 0.4 11.4 0.4 10.5 0.5 9.4 0.4 9 0.4 8.7 0.4 8.3 0.4 7.9 0.4 7.5 0.5 6.8 0.4 6.4 0.4 5.6 0.4 5.3 0.4 4.9 0.4 4.2 0.4 3 0.5 2.1 0.4 1.9 0.4 1.7 0.4 1.5 0.4 1.3 0.4 1.2 0.5 1 0.4 0.8 0.4 0.8 0.4 0.6 0.4 0.6 0.4 0.5 0.5 0.5 0.4 0.5 0.4 0.4 0.4 0.5 0.4 0.3 0.4 0.4 0.5 0.3 0.4 0.3 0.4 0.3 0.4 0.3 0.4 0.3 0.4 0.2 0.4 0.3 0.5 0.2 0.4 0.2 0.4 0.2 0.4 0.2 0.4 0.2 0.4 0.2 0.5 0.2 0.4 0.1 0.4 0.2 0.4 0.2 0.4 0.1 0.4 0.2 0.5 0.1 0.4 0.1 0.4 0.2 0.4 0.1 0.4 0.1 0.4 0.1 0.5 0.1 0.4 0.1 0.4 0.1 0.4 0 0.4 0.1 0.4 0.1 0.5 0.1 0.4 0.1 0.4 0 0.4 0.1 0.4 0 0.4 0 0.4 0 0.5 0 0.4 0 0.4 0 0.4 0 0.4 0 0.4 0 0.5 0 0.4 0 0.4 0 0.4 0 0.4 0 0.4 0 0.5 0 0.4 0 0.4-0.1 0.4-0.1 0.4-0.1 0.4 0 0.5-0.1 0.4-0.1 0.4-0.1 0.4-0.1 0.4-0.1 0.4-0.1 0.5-0.1 0.4-0.1 0.4-0.1 0.4-0.2 0.4-0.1 0.4-0.1 0.4-0.2 0.5-0.1 0.4-0.2 0.4-0.2 0.4-0.2 0.4-0.1 0.4-0.2 0.5-0.2 0.4-0.2 0.4-0.3 0.4-0.2 0.4-0.2 0.4-0.2 0.5-0.3 0.4-0.3 0.4-0.3 0.4-0.3 0.4-0.3 0.4-0.3 0.5-0.4 0.4-0.4 0.4-0.5 0.4-0.4 0.4-0.5 0.4-0.5 0.5-0.6 0.4-0.6 0.4-0.7 0.4-0.8 0.4-0.9 0.4-1.1 0.4-1.3 0.5-1.4 0.4-1.7 0.4-1.8 0.4-2 0.4-2.5 0.4-3.7 0.5-4.6 0.4-5.2 0.4-5.5 0.4-6 0.4-6.7 0.4-7.3 0.5-7.7 0.4-8.2 0.4-8.6 0.4-9 0.4-9.2 0.4-10 0.5-11.1 0.4-11.8 0.4-12.3 0.4-12.2 0.4-11.9 0.4-12.8 0.4-12.8 0.5-10.4 0.4-7.1 0.4-5.8 0.4-4.3 0.4-2.9 0.4-2.4 0.5-1.1 0.4 0 0.4 1.3 0.4 2.5 0.4 3 0.4 4.5 0.5 6 0.4 7.3 0.4 10.7 0.4 12.9 0.4 12.7 0.4 11.9 0.5 12.3 0.4 12.2 0.4 11.8 0.4 11 0.4 9.8 0.4 9.2 0.5 8.9 0.4 8.6 0.4 8.2 0.4 7.7 0.4 7.2 0.4 6.6 0.4 6 0.5 5.4 0.4 5.1 0.4 4.6 0.4 3.6 0.4 2.3 0.4 2 0.5 1.8 0.4 1.6 0.4 1.5 0.4 1.2 0.4 1.1 0.4 0.9 0.5 0.8 0.4 0.6 0.4 0.6 0.4 0.6 0.4 0.5 0.4 0.5 0.5 0.5 0.4 0.4 0.4 0.4 0.4 0.4 0.4 0.3 0.4 0.4 0.5 0.3 0.4 0.3 0.4 0.2 0.4 0.3 0.4 0.2 0.4 0.3 0.4 0.2 0.5 0.2 0.4 0.2 0.4 0.2 0.4 0.2 0.4 0.2 0.4 0.1 0.5 0.2 0.4 0.2 0.4 0.1 0.4 0.2 0.4 0.1 0.4 0.2 0.5 0.1 0.4 0.1 0.4 0.1 0.4 0.1 0.4 0.1 0.4 0.1 0.5 0.1 0.4 0.1 0.4 0.1 0.4 0.1 0.4 0 0.4 0.1 0.4 0.1 0.5 0.1 0.4 0 0.4 0 0.4 0 0.4 0 0.4 0 0.5 0 0.4 0 0.4 0 0.4 0 0.4 0 0.4 0 0.5 0 0.4 0 0.4 0 0.4 0 0.4 0 0.4 0 0.5-0.1 0.4-0.1 0.4 0 0.4-0.1 0.4-0.1 0.4-0.1 0.5-0.1 0.4 0 0.4-0.1 0.4-0.1 0.4-0.1 0.4-0.2 0.4-0.1 0.5-0.1 0.4-0.1 0.4-0.2 0.4-0.1 0.4-0.2 0.4-0.1 0.5-0.2 0.4-0.2 0.4-0.2 0.4-0.2 0.4-0.2 0.4-0.2 0.5-0.2 0.4-0.2 0.4-0.2 0.4-0.2 0.4-0.3 0.4-0.2 0.5-0.3 0.4-0.3 0.4-0.3 0.4-0.4 0.4-0.4 0.4-0.3 0.5-0.5 0.4-0.4 0.4-0.5 0.4-0.5 0.4-0.6 0.4-0.6 0.4-0.6 0.5-0.7 0.4-0.9 0.4-1 0.4-1.2 0.4-1.4 0.4-1.5 0.5-1.8 0.4-1.9 0.4-2.2 0.4-3.2 0.4-4.2 0.4-5.1 0.5-5.3 0.4-5.8 0.4-6.4 0.4-7 0.4-7.6 0.4-8 0.5-8.4 0.4-8.9 0.4-9.1 0.4-9.5 0.4-10.7 0.4-11.5 0.4-12.2 0.5-12.3 0.4-12 0.4-12.3 0.4-13.1 0.4-11.6 0.4-8.2 0.5-6.4 0.4-5 0.4-3.4 0.4-2.6 0.4-1.9 0.4-0.1 0.5 0.5 0.4 2.2 0.4 2.7 0.4 3.8 0.4 5.4 0.4 6.6 0.5 9.2 0.4 12.3 0.4 13 0.4 12 0.4 12.2 0.4 12.3 0.5 12 0.4 11.4 0.4 10.3 0.4 9.4 0.4 9 0.4 8.7 0.4 8.4 0.5 7.9 0.4 7.4 0.4 6.8 0.4 6.3 0.4 5.6 0.4 5.3 0.5 4.9 0.4 4 0.4 2.8 0.4 2.1 0.4 1.9 0.4 1.7 0.5 1.5 0.4 1.3 0.4 1.1 0.4 1 0.4 0.9 0.4 0.7 0.5 0.6 0.4 0.6 0.4 0.5 0.4 0.5 0.4 0.5 0.4 0.4 0.5 0.5 0.4 0.3 0.4 0.4 0.4 0.3 0.4 0.4 0.4 0.2 0.4 0.3 0.5 0.3 0.4 0.2 0.4 0.3 0.4 0.2 0.4 0.2 0.4 0.2 0.5 0.2 0.4 0.2 0.4 0.2 0.4 0.2 0.4 0.1 0.4 0.2 0.5 0.2 0.4 0.1 0.4 0.2 0.4 0.1 0.4 0.1 0.4 0.2 0.5 0.1 0.4 0.1 0.4 0.1 0.4 0.1 0.4 0.1 0.4 0.1 0.5 0.1 0.4 0 0.4 0.1 0.4 0.1 0.4 0.1 0.4 0 0.4 0.1 0.5 0 0.4 0 0.4 0 0.4 0 0.4 0 0.4 0 0.5 0 0.4 0 0.4 0 0.4 0 0.4 0 0.4 0 0.5 0 0.4 0 0.4 0 0.4 0 0.4 0 0.4-0.1 0.5-0.1 0.4-0.1 0.4 0 0.4-0.1 0.4-0.1 0.4-0.1 0.4-0.1 0.5-0.1 0.4-0.1 0.4-0.1 0.4-0.1 0.4-0.1 0.4-0.2 0.5-0.1 0.4-0.1 0.4-0.2 0.4-0.1 0.4-0.2 0.4-0.2 0.5-0.2 0.4-0.1 0.4-0.2 0.4-0.2 0.4-0.2 0.4-0.2 0.5-0.3 0.4-0.2 0.4-0.2 0.4-0.3 0.4-0.3 0.4-0.2 0.5-0.3 0.4-0.4 0.4-0.3 0.4-0.4" fill="none" stroke="#ff0000" stroke-width="2.2" stroke-dasharray="8 6"/>
<path d="M638.7 110.6l0.4 7.5 0.4 11 0.4 12.9 0.5 12.3 0.4 11.9 0.4 12.1 0.4 12.1 0.4 11.6 0.4 10.8 0.5 9.6 0.4 9.1 0.4 8.7 0.4 8.5 0.4 8 0.4 7.6 0.5 7 0.4 6.5 0.4 5.9 0.4 5.3 0.4 5 0.4 4.5 0.5 3.4 0.4 2.2 0.4 2 0.4 1.7 0.4 1.6 0.4 1.4 0.5 1.2 0.4 1 0.4 0.9 0.4 0.8 0.4 0.6 0.4 0.6 0.4 0.6 0.5 0.5 0.4 0.5 0.4 0.4 0.4 0.4 0.4 0.4 0.4 0.4 0.5 0.3 0.4 0.4 0.4 0.3 0.4 0.2 0.4 0.3 0.4 0.3 0.5 0.2 0.4 0.2 0.4 0.2 0.4 0.2 0.4 0.2 0.4 0.2 0.5 0.2 0.4 0.2 0.4 0.2 0.4 0.2 0.4 0.1 0.4 0.2 0.4 0.1 0.5 0.2 0.4 0.1 0.4 0.1 0.4 0.1 0.4 0.2 0.4 0.1 0.5 0.1 0.4 0.1 0.4 0 0.4 0.1 0.4 0.1 0.4 0.1 0.5 0.1 0.4 0 0.4 0.1 0.4 0.1 0.4 0 0.4 0 0.5 0 0.4 0 0.4 0 0.4 0 0.4 0 0.4 0 0.5 0 0.4 0 0.4 0 0.4 0 0.4 0 0.4 0 0.4 0 0.5 0 0.4 0 0.4-0.1 0.4-0.1 0.4 0 0.4-0.1 0.5-0.1 0.4-0.1 0.4-0.1 0.4 0 0.4-0.1 0.4-0.1 0.5-0.1 0.4-0.2 0.4-0.1 0.4-0.1 0.4-0.1 0.4-0.2 0.5-0.1 0.4-0.2 0.4-0.2 0.4-0.1 0.4-0.2 0.4-0.2 0.5-0.2 0.4-0.2 0.4-0.2 0.4-0.2 0.4-0.2 0.4-0.2 0.4-0.3 0.5-0.2 0.4-0.3 0.4-0.3 0.4-0.3 0.4-0.3 0.4-0.3 0.5-0.4 0.4-0.4 0.4-0.4 0.4-0.5 0.4-0.5 0.4-0.5 0.5-0.5 0.4-0.6 0.4-0.7 0.4-0.7 0.4-0.9 0.4-1.1 0.5-1.2 0.4-1.4 0.4-1.5 0.4-1.8 0.4-1.9 0.4-2.3 0.5-3.3 0.4-4.4 0.4-5.1 0.4-5.3 0.4-5.9 0.4-6.5 0.4-7.1 0.5-7.6 0.4-8.1 0.4-8.4 0.4-8.9 0.4-9.2 0.4-9.6 0.5-10.8 0.4-11.6 0.4-12.2 0.4-12.3 0.4-12 0.4-12.4 0.5-13 0.4-11.4 0.4-7.8 0.4-6.3 0.4-4.8 0.4-3.2 0.5-2.6 0.4-1.7 0.4 0 0.4 0.7 0.4 2.3 0.4 2.7 0.4 4 0.5 5.6 0.4 6.8 0.4 9.6 0.4 12.5 0.4 13 0.4 11.9 0.5 12.2 0.4 12.3 0.4 11.9 0.4 11.3 0.4 10.2 0.4 9.3 0.5 9 0.4 8.7 0.4 8.3 0.4 7.9 0.4 7.3 0.4 6.8 0.5 6.2 0.4 5.6 0.4 5.2 0.4 4.8 0.4 3.9 0.4 2.7 0.5 2.1 0.4 1.8 0.4 1.7 0.4 1.4 0.4 1.3 0.4 1.2 0.4 0.9 0.5 0.9 0.4 0.7 0.4 0.6 0.4 0.5 0.4 0.6 0.4 0.5 0.5 0.5 0.4 0.4 0.4 0.4 0.4 0.4 0.4 0.3 0.4 0.4 0.5 0.3 0.4 0.3 0.4 0.3 0.4 0.2 0.4 0.3 0.4 0.2 0.5 0.2 0.4 0.2 0.4 0.2 0.4 0.2 0.4 0.2 0.4 0.2 0.5 0.2 0.4 0.2 0.4 0.1 0.4 0.2 0.4 0.1 0.4 0.2 0.4 0.1 0.5 0.2 0.4 0.1 0.4 0.1 0.4 0.1 0.4 0.1 0.4 0.1 0.5 0.1 0.4 0.1 0.4 0.1 0.4 0 0.4 0.1 0.4 0.1 0.5 0.1 0.4 0.1 0.4 0 0.4 0 0.4 0 0.4 0 0.5 0 0.4 0 0.4 0 0.4 0 0.4 0 0.4 0 0.4 0 0.5 0 0.4 0 0.4 0 0.4 0 0.4 0 0.4 0 0.5-0.1 0.4 0 0.4-0.1 0.4-0.1 0.4-0.1 0.4 0 0.5-0.1 0.4-0.1 0.4-0.1 0.4-0.1 0.4-0.1 0.4-0.1 0.5-0.1 0.4-0.2 0.4-0.1 0.4-0.1 0.4-0.2 0.4-0.1 0.5-0.2 0.4-0.2 0.4-0.1 0.4-0.2 0.4-0.2 0.4-0.2 0.4-0.2 0.5-0.2 0.4-0.2 0.4-0.2 0.4-0.3 0.4-0.2 0.4-0.3 0.5-0.2 0.4-0.3 0.4-0.3 0.4-0.4 0.4-0.3 0.4-0.4 0.5-0.4 0.4-0.5 0.4-0.5 0.4-0.5 0.4-0.5 0.4-0.6 0.5-0.6 0.4-0.7 0.4-0.8 0.4-1 0.4-1.2 0.4-1.3 0.5-1.4 0.4-1.7 0.4-1.9 0.4-2.1 0.4-2.7 0.4-4 0.4-4.9 0.5-5.2 0.4-5.6 0.4-6.3 0.4-6.8 0.4-7.4 0.4-7.9 0.5-8.3 0.4-8.7 0.4-9 0.4-9.4 0.4-10.3 0.4-11.3 0.5-12 0.4-12.3 0.4-12.2 0.4-11.9 0.4-13.1 0.4-12.3 0.5-9.3 0.4-6.8 0.4-5.4 0.4-3.9 0.4-2.7 0.4-2.2 0.4-0.6 0.5 0 0.4 1.9 0.4 2.6 0.4 3.3 0.4 4.9 0.4 6.4 0.5 8 0.4 11.6 0.4 13.1 0.4 12.2 0.4 12.1 0.4 12.3 0.5 12.1 0.4 11.7 0.4 10.7 0.4 9.5 0.4 9.2 0.4 8.8 0.5 8.4 0.4 8.1 0.4 7.6 0.4 7 0.4 6.5 0.4 5.8 0.5 5.3 0.4 5 0.4 4.4 0.4 3.2 0.4 2.2 0.4 1.9 0.4 1.8 0.5 1.5 0.4 1.4 0.4 1.2 0.4 1 0.4 0.9 0.4 0.8 0.5 0.6 0.4 0.6 0.4 0.6 0.4 0.5 0.4 0.5 0.4 0.4 0.5 0.4 0.4 0.4 0.4 0.4 0.4 0.3 0.4 0.4 0.4 0.3 0.5 0.2 0.4 0.3 0.4 0.3 0.4 0.2 0.4 0.2 0.4 0.2 0.5 0.2 0.4 0.2 0.4 0.2 0.4 0.2 0.4 0.2 0.4 0.2 0.4 0.2 0.5 0.1 0.4 0.2 0.4 0.1 0.4 0.2 0.4 0.1 0.4 0.1 0.5 0.1 0.4 0.2 0.4 0.1 0.4 0.1 0.4 0.1 0.4 0 0.5 0.1 0.4 0.1 0.4 0.1 0.4 0.1 0.4 0 0.4 0.1 0.5 0.1 0.4 0 0.4 0 0.4 0 0.4 0 0.4 0 0.5 0 0.4 0 0.4 0 0.4 0 0.4 0 0.4 0 0.4 0 0.5 0 0.4 0 0.4 0 0.4 0 0.4 0 0.4-0.1 0.5-0.1 0.4 0 0.4-0.1 0.4-0.1 0.4-0.1 0.4-0.1 0.5 0 0.4-0.1 0.4-0.1 0.4-0.1 0.4-0.2 0.4-0.1 0.5-0.1 0.4-0.1 0.4-0.2 0.4-0.1 0.4-0.2 0.4-0.1 0.4-0.2 0.5-0.2 0.4-0.2 0.4-0.2 0.4-0.1 0.4-0.2 0.4-0.3 0.5-0.2 0.4-0.2 0.4-0.2 0.4-0.3 0.4-0.2 0.4-0.3 0.5-0.3 0.4-0.3 0.4-0.4 0.4-0.3 0.4-0.4 0.4-0.5 0.5-0.4 0.4-0.5 0.4-0.5 0.4-0.6 0.4-0.6 0.4-0.6 0.5-0.8 0.4-0.9 0.4-1 0.4-1.2 0.4-1.4 0.4-1.6 0.4-1.7 0.5-2 0.4-2.3 0.4-3.5 0.4-4.4 0.4-5.1 0.4-5.3 0.5-5.8 0.4-6.5 0.4-7.1 0.4-7.5 0.4-8 0.4-8.4 0.5-8.8 0.4-9 0.4-9.6 0.4-10.8 0.4-11.5 0.4-12.1 0.5-12 0.4-11.8 0.4-12.3 0.4-12.8 0.4-10.7 0.4-7.3 0.5-5.9 0.4-4.5 0.4-3 0.4-2.4 0.4-1.7 0.4-0.2 0.4 1.5 0.5 2.3 0.4 2.8 0.4 4.2 0.4 5.7 0.4 6.9 0.4 10 0.5 12.5 0.4 12.6 0.4 11.7 0.4 12.1 0.4 12 0.4 11.7 0.5 11 0.4 9.8 0.4 9.1 0.4 8.8 0.4 8.5 0.4 8.1 0.5 7.6 0.4 7.1 0.4 6.6 0.4 6 0.4 5.4 0.4 5.1 0.4 4.6 0.5 3.7 0.4 2.5 0.4 2 0.4 1.8 0.4 1.6 0.4 1.4 0.5 1.2 0.4 1.1 0.4 1 0.4 0.8 0.4 0.6 0.4 0.6 0.5 0.6 0.4 0.5 0.4 0.5 0.4 0.5 0.4 0.4 0.4 0.4 0.5 0.3 0.4 0.4 0.4 0.3 0.4 0.3 0.4 0.3 0.4 0.3 0.5 0.2 0.4 0.3 0.4 0.2 0.4 0.2 0.4 0.2 0.4 0.2 0.4 0.2 0.5 0.2 0.4 0.2 0.4 0.2 0.4 0.1 0.4 0.2 0.4 0.1 0.5 0.2 0.4 0.1 0.4 0.2 0.4 0.1 0.4 0.1 0.4 0.1 0.5 0.1 0.4 0.1 0.4 0.1 0.4 0.1 0.4 0.1 0.4 0.1 0.5 0.1 0.4 0 0.4 0.1 0.4 0.1 0.4 0.1 0.4 0 0.5 0 0.4 0 0.4 0 0.4 0 0.4 0 0.4 0 0.4 0 0.5 0 0.4 0 0.4 0 0.4 0 0.4 0 0.4 0 0.5 0 0.4 0 0.4 0 0.4-0.1 0.4 0 0.4-0.1 0.5-0.1 0.4-0.1 0.4-0.1 0.4 0 0.4-0.1 0.4-0.1 0.5-0.1 0.4-0.1 0.4-0.1 0.4-0.1 0.4-0.2 0.4-0.1 0.5-0.1 0.4-0.2 0.4-0.1 0.4-0.2 0.4-0.2 0.4-0.1 0.4-0.2 0.5-0.2 0.4-0.2 0.4-0.2 0.4-0.2 0.4-0.2 0.4-0.2 0.5-0.3 0.4-0.2 0.4-0.3 0.4-0.2 0.4-0.3 0.4-0.4 0.5-0.3 0.4-0.3 0.4-0.4 0.4-0.4 0.4-0.5 0.4-0.5 0.5-0.5 0.4-0.5 0.4-0.6 0.4-0.6 0.4-0.7 0.4-0.9 0.4-1 0.5-1.1 0.4-1.4 0.4-1.5 0.4-1.6 0.4-1.9 0.4-2.1 0.5-3 0.4-4.1 0.4-4.9 0.4-5.2 0.4-5.7 0.4-6.3 0.5-6.8 0.4-7.4 0.4-7.9 0.4-8.4 0.4-8.6 0.4-9.1 0.5-9.3 0.4-10.4 0.4-11.4 0.4-11.9 0.4-12.2 0.4-12.1 0.5-12 0.4-12.9 0.4-12 0.4-8.6 0.4-6.5 0.4-5.2 0.4-3.6 0.5-2.7 0.4-2 0.4-1 0.4 0.9 0.4 2 0.4 2.7 0.5 3.5 0.4 5.1 0.4 6.5 0.4 8.5 0.4 11.8 0.4 13 0.5 12 0.4 12 0.4 12.2 0.4 12 0.4 11.4 0.4 10.5 0.5 9.4 0.4 9 0.4 8.7 0.4 8.3 0.4 7.9 0.4 7.5 0.5 6.8 0.4 6.4 0.4 5.6 0.4 5.3 0.4 4.9 0.4 4.2 0.4 3 0.5 2.1 0.4 1.9 0.4 1.7 0.4 1.5 0.4 1.3 0.4 1.2 0.5 1 0.4 0.8 0.4 0.8 0.4 0.6 0.4 0.6 0.4 0.5 0.5 0.5 0.4 0.5 0.4 0.4 0.4 0.5 0.4 0.3 0.4 0.4 0.5 0.3 0.4 0.3 0.4 0.3 0.4 0.3 0.4 0.3 0.4 0.2 0.4 0.3 0.5 0.2 0.4 0.2 0.4 0.2 0.4 0.2 0.4 0.2 0.4 0.2 0.5 0.2 0.4 0.1 0.4 0.2 0.4 0.2 0.4 0.1 0.4 0.2 0.5 0.1 0.4 0.1 0.4 0.2 0.4 0.1 0.4 0.1 0.4 0.1 0.5 0.1 0.4 0.1 0.4 0.1 0.4 0 0.4 0.1 0.4 0.1 0.5 0.1 0.4 0.1 0.4 0 0.4 0.1 0.4 0 0.4 0 0.4 0 0.5 0 0.4 0 0.4 0 0.4 0 0.4 0 0.4 0 0.5 0 0.4 0 0.4 0 0.4 0 0.4 0 0.4 0 0.5 0 0.4 0 0.4-0.1 0.4-0.1 0.4-0.1 0.4 0 0.5-0.1 0.4-0.1 0.4-0.1 0.4-0.1 0.4-0.1 0.4-0.1 0.5-0.1 0.4-0.1 0.4-0.1 0.4-0.2 0.4-0.1 0.4-0.1 0.4-0.2 0.5-0.1 0.4-0.2 0.4-0.2 0.4-0.2 0.4-0.1 0.4-0.2 0.5-0.2 0.4-0.2 0.4-0.3 0.4-0.2 0.4-0.2 0.4-0.2 0.5-0.3 0.4-0.3 0.4-0.3 0.4-0.3 0.4-0.3 0.4-0.3 0.5-0.4 0.4-0.4 0.4-0.5 0.4-0.4 0.4-0.5 0.4-0.5 0.5-0.6 0.4-0.6 0.4-0.7 0.4-0.8 0.4-0.9 0.4-1.1 0.4-1.3 0.5-1.4 0.4-1.7 0.4-1.8 0.4-2 0.4-2.5 0.4-3.7 0.5-4.6 0.4-5.2 0.4-5.5 0.4-6 0.4-6.7 0.4-7.3 0.5-7.7 0.4-8.2 0.4-8.6 0.4-9 0.4-9.2 0.4-10 0.5-11.1 0.4-11.8 0.4-12.3 0.4-12.2 0.4-11.9 0.4-12.8 0.4-12.8 0.5-10.4 0.4-7.1 0.4-5.8 0.4-4.3 0.4-2.9 0.4-2.4 0.5-1.1 0.4 0 0.4 1.3 0.4 2.5 0.4 3 0.4 4.5 0.5 6 0.4 7.3 0.4 10.7 0.4 12.9 0.4 12.7 0.4 11.9 0.5 12.3 0.4 12.2 0.4 11.8 0.4 11 0.4 9.8 0.4 9.2 0.5 8.9 0.4 8.6 0.4 8.2 0.4 7.7 0.4 7.2 0.4 6.6 0.4 6 0.5 5.4 0.4 5.1 0.4 4.6 0.4 3.6 0.4 2.3 0.4 2 0.5 1.8 0.4 1.6 0.4 1.5 0.4 1.2 0.4 1.1 0.4 0.9 0.5 0.8 0.4 0.6 0.4 0.6 0.4 0.6 0.4 0.5 0.4 0.5 0.5 0.5 0.4 0.4 0.4 0.4 0.4 0.4 0.4 0.3 0.4 0.4 0.5 0.3 0.4 0.3 0.4 0.2 0.4 0.3 0.4 0.2 0.4 0.3 0.4 0.2 0.5 0.2 0.4 0.2 0.4 0.2 0.4 0.2 0.4 0.2 0.4 0.1 0.5 0.2 0.4 0.2 0.4 0.1 0.4 0.2 0.4 0.1 0.4 0.2 0.5 0.1 0.4 0.1 0.4 0.1 0.4 0.1 0.4 0.1 0.4 0.1 0.5 0.1 0.4 0.1 0.4 0.1 0.4 0.1 0.4 0 0.4 0.1 0.4 0.1 0.5 0.1 0.4 0 0.4 0 0.4 0 0.4 0 0.4 0 0.5 0 0.4 0 0.4 0 0.4 0 0.4 0 0.4 0 0.5 0 0.4 0 0.4 0 0.4 0 0.4 0 0.4 0 0.5-0.1 0.4-0.1 0.4 0 0.4-0.1 0.4-0.1 0.4-0.1 0.5-0.1 0.4 0 0.4-0.1 0.4-0.1 0.4-0.1 0.4-0.2 0.4-0.1 0.5-0.1 0.4-0.1 0.4-0.2 0.4-0.1 0.4-0.2 0.4-0.1 0.5-0.2 0.4-0.2 0.4-0.2 0.4-0.2 0.4-0.2 0.4-0.2 0.5-0.2 0.4-0.2 0.4-0.2 0.4-0.2 0.4-0.3 0.4-0.2 0.5-0.3 0.4-0.3 0.4-0.3 0.4-0.4 0.4-0.4 0.4-0.3 0.5-0.5 0.4-0.4 0.4-0.5 0.4-0.5 0.4-0.6 0.4-0.6 0.4-0.6 0.5-0.7 0.4-0.9 0.4-1 0.4-1.2 0.4-1.4 0.4-1.5 0.5-1.8 0.4-1.9 0.4-2.2 0.4-3.2 0.4-4.2 0.4-5.1 0.5-5.3 0.4-5.8 0.4-6.4 0.4-7 0.4-7.6 0.4-8 0.5-8.4 0.4-8.9 0.4-9.1 0.4-9.5 0.4-10.7 0.4-11.5 0.4-12.2 0.5-12.3 0.4-12 0.4-12.3 0.4-13.1 0.4-11.6 0.4-8.2 0.5-6.4 0.4-5 0.4-3.4 0.4-2.6 0.4-1.9 0.4-0.1 0.5 0.5 0.4 2.2 0.4 2.7 0.4 3.8 0.4 5.4 0.4 6.6 0.5 9.2 0.4 12.3 0.4 13 0.4 12 0.4 12.2 0.4 12.3 0.5 12 0.4 11.4 0.4 10.3 0.4 9.4 0.4 9 0.4 8.7 0.4 8.4 0.5 7.9 0.4 7.4 0.4 6.8 0.4 6.3 0.4 5.6 0.4 5.3 0.5 4.9 0.4 4 0.4 2.8 0.4 2.1 0.4 1.9 0.4 1.7 0.5 1.5 0.4 1.3 0.4 1.1 0.4 1 0.4 0.9 0.4 0.7 0.5 0.6 0.4 0.6 0.4 0.5 0.4 0.5 0.4 0.5 0.4 0.4 0.5 0.5 0.4 0.3 0.4 0.4 0.4 0.3 0.4 0.4 0.4 0.2 0.4 0.3 0.5 0.3 0.4 0.2 0.4 0.3 0.4 0.2 0.4 0.2 0.4 0.2 0.5 0.2 0.4 0.2 0.4 0.2 0.4 0.2 0.4 0.1 0.4 0.2 0.5 0.2 0.4 0.1 0.4 0.2 0.4 0.1 0.4 0.1 0.4 0.2 0.5 0.1 0.4 0.1 0.4 0.1 0.4 0.1 0.4 0.1 0.4 0.1 0.5 0.1 0.4 0 0.4 0.1 0.4 0.1 0.4 0.1 0.4 0 0.4 0.1 0.5 0 0.4 0 0.4 0 0.4 0 0.4 0 0.4 0 0.5 0 0.4 0 0.4 0 0.4 0 0.4 0 0.4 0 0.5 0 0.4 0 0.4 0 0.4 0 0.4 0 0.4-0.1 0.5-0.1 0.4-0.1 0.4 0 0.4-0.1 0.4-0.1 0.4-0.1 0.4-0.1 0.5-0.1 0.4-0.1 0.4-0.1 0.4-0.1 0.4-0.1 0.4-0.2 0.5-0.1 0.4-0.1 0.4-0.2 0.4-0.1 0.4-0.2 0.4-0.2 0.5-0.2 0.4-0.1 0.4-0.2 0.4-0.2 0.4-0.2 0.4-0.2 0.5-0.3 0.4-0.2 0.4-0.2 0.4-0.3 0.4-0.3 0.4-0.2 0.5-0.3 0.4-0.4 0.4-0.3 0.4-0.4" fill="none" stroke="#0000ff" stroke-opacity="0.7" stroke-width="1.4"/>
<path d="M738.5 324.9V319.9M738.5 90.3V95.3M838.5 324.9V319.9M838.5 90.3V95.3M938.5 324.9V319.9M938.5 90.3V95.3M1037.5 324.9V319.9M1037.5 90.3V95.3M638.7 284.5H643.7M1137.6 284.5H1132.6M638.7 218.5H643.7M1137.6 218.5H1132.6M638.7 151.5H643.7M1137.6 151.5H1132.6" stroke="#262626" stroke-width="1.4" fill="none"/>
<rect x="638.7" y="90.3" width="498.9" height="234.6" fill="none" stroke="#262626" stroke-width="1.4"/>
<text x="738.5" y="377.6" font-size="40.2" text-anchor="middle" font-weight="normal" font-family='"Liberation Sans", Arial, sans-serif' fill="#262626">1.02</text>
<text x="838.3" y="377.6" font-size="40.2" text-anchor="middle" font-weight="normal" font-family='"Liberation Sans", Arial, sans-serif' fill="#262626">1.04</text>
<text x="938" y="377.6" font-size="40.2" text-anchor="middle" font-weight="normal" font-family='"Liberation Sans", Arial, sans-serif' fill="#262626">1.06</text>
<text x="1037.8" y="377.6" font-size="40.2" text-anchor="middle" font-weight="normal" font-family='"Liberation Sans", Arial, sans-serif' fill="#262626">1.08</text>
<text x="627" y="300.9" font-size="40.2" text-anchor="end" font-weight="normal" font-family='"Liberation Sans", Arial, sans-serif' fill="#262626">0</text>
<text x="627" y="234.3" font-size="40.2" text-anchor="end" font-weight="normal" font-family='"Liberation Sans", Arial, sans-serif' fill="#262626">1</text>
<text x="627" y="167.6" font-size="40.2" text-anchor="end" font-weight="normal" font-family='"Liberation Sans", Arial, sans-serif' fill="#262626">2</text>
<text x="888.2" y="434.4" font-size="44.0" text-anchor="middle" font-weight="normal" font-family='"Liberation Sans", Arial, sans-serif' fill="#262626">Time <tspan font-style="italic">(s)</tspan></text>
<text transform="translate(589.8 205.9) rotate(-90)" font-size="44" text-anchor="middle" font-family='"Liberation Sans", Arial, sans-serif' fill="#262626" xml:space="preserve">Laser intensity  <tspan font-style="italic">(v)</tspan></text>
<text x="888.2" y="71.5" font-size="44.0" text-anchor="middle" font-weight="bold" font-family='"Liberation Sans", Arial, sans-serif' fill="#000">Detail</text>
<text x="1138.5" y="441.5" font-size="40.2" text-anchor="end" font-family='"Liberation Sans", Arial, sans-serif' fill="#262626"><tspan font-family='"DejaVu Sans Light","DejaVu Sans",sans-serif' font-weight="200" font-size="37">×</tspan>10<tspan font-size="32" dy="-20">-3</tspan></text>
<text transform="translate(981.4 1000.2) scale(0.955 1)" font-size="86" text-anchor="middle" font-family='"Liberation Serif", "Times New Roman", serif' fill="#000">(<tspan font-weight="bold">a</tspan>)</text>
<path d="M167.5 1101.4V1839.2M426.5 1101.4V1839.2M684.5 1101.4V1839.2M943.5 1101.4V1839.2M1202.5 1101.4V1839.2M1461.5 1101.4V1839.2M1720.5 1101.4V1839.2M168.5 1734.5H1719.2M168.5 1628.5H1719.2M168.5 1523.5H1719.2M168.5 1417.5H1719.2M168.5 1312.5H1719.2M168.5 1206.5H1719.2" stroke="#cecece" stroke-width="1.0" fill="none"/>
<path d="M167.1 1839.5l0.3-0.6 0.3-0.7 0.3-0.7 0.2-0.4 0.2-0.3 0.2-0.2 0.2-0.3 0.3-0.5 0.3-0.5 0.4-0.8 0.7-1.3 0.8-1.9 0.9-2.4 1-2.7 0.8-2.4 0.7-1.8 0.4-1.2 0.3-0.6 0.3-0.1 0.2 0.3 0.2 0.5 0.2 0.6 0.2 0.4 0.3 0.1 0.3-0.4 0.4-1 0.7-1.9 0.8-2.7 0.9-3 1-3.1 0.8-2.7 0.7-1.9 0.4-1.1 0.3-0.5 0.3 0.1 0.2 0.5 0.2 0.8 0.2 0.7 0.2 0.5 0.3 0.1 0.3-0.5 0.5-1.1 0.6-1.9 0.8-2.7 0.9-3 1-3.2 0.8-2.7 0.7-1.9 0.4-1.1 0.3-0.5 0.3 0.1 0.2 0.5 0.2 0.8 0.2 0.8 0.2 0.6 0.3 0.1 0.3-0.5 0.5-1.1 0.6-1.9 0.8-2.7 1-3.1 0.9-3.2 0.8-2.7 0.7-2 0.4-1.1 0.3-0.4 0.3 0.1 0.2 0.6 0.2 0.8 0.2 0.9 0.2 0.5 0.3 0.2 0.4-0.5 0.4-1.1 0.6-1.9 0.8-2.7 1-3.2 0.9-3.2 0.9-2.7 0.6-2 0.4-1.1 0.3-0.5 0.3 0.2 0.2 0.6 0.2 0.9 0.2 0.9 0.2 0.6 0.3 0.2 0.4-0.5 0.4-1.1 0.6-2 0.8-2.7 1-3.2 0.9-3.2 0.9-2.8 0.6-2 0.4-1.1 0.3-0.5 0.3 0.2 0.2 0.7 0.2 0.9 0.2 0.9 0.2 0.7 0.4 0.2 0.3-0.5 0.4-1.1 0.6-2 0.8-2.8 1-3.2 0.9-3.2 0.9-2.8 0.6-2.1 0.4-1.1 0.3-0.4 0.3 0.2 0.2 0.7 0.2 0.9 0.2 1 0.2 0.7 0.4 0.2 0.3-0.4 0.4-1.1 0.6-2 0.8-2.8 1-3.2 0.9-3.3 0.9-2.8 0.6-2 0.4-1.1 0.3-0.5 0.3 0.3 0.2 0.7 0.2 1 0.2 1 0.3 0.7 0.3 0.3 0.3-0.4 0.4-1.1 0.6-2 0.8-2.8 1-3.2 0.9-3.3 0.9-2.8 0.6-2.1 0.4-1.1 0.3-0.4 0.3 0.3 0.2 0.7 0.2 1.1 0.3 1 0.2 0.8 0.3 0.3 0.3-0.5 0.4-1.1 0.6-2 0.8-2.9 1-3.2 0.9-3.4 0.9-2.8 0.6-2.1 0.4-1.1 0.3-0.5 0.3 0.3 0.2 0.8 0.2 1.1 0.3 1 0.2 0.8 0.3 0.3 0.3-0.4 0.4-1.1 0.6-2 0.8-2.9 1-3.3 1-3.3 0.8-2.9 0.6-2.1 0.4-1.1 0.3-0.5 0.3 0.4 0.2 0.8 0.3 1.1 0.2 1.1 0.2 0.8 0.3 0.4 0.3-0.5 0.4-1.1 0.6-2.1 0.9-2.9 0.9-3.3 1-3.4 0.8-3 0.6-2.1 0.4-1.1 0.3-0.5 0.3 0.4 0.3 0.8 0.2 1.2 0.2 1.1 0.2 0.8 0.3 0.4 0.3-0.4 0.4-1.1 0.6-2.1 0.9-3 0.9-3.4 1-3.4 0.8-3 0.6-2.1 0.4-1.2 0.3-0.4 0.4 0.3 0.2 0.9 0.2 1.2 0.2 1.2 0.2 0.8 0.3 0.4 0.3-0.4 0.4-1.2 0.6-2.1 0.9-3 0.9-3.5 1-3.5 0.8-3.1 0.6-2.2 0.4-1.2 0.3-0.4 0.4 0.4 0.2 0.9 0.2 1.2 0.2 1.2 0.2 0.9 0.3 0.3 0.3-0.4 0.4-1.2 0.6-2.1 0.9-3.1 0.9-3.5 1-3.6 0.8-3.1 0.6-2.3 0.4-1.2 0.4-0.4 0.3 0.4 0.2 0.9 0.2 1.3 0.2 1.3 0.2 0.9 0.3 0.4 0.3-0.5 0.4-1.2 0.6-2.3 0.9-3.1 0.9-3.7 1-3.7 0.8-3.2 0.6-2.3 0.4-1.2 0.4-0.5 0.3 0.5 0.2 0.9 0.2 1.3 0.2 1.3 0.2 0.9 0.3 0.5 0.3-0.5 0.4-1.2 0.7-2.2 0.8-3.2 0.9-3.6 1-3.7 0.8-3.1 0.6-2.3 0.5-1.2 0.3-0.4 0.3 0.4 0.2 1 0.2 1.3 0.2 1.3 0.2 1 0.3 0.4 0.3-0.4 0.4-1.3 0.7-2.3 0.8-3.2 0.9-3.7 1-3.7 0.8-3.3 0.6-2.3 0.5-1.3 0.3-0.4 0.3 0.5 0.2 0.9 0.2 1.4 0.2 1.4 0.2 0.9 0.3 0.5 0.3-0.4 0.4-1.2 0.7-2.3 0.8-3.2 0.9-3.7 1-3.7 0.8-3.3 0.6-2.3 0.5-1.2 0.3-0.5 0.3 0.6 0.2 1 0.2 1.4 0.2 1.4 0.2 1 0.3 0.6 0.3-0.5 0.4-1.2 0.7-2.3 0.8-3.3 0.9-3.8 1-3.8 0.8-3.3 0.7-2.3 0.4-1.3 0.3-0.4 0.3 0.5 0.2 1.1 0.2 1.4 0.2 1.5 0.2 1.1 0.3 0.5 0.3-0.4 0.5-1.2 0.6-2.3 0.8-3.3 0.9-3.8 1-3.8 0.8-3.3 0.7-2.3 0.4-1.3 0.3-0.4 0.3 0.6 0.2 1 0.2 1.5 0.2 1.5 0.2 1.1 0.3 0.6 0.3-0.4 0.5-1.3 0.6-2.4 0.8-3.3 1-3.9 0.9-3.9 0.8-3.4 0.7-2.4 0.4-1.3 0.3-0.4 0.3 0.6 0.2 1.1 0.2 1.5 0.2 1.6 0.2 1.1 0.3 0.6 0.3-0.4 0.5-1.3 0.6-2.4 0.8-3.4 1-3.9 0.9-4 0.8-3.4 0.7-2.4 0.4-1.3 0.3-0.4 0.3 0.6 0.2 1.2 0.2 1.5 0.2 1.6 0.2 1.2 0.3 0.6 0.4-0.4 0.4-1.2 0.6-2.4 0.8-3.4 1-3.8 0.9-4 0.9-3.4 0.6-2.4 0.4-1.3 0.3-0.4 0.3 0.7 0.2 1.2 0.2 1.6 0.2 1.7 0.2 1.2 0.3 0.6 0.4-0.4 0.4-1.3 0.6-2.4 0.8-3.5 1-3.9 0.9-4.1 0.9-3.4 0.6-2.5 0.4-1.3 0.3-0.4 0.3 0.7 0.2 1.2 0.2 1.7 0.2 1.6 0.2 1.3 0.4 0.6 0.3-0.3 0.4-1.3 0.6-2.4 0.8-3.4 1-3.9 0.9-4 0.9-3.4 0.6-2.4 0.4-1.3 0.3-0.4 0.3 0.7 0.2 1.3 0.2 1.7 0.2 1.8 0.2 1.2 0.4 0.8 0.3-0.4 0.4-1.2 0.6-2.4 0.8-3.4 1-3.9 0.9-4 0.9-3.4 0.6-2.4 0.4-1.3 0.3-0.4 0.3 0.8 0.2 1.3 0.2 1.8 0.2 1.8 0.3 1.3 0.3 0.8 0.3-0.4 0.4-1.3 0.6-2.4 0.8-3.5 1-3.9 0.9-4.1 0.9-3.5 0.6-2.5 0.4-1.3 0.3-0.3 0.3 0.7 0.2 1.4 0.2 1.8 0.3 1.9 0.2 1.3 0.3 0.8 0.3-0.3 0.4-1.3 0.6-2.5 0.8-3.5 1-4 1-4 0.8-3.5 0.6-2.5 0.4-1.3 0.3-0.3 0.3 0.8 0.2 1.4 0.3 1.8 0.2 1.8 0.2 1.4 0.3 0.8 0.3-0.3 0.4-1.3 0.6-2.5 0.9-3.4 0.9-4 1-4.1 0.8-3.5 0.6-2.5 0.4-1.2 0.3-0.4 0.3 0.9 0.2 1.3 0.3 1.9 0.2 1.9 0.2 1.4 0.3 0.9 0.3-0.3 0.4-1.3 0.6-2.4 0.9-3.5 0.9-4 1-4 0.8-3.5 0.6-2.4 0.4-1.3 0.3-0.3 0.3 0.9 0.3 1.4 0.2 2 0.2 1.9 0.2 1.5 0.3 0.8 0.3-0.2 0.4-1.3 0.6-2.4 0.9-3.4 0.9-4 1-4 0.8-3.5 0.6-2.4 0.4-1.2 0.3-0.3 0.4 0.9 0.2 1.5 0.2 2 0.2 2 0.2 1.5 0.3 1 0.3-0.3 0.4-1.2 0.6-2.5 0.9-3.4 0.9-3.9 1-4 0.8-3.4 0.6-2.4 0.4-1.2 0.3-0.2 0.4 0.9 0.2 1.5 0.2 2.1 0.2 2 0.2 1.5 0.3 1 0.3-0.2 0.4-1.2 0.6-2.3 0.9-3.3 0.9-3.9 1-3.8 0.8-3.4 0.6-2.3 0.4-1.2 0.4-0.2 0.3 1.1 0.2 1.5 0.2 2.1 0.2 2.1 0.2 1.6 0.3 1.1 0.3-0.2 0.4-1.2 0.6-2.3 0.9-3.3 0.9-3.7 1-3.9 0.8-3.3 0.6-2.3 0.4-1.1 0.4-0.2 0.3 1.1 0.2 1.6 0.2 2.2 0.2 2.1 0.2 1.6 0.3 1.1 0.3-0.1 0.4-1.2 0.7-2.3 0.8-3.2 0.9-3.8 1-3.8 0.8-3.3 0.6-2.3 0.5-1.1 0.3-0.1 0.3 1.1 0.2 1.6 0.2 2.2 0.2 2.2 0.2 1.6 0.3 1.1 0.3-0.1 0.4-1.1 0.7-2.3 0.8-3.2 0.9-3.7 1-3.8 0.8-3.2 0.6-2.2 0.5-1.1 0.3-0.2 0.3 1.2 0.2 1.6 0.2 2.3 0.2 2.2 0.2 1.7 0.3 1.2 0.3-0.1 0.4-1.1 0.7-2.2 0.8-3.1 0.9-3.6 1-3.6 0.8-3.2 0.6-2.1 0.5-1.1 0.3-0.1 0.3 1.2 0.2 1.8 0.2 2.3 0.2 2.2 0.2 1.7 0.3 1.2 0.3-0.1 0.4-1 0.7-2.2 0.8-3.2 0.9-3.6 1-3.7 0.8-3.1 0.7-2.2 0.4-1 0.3-0.1 0.3 1.2 0.2 1.7 0.2 2.3 0.2 2.3 0.2 1.8 0.3 1.2 0.3 0 0.5-1 0.6-2.2 0.8-3 0.9-3.5 1-3.6 0.8-3.1 0.7-2.1 0.4-1.1 0.3 0 0.3 1.2 0.2 1.8 0.2 2.4 0.2 2.3 0.2 1.8 0.3 1.2 0.3 0 0.5-1 0.6-2.1 0.8-3.1 1-3.5 0.9-3.6 0.8-3 0.7-2.2 0.4-1 0.3 0 0.3 1.3 0.2 1.8 0.2 2.4 0.2 2.4 0.2 1.8 0.3 1.3 0.4 0 0.4-1 0.6-2.2 0.8-3 1-3.5 0.9-3.6 0.8-3 0.7-2.1 0.4-1 0.3 0 0.3 1.3 0.2 1.9 0.2 2.4 0.2 2.5 0.2 1.9 0.3 1.3 0.4 0.1 0.4-0.9 0.6-2 0.8-2.9 1-3.3 0.9-3.4 0.9-2.8 0.6-2 0.4-0.9 0.3 0.1 0.3 1.4 0.2 2 0.2 2.4 0.2 2.5 0.2 1.9 0.4 1.4 0.3 0.1 0.4-0.9 0.6-2 0.8-2.9 1-3.3 0.9-3.4 0.9-2.8 0.6-2 0.4-0.9 0.3 0.1 0.3 1.4 0.2 1.9 0.2 2.5 0.2 2.5 0.2 1.9 0.4 1.5 0.3 0.1 0.4-0.8 0.6-1.9 0.8-2.7 1-3.1 0.9-3.2 0.9-2.7 0.6-1.9 0.4-0.8 0.3 0.1 0.3 1.5 0.2 2 0.2 2.5 0.2 2.6 0.3 1.9 0.3 1.5 0.3 0.1 0.4-0.8 0.6-1.9 0.8-2.7 1-3.2 0.9-3.2 0.9-2.7 0.6-1.9 0.4-0.7 0.3 0.1 0.3 1.5 0.2 2 0.2 2.6 0.2 2.6 0.3 2 0.3 1.6 0.3 0.1 0.4-0.7 0.6-1.8 0.8-2.6 1-3 0.9-3 0.9-2.6 0.6-1.8 0.4-0.7 0.3 0.2 0.3 1.6 0.2 2 0.2 2.7 0.3 2.6 0.2 2 0.3 1.6 0.3 0.2 0.4-0.7 0.6-1.8 0.8-2.5 1-2.9 1-3 0.8-2.6 0.6-1.7 0.4-0.7 0.3 0.2 0.3 1.6 0.2 2.1 0.3 2.6 0.2 2.6 0.2 2.1 0.3 1.5 0.3 0.2 0.4-0.7 0.6-1.7 0.9-2.6 0.9-2.9 1-3 0.8-2.5 0.6-1.7 0.4-0.7 0.3 0.2 0.3 1.6 0.3 2.1 0.2 2.6 0.2 2.7 0.2 2 0.3 1.6 0.3 0.3 0.4-0.7 0.6-1.6 0.9-2.5 0.9-2.8 1-2.8 0.8-2.4 0.6-1.7 0.4-0.6 0.3 0.2 0.3 1.7 0.3 2.1 0.2 2.7 0.2 2.6 0.2 2.1 0.3 1.7 0.3 0.2 0.4-0.6 0.6-1.7 0.9-2.4 0.9-2.8 1-2.8 0.8-2.4 0.6-1.6 0.4-0.6 0.3 0.3 0.4 1.6 0.2 2.1 0.2 2.7 0.2 2.7 0.2 2.1 0.3 1.6 0.3 0.3 0.4-0.6 0.6-1.6 0.9-2.3 0.9-2.7 1-2.8 0.8-2.3 0.6-1.6 0.4-0.6 0.3 0.3 0.4 1.7 0.2 2.1 0.2 2.7 0.2 2.6 0.2 2.1 0.3 1.7 0.3 0.3 0.4-0.6 0.6-1.5 0.9-2.3 0.9-2.7 1-2.7 0.8-2.3 0.6-1.6 0.4-0.6 0.4 0.3 0.3 1.7 0.2 2.1 0.2 2.7 0.2 2.7 0.2 2.1 0.3 1.7 0.3 0.3 0.4-0.6 0.7-1.6 0.8-2.3 0.9-2.7 1-2.8 0.8-2.3 0.6-1.6 0.4-0.7 0.4 0.3 0.3 1.7 0.2 2.2 0.2 2.7 0.2 2.7 0.2 2.2 0.3 1.7 0.3 0.3 0.4-0.6 0.7-1.6 0.8-2.3 0.9-2.7 1-2.7 0.8-2.3 0.6-1.6 0.5-0.6 0.3 0.3 0.3 1.7 0.2 2.1 0.2 2.8 0.2 2.7 0.2 2.1 0.3 1.7 0.3 0.3 0.4-0.6 0.7-1.6 0.8-2.3 0.9-2.7 1-2.8 0.8-2.3 0.6-1.6 0.5-0.6 0.3 0.3 0.3 1.7 0.2 2.2 0.2 2.7 0.2 2.8 0.2 2.1 0.3 1.7 0.3 0.4 0.4-0.6 0.7-1.5 0.8-2.3 0.9-2.6 1-2.6 0.8-2.3 0.7-1.5 0.4-0.6 0.3 0.4 0.3 1.7 0.2 2.2 0.2 2.7 0.2 2.7 0.2 2.1 0.3 1.7 0.3 0.3 0.5-0.5 0.6-1.6 0.8-2.3 0.9-2.6 1-2.7 0.8-2.3 0.7-1.5 0.4-0.6 0.3 0.3 0.3 1.7 0.2 2.2 0.2 2.7 0.2 2.8 0.2 2.1 0.3 1.8 0.3 0.3 0.5-0.5 0.6-1.5 0.8-2.3 0.9-2.5 1-2.6 0.8-2.2 0.7-1.5 0.4-0.6 0.3 0.4 0.3 1.7 0.2 2.2 0.2 2.7 0.2 2.7 0.2 2.1 0.3 1.7 0.3 0.3 0.5-0.5 0.6-1.6 0.8-2.3 1-2.6 0.9-2.8 0.8-2.3 0.7-1.5 0.4-0.6 0.3 0.3 0.3 1.7 0.2 2.1 0.2 2.7 0.2 2.8 0.2 2.2 0.3 1.7 0.4 0.3 0.4-0.5 0.6-1.5 0.8-2.2 1-2.6 0.9-2.6 0.9-2.2 0.6-1.5 0.4-0.6 0.3 0.4 0.3 1.7 0.2 2.2 0.2 2.8 0.2 2.8 0.2 2.1 0.3 1.8 0.4 0.3 0.4-0.5 0.6-1.6 0.8-2.2 1-2.6 0.9-2.7 0.9-2.2 0.6-1.5 0.4-0.6 0.3 0.3 0.3 1.8 0.2 2.1 0.2 2.8 0.2 2.7 0.2 2.2 0.4 1.7 0.3 0.3 0.4-0.6 0.6-1.5 0.8-2.3 1-2.7 0.9-2.7 0.9-2.2 0.6-1.6 0.4-0.6 0.3 0.4 0.3 1.7 0.2 2.1 0.2 2.7 0.2 2.7 0.2 2.2 0.4 1.7 0.3 0.3 0.4-0.6 0.6-1.5 0.8-2.3 1-2.6 0.9-2.7 0.9-2.2 0.6-1.6 0.4-0.5 0.3 0.3 0.3 1.7 0.2 2.1 0.2 2.8 0.2 2.7 0.3 2.2 0.3 1.7 0.3 0.4 0.4-0.6 0.6-1.4 0.8-2.2 1-2.5 0.9-2.6 0.9-2.2 0.6-1.5 0.4-0.5 0.3 0.4 0.3 1.7 0.2 2.2 0.2 2.7 0.3 2.8 0.2 2.1 0.3 1.7 0.3 0.4 0.4-0.6 0.6-1.5 0.8-2.3 1-2.6 1-2.7 0.8-2.2 0.6-1.6 0.4-0.5 0.3 0.3 0.3 1.7 0.2 2.2 0.2 2.7 0.3 2.8 0.2 2.1 0.3 1.8 0.3 0.3 0.4-0.6 0.6-1.5 0.8-2.3 1-2.6 1-2.7 0.8-2.3 0.6-1.5 0.4-0.6 0.3 0.4 0.3 1.7 0.2 2.1 0.3 2.8 0.2 2.7 0.2 2.2 0.3 1.7 0.3 0.3 0.4-0.5 0.6-1.5 0.9-2.2 0.9-2.6 1-2.6 0.8-2.2 0.6-1.4 0.4-0.6 0.3 0.4 0.3 1.7 0.3 2.1 0.2 2.8 0.2 2.7 0.2 2.1 0.3 1.7 0.3 0.3 0.4-0.6 0.6-1.5 0.9-2.3 0.9-2.6 1-2.7 0.8-2.3 0.6-1.6 0.4-0.5 0.3 0.3 0.4 1.7 0.2 2.1 0.2 2.7 0.2 2.7 0.2 2.1 0.3 1.7 0.3 0.4 0.4-0.6 0.6-1.4 0.9-2.2 0.9-2.6 1-2.5 0.8-2.2 0.6-1.5 0.4-0.5 0.3 0.3 0.4 1.7 0.2 2.2 0.2 2.7 0.2 2.7 0.2 2.1 0.3 1.7 0.3 0.3 0.4-0.6 0.6-1.5 0.9-2.3 0.9-2.6 1-2.6 0.8-2.3 0.6-1.5 0.4-0.6 0.4 0.3 0.3 1.7 0.2 2.1 0.2 2.7 0.2 2.7 0.2 2.2 0.3 1.7 0.3 0.3 0.4-0.5 0.6-1.5 0.9-2.2 0.9-2.5 1-2.6 0.8-2.2 0.6-1.5 0.4-0.6 0.4 0.4 0.3 1.7 0.2 2.1 0.2 2.8 0.2 2.7 0.2 2.1 0.3 1.7 0.3 0.3 0.4-0.5 0.7-1.6 0.8-2.3 0.9-2.6 1-2.7 0.8-2.3 0.6-1.5 0.5-0.6 0.3 0.3 0.3 1.7 0.2 2.1 0.2 2.7 0.2 2.7 0.2 2.2 0.3 1.7 0.3 0.4 0.4-0.6 0.7-1.5 0.8-2.2 0.9-2.5 1-2.6 0.8-2.2 0.6-1.5 0.5-0.6 0.3 0.4 0.3 1.7 0.2 2.1 0.2 2.8 0.2 2.8 0.2 2.1 0.3 1.8 0.3 0.3 0.4-0.5 0.7-1.5 0.8-2.3 0.9-2.5 1-2.6 0.8-2.2 0.6-1.5 0.5-0.5 0.3 0.3 0.3 1.7 0.2 2.2 0.2 2.7 0.2 2.7 0.2 2.2 0.3 1.7 0.3 0.3 0.4-0.5 0.7-1.5 0.8-2.3 0.9-2.5 1-2.7 0.8-2.2 0.7-1.6 0.4-0.5 0.3 0.3 0.3 1.7 0.2 2.2 0.2 2.8 0.2 2.7 0.2 2.2 0.3 1.7 0.3 0.4 0.5-0.6 0.6-1.5 0.8-2.3 0.9-2.6 1-2.6 0.8-2.3 0.7-1.5 0.4-0.6 0.3 0.4 0.3 1.7 0.2 2.2 0.2 2.8 0.2 2.7 0.2 2.2 0.3 1.7 0.3 0.3 0.5-0.6 0.6-1.6 0.8-2.4 1-2.7 0.9-2.7 0.8-2.4 0.7-1.6 0.4-0.6 0.3 0.3 0.3 1.7 0.2 2.2 0.2 2.7 0.2 2.8 0.2 2.1 0.3 1.8 0.3 0.3 0.5-0.5 0.6-1.5 0.8-2.2 1-2.5 0.9-2.6 0.8-2.2 0.7-1.5 0.4-0.5 0.3 0.3 0.3 1.7 0.2 2.2 0.2 2.8 0.2 2.7 0.2 2.2 0.3 1.7 0.4 0.3 0.4-0.6 0.6-1.5 0.8-2.3 1-2.6 0.9-2.6 0.9-2.3 0.6-1.5 0.4-0.6 0.3 0.4 0.3 1.7 0.2 2.1 0.2 2.7 0.2 2.8 0.2 2.1 0.3 1.8 0.4 0.3 0.4-0.5 0.6-1.6 0.8-2.2 1-2.6 0.9-2.7 0.9-2.2 0.6-1.5 0.4-0.6 0.3 0.3 0.3 1.8 0.2 2.1 0.2 2.8 0.2 2.8 0.2 2.1 0.4 1.8 0.3 0.3 0.4-0.6 0.6-1.5 0.8-2.3 1-2.6 0.9-2.6 0.9-2.3 0.6-1.5 0.4-0.5 0.3 0.3 0.3 1.7 0.2 2.1 0.2 2.8 0.2 2.7 0.3 2.1 0.3 1.7 0.3 0.4 0.4-0.6 0.6-1.5 0.8-2.2 1-2.6 0.9-2.6 0.9-2.3 0.6-1.5 0.4-0.5 0.3 0.3 0.3 1.7 0.2 2.2 0.2 2.7 0.2 2.7 0.3 2.2 0.3 1.6 0.3 0.4 0.4-0.6 0.6-1.6 0.8-2.2 1-2.7 0.9-2.7 0.9-2.3 0.6-1.5 0.4-0.6 0.3 0.3 0.3 1.7 0.2 2.2 0.2 2.7 0.3 2.8 0.2 2.1 0.3 1.8 0.3 0.3 0.4-0.5 0.6-1.5 0.8-2.1 1-2.6 1-2.5 0.8-2.2 0.6-1.5 0.4-0.5 0.3 0.3 0.3 1.8 0.2 2.1 0.3 2.8 0.2 2.8 0.2 2.1 0.3 1.8 0.3 0.3 0.4-0.6 0.6-1.5 0.9-2.2 0.9-2.6 1-2.6 0.8-2.3 0.6-1.5 0.4-0.5 0.3 0.3 0.3 1.7 0.3 2.2 0.2 2.7 0.2 2.8 0.2 2.1 0.3 1.7 0.3 0.3 0.4-0.5 0.6-1.5 0.9-2.3 0.9-2.6 1-2.7 0.8-2.2 0.6-1.6 0.4-0.5 0.3 0.3 0.3 1.7 0.3 2.2 0.2 2.7 0.2 2.8 0.2 2.1 0.3 1.7 0.3 0.4 0.4-0.6 0.6-1.5 0.9-2.2 0.9-2.6 1-2.7 0.8-2.2 0.6-1.5 0.4-0.6 0.3 0.4 0.4 1.7 0.2 2.1 0.2 2.8 0.2 2.7 0.2 2.1 0.3 1.7 0.3 0.3 0.4-0.5 0.6-1.6 0.9-2.3 0.9-2.6 1-2.7 0.8-2.3 0.6-1.6 0.4-0.5 0.3 0.3 0.4 1.7 0.2 2.1 0.2 2.7 0.2 2.8 0.2 2.1 0.3 1.7 0.3 0.4 0.4-0.6 0.6-1.5 0.9-2.2 0.9-2.6 1-2.7 0.8-2.2 0.6-1.5 0.4-0.6 0.4 0.3 0.3 1.7 0.2 2.2 0.2 2.7 0.2 2.8 0.2 2.1 0.3 1.7 0.3 0.4 0.4-0.5 0.7-1.5 0.8-2.2 0.9-2.6 1-2.5 0.8-2.2 0.6-1.5 0.4-0.5 0.4 0.3 0.3 1.7 0.2 2.2 0.2 2.7 0.2 2.7 0.2 2.2 0.3 1.7 0.3 0.3 0.4-0.5 0.7-1.5 0.8-2.3 0.9-2.5 1-2.7 0.8-2.2 0.6-1.5 0.5-0.6 0.3 0.4 0.3 1.7 0.2 2.2 0.2 2.7 0.2 2.7 0.2 2.2 0.3 1.7 0.3 0.3 0.4-0.6 0.7-1.5 0.8-2.3 0.9-2.6 1-2.7 0.8-2.3 0.6-1.5 0.5-0.6 0.3 0.4 0.3 1.7 0.2 2.1 0.2 2.8 0.2 2.7 0.2 2.2 0.3 1.7 0.3 0.3 0.4-0.6 0.7-1.6 0.8-2.2 0.9-2.7 1-2.7 0.8-2.2 0.7-1.6 0.4-0.6 0.3 0.4 0.3 1.7 0.2 2.1 0.2 2.7 0.2 2.7 0.2 2.2 0.3 1.8 0.3 0.3 0.5-0.5 0.6-1.4 0.8-2.2 0.9-2.4 1-2.6 0.8-2.1 0.7-1.4 0.4-0.6 0.3 0.4 0.3 1.8 0.2 2.1 0.2 2.8 0.2 2.7 0.2 2.1 0.3 1.7 0.3 0.3 0.5-0.6 0.6-1.5 0.8-2.4 0.9-2.6 1-2.8 0.8-2.3 0.7-1.6 0.4-0.6 0.3 0.3 0.3 1.7 0.2 2.2 0.2 2.7 0.2 2.7 0.2 2.2 0.3 1.7 0.3 0.4 0.5-0.6 0.6-1.5 0.8-2.2 1-2.5 0.9-2.6 0.8-2.2 0.7-1.5 0.4-0.5 0.3 0.3 0.3 1.7 0.2 2.2 0.2 2.7 0.2 2.7 0.2 2.2 0.3 1.6 0.4 0.4 0.4-0.6 0.6-1.6 0.8-2.2 1-2.7 0.9-2.7 0.9-2.3 0.6-1.5 0.4-0.6 0.3 0.3 0.3 1.7 0.2 2.1 0.2 2.8 0.2 2.7 0.2 2.2 0.3 1.7 0.4 0.4 0.4-0.6 0.6-1.4 0.8-2.2 1-2.6 0.9-2.6 0.9-2.1 0.6-1.5 0.4-0.5 0.3 0.3 0.3 1.7 0.2 2.2 0.2 2.7 0.2 2.7 0.2 2.2 0.4 1.7 0.3 0.3 0.4-0.6 0.6-1.5 0.8-2.2 1-2.6 0.9-2.7 0.9-2.3 0.6-1.5 0.4-0.6 0.3 0.3 0.3 1.7 0.2 2.2 0.2 2.8 0.2 2.7 0.2 2.2 0.4 1.7 0.3 0.4 0.4-0.6 0.6-1.5 0.8-2.2 1-2.6 0.9-2.6 0.9-2.3 0.6-1.5 0.4-0.5 0.3 0.3 0.3 1.7 0.2 2.2 0.2 2.8 0.2 2.8 0.3 2.2 0.3 1.7 0.3 0.3 0.4-0.5 0.6-1.6 0.8-2.3 1-2.6 0.9-2.7 0.9-2.3 0.6-1.5 0.4-0.6 0.3 0.3 0.3 1.8 0.2 2.1 0.2 2.8 0.3 2.8 0.2 2.1 0.3 1.7 0.3 0.3 0.4-0.6 0.6-1.5 0.8-2.3 1-2.7 0.9-2.7 0.9-2.3 0.6-1.6 0.4-0.6 0.3 0.4 0.3 1.6 0.2 2.2 0.2 2.7 0.3 2.7 0.2 2.2 0.3 1.7 0.3 0.4 0.4-0.6 0.6-1.5 0.8-2.2 1-2.6 1-2.6 0.8-2.3 0.6-1.5 0.4-0.6 0.3 0.4 0.3 1.7 0.2 2.2 0.3 2.7 0.2 2.8 0.2 2.1 0.3 1.8 0.3 0.3 0.4-0.5 0.6-1.5 0.9-2.3 0.9-2.5 1-2.6 0.8-2.3 0.6-1.5 0.4-0.5 0.3 0.4 0.3 1.7 0.3 2.1 0.2 2.8 0.2 2.7 0.2 2.2 0.3 1.7 0.3 0.3 0.4-0.5 0.6-1.5 0.9-2.3 0.9-2.5 1-2.7 0.8-2.2 0.6-1.5 0.4-0.6 0.3 0.4 0.4 1.7 0.2 2.1 0.2 2.8 0.2 2.7 0.2 2.2 0.3 1.7 0.3 0.4 0.4-0.6 0.6-1.5 0.9-2.2 0.9-2.6 1-2.6 0.8-2.3 0.6-1.5 0.4-0.5 0.3 0.3 0.4 1.8 0.2 2.1 0.2 2.8 0.2 2.8 0.2 2.1 0.3 1.7 0.3 0.3 0.4-0.5 0.6-1.6 0.9-2.3 0.9-2.6 1-2.7 0.8-2.3 0.6-1.5 0.4-0.6 0.4 0.4 0.3 1.6 0.2 2.2 0.2 2.7 0.2 2.7 0.2 2.1 0.3 1.7 0.3 0.4 0.4-0.6 0.6-1.5 0.9-2.2 0.9-2.6 1-2.7 0.8-2.3 0.6-1.5 0.4-0.6 0.4 0.4 0.3 1.7 0.2 2.2 0.2 2.7 0.2 2.8 0.2 2.1 0.3 1.7 0.3 0.4 0.4-0.6 0.7-1.5 0.8-2.3 0.9-2.6 1-2.6 0.8-2.3 0.6-1.5 0.5-0.5 0.3 0.3 0.3 1.7 0.2 2.2 0.2 2.7 0.2 2.8 0.2 2.1 0.3 1.7 0.3 0.4 0.4-0.6 0.7-1.5 0.8-2.3 0.9-2.6 1-2.6 0.8-2.3 0.6-1.5 0.5-0.6 0.3 0.4 0.3 1.7 0.2 2.2 0.2 2.7 0.2 2.8 0.2 2.2 0.3 1.7 0.3 0.3 0.4-0.5 0.7-1.5 0.8-2.3 0.9-2.5 1-2.7 0.8-2.2 0.6-1.5 0.5-0.5 0.3 0.3 0.3 1.7 0.2 2.2 0.2 2.7 0.2 2.8 0.2 2.1 0.3 1.7 0.3 0.3 0.4-0.5 0.7-1.6 0.8-2.2 0.9-2.6 1-2.7 0.8-2.3 0.7-1.5 0.4-0.6 0.3 0.4 0.3 1.7 0.2 2.1 0.2 2.7 0.2 2.7 0.2 2.2 0.3 1.7 0.3 0.3 0.5-0.5 0.6-1.5 0.8-2.3 0.9-2.6 1-2.6 0.8-2.3 0.7-1.5 0.4-0.5 0.3 0.3 0.3 1.7 0.2 2.2 0.2 2.7 0.2 2.7 0.2 2.2 0.3 1.7 0.3 0.3 0.5-0.6 0.6-1.5 0.8-2.3 1-2.6 0.9-2.7 0.8-2.3 0.7-1.5 0.4-0.6 0.3 0.3 0.3 1.7 0.2 2.2 0.2 2.7 0.2 2.8 0.2 2.1 0.3 1.7 0.3 0.4 0.5-0.6 0.6-1.5 0.8-2.3 1-2.6 0.9-2.7 0.8-2.2 0.7-1.6 0.4-0.5 0.3 0.3 0.3 1.7 0.2 2.2 0.2 2.7 0.2 2.8 0.2 2.1 0.3 1.7 0.4 0.4 0.4-0.5 0.6-1.5 0.8-2.2 1-2.6 0.9-2.6 0.9-2.2 0.6-1.4 0.4-0.6 0.3 0.4 0.3 1.7 0.2 2.2 0.2 2.7 0.2 2.8 0.2 2.1 0.3 1.8 0.4 0.3 0.4-0.6 0.6-1.5 0.8-2.2 1-2.6 0.9-2.6 0.9-2.2 0.6-1.5 0.4-0.6 0.3 0.4 0.3 1.7 0.2 2.1 0.2 2.8 0.2 2.7 0.2 2.1 0.4 1.7 0.3 0.3 0.4-0.5 0.6-1.5 0.8-2.3 1-2.6 0.9-2.6 0.9-2.3 0.6-1.5 0.4-0.5 0.3 0.3 0.3 1.7 0.2 2.1 0.2 2.7 0.2 2.7 0.2 2.1 0.4 1.7 0.3 0.4 0.4-0.6 0.6-1.4 0.8-2.2 1-2.6 0.9-2.6 0.9-2.3 0.6-1.5 0.4-0.5 0.3 0.3 0.3 1.7 0.2 2.2 0.2 2.7 0.2 2.8 0.3 2.1 0.3 1.8 0.3 0.3 0.4-0.6 0.6-1.5 0.8-2.2 1-2.6 0.9-2.7 0.9-2.2 0.6-1.6 0.4-0.5 0.3 0.3 0.3 1.7 0.2 2.2 0.2 2.8 0.3 2.7 0.2 2.2 0.3 1.7 0.3 0.3 0.4-0.6 0.6-1.5 0.8-2.3 1-2.6 1-2.7 0.8-2.2 0.6-1.6 0.4-0.5 0.3 0.3 0.3 1.7 0.2 2.2 0.3 2.7 0.2 2.8 0.2 2.1 0.3 1.7 0.3 0.4 0.4-0.6 0.6-1.5 0.9-2.2 0.9-2.6 1-2.6 0.8-2.2 0.6-1.5 0.4-0.6 0.3 0.4 0.3 1.7 0.2 2.2 0.3 2.7 0.2 2.7 0.2 2.2 0.3 1.7 0.3 0.3 0.4-0.6 0.6-1.5 0.9-2.3 0.9-2.6 1-2.7 0.8-2.3 0.6-1.6 0.4-0.6 0.3 0.4 0.3 1.7 0.3 2.1 0.2 2.8 0.2 2.7 0.2 2.2 0.3 1.7 0.3 0.4 0.4-0.6 0.6-1.5 0.9-2.3 0.9-2.5 1-2.7 0.8-2.2 0.6-1.5 0.4-0.5 0.3 0.3 0.4 1.7 0.2 2.2 0.2 2.7 0.2 2.7 0.2 2.2 0.3 1.7 0.3 0.3 0.4-0.5 0.6-1.6 0.9-2.2 0.9-2.6 1-2.6 0.8-2.3 0.6-1.5 0.4-0.6 0.3 0.4 0.4 1.7 0.2 2.1 0.2 2.7 0.2 2.8 0.2 2.1 0.3 1.7 0.3 0.4 0.4-0.6 0.6-1.5 0.9-2.2 0.9-2.6 1-2.6 0.8-2.2 0.6-1.5 0.4-0.6 0.4 0.3 0.3 1.7 0.2 2.2 0.2 2.7 0.2 2.8 0.2 2.1 0.3 1.7 0.3 0.4 0.4-0.6 0.6-1.5 0.9-2.2 0.9-2.6 1-2.6 0.8-2.3 0.6-1.5 0.4-0.5 0.4 0.3 0.3 1.7 0.2 2.2 0.2 2.8 0.2 2.7 0.2 2.2 0.3 1.7 0.3 0.3 0.4-0.5 0.7-1.6 0.8-2.2 0.9-2.6 1-2.6 0.8-2.3 0.6-1.5 0.5-0.5 0.3 0.3 0.3 1.7 0.2 2.2 0.2 2.7 0.2 2.7 0.2 2.1 0.3 1.7 0.3 0.4 0.4-0.6 0.7-1.5 0.8-2.2 0.9-2.7 1-2.6 0.8-2.3 0.6-1.5 0.5-0.6 0.3 0.3 0.3 1.7 0.2 2.2 0.2 2.7 0.2 2.8 0.2 2.2 0.3 1.7 0.3 0.3 0.4-0.5 0.7-1.6 0.8-2.2 0.9-2.6 1-2.6 0.8-2.3 0.6-1.5 0.5-0.5 0.3 0.3 0.3 1.7 0.2 2.2 0.2 2.7 0.2 2.7 0.2 2.2 0.3 1.7 0.3 0.3 0.4-0.6 0.7-1.5 0.8-2.2 0.9-2.6 1-2.7 0.8-2.2 0.7-1.6 0.4-0.5 0.3 0.3 0.3 1.7 0.2 2.1 0.2 2.7 0.2 2.8 0.2 2.1 0.3 1.7 0.3 0.4 0.5-0.6 0.6-1.5 0.8-2.2 0.9-2.6 1-2.6 0.8-2.3 0.7-1.5 0.4-0.6 0.3 0.4 0.3 1.7 0.2 2.1 0.2 2.8 0.2 2.8 0.2 2.1 0.3 1.8 0.3 0.3 0.5-0.5 0.6-1.5 0.8-2.3 1-2.5 0.9-2.6 0.8-2.3 0.7-1.5 0.4-0.5 0.3 0.4 0.3 1.7 0.2 2.1 0.2 2.8 0.2 2.7 0.2 2.2 0.3 1.6 0.4 0.4 0.4-0.6 0.6-1.5 0.8-2.3 1-2.6 0.9-2.7 0.8-2.3 0.7-1.5 0.4-0.6 0.3 0.4 0.3 1.6 0.2 2.2 0.2 2.7 0.2 2.7 0.2 2.2 0.3 1.7 0.4 0.3 0.4-0.5 0.6-1.5 0.8-2.2 1-2.5 0.9-2.6 0.9-2.2 0.6-1.5 0.4-0.6 0.3 0.4 0.3 1.7 0.2 2.1 0.2 2.8 0.2 2.7 0.2 2.2 0.4 1.7 0.3 0.3 0.4-0.6 0.6-1.5 0.8-2.3 1-2.6 0.9-2.6 0.9-2.3 0.6-1.5 0.4-0.6 0.3 0.3 0.3 1.7 0.2 2.2 0.2 2.7 0.2 2.8 0.2 2.1 0.4 1.8 0.3 0.3 0.4-0.6 0.6-1.5 0.8-2.3 1-2.6 0.9-2.6 0.9-2.3 0.6-1.5 0.4-0.6 0.3 0.3 0.3 1.7 0.2 2.2 0.2 2.8 0.2 2.7 0.3 2.2 0.3 1.7 0.3 0.4 0.4-0.6 0.6-1.5 0.8-2.2 1-2.5 0.9-2.6 0.9-2.2 0.6-1.5 0.4-0.5 0.3 0.3 0.3 1.7 0.2 2.2 0.2 2.7 0.2 2.8 0.3 2.1 0.3 1.7 0.3 0.3 0.4-0.6 0.6-1.5 0.8-2.3 1-2.7 0.9-2.7 0.9-2.3 0.6-1.5 0.4-0.6 0.3 0.3 0.3 1.7 0.2 2.1 0.2 2.8 0.3 2.7 0.2 2.2 0.3 1.7 0.3 0.3 0.4-0.5 0.6-1.5 0.8-2.3 1-2.6 1-2.7 0.8-2.2 0.6-1.5 0.4-0.6 0.3 0.3 0.3 1.8 0.2 2.1 0.3 2.8 0.2 2.7 0.2 2.2 0.3 1.7 0.3 0.3 0.4-0.5 0.6-1.5 0.9-2.3 0.9-2.6 1-2.6 0.8-2.2 0.6-1.5 0.4-0.6 0.3 0.3 0.3 1.8 0.3 2.1 0.2 2.7 0.2 2.8 0.2 2.1 0.3 1.7 0.3 0.4 0.4-0.6 0.6-1.5 0.9-2.2 0.9-2.6 1-2.7 0.8-2.2 0.6-1.5 0.4-0.6 0.3 0.4 0.3 1.7 0.3 2.1 0.2 2.8 0.2 2.7 0.2 2.2 0.3 1.7 0.3 0.3 0.4-0.5 0.6-1.5 0.9-2.3 0.9-2.6 1-2.6 0.8-2.3 0.6-1.5 0.4-0.6 0.3 0.4 0.4 1.7 0.2 2.1 0.2 2.8 0.2 2.7 0.2 2.2 0.3 1.7 0.3 0.3 0.4-0.5 0.6-1.5 0.9-2.3 0.9-2.5 1-2.7 0.8-2.2 0.6-1.5 0.4-0.5 0.3 0.3 0.4 1.7 0.2 2.2 0.2 2.7 0.2 2.7 0.2 2.2 0.3 1.7 0.3 0.3 0.4-0.6 0.6-1.5 0.9-2.2 0.9-2.6 1-2.7 0.8-2.3 0.6-1.5 0.4-0.5 0.4 0.3 0.3 1.7 0.2 2.1 0.2 2.8 0.2 2.7 0.2 2.1 0.3 1.7 0.3 0.4 0.4-0.6 0.7-1.5 0.8-2.2 0.9-2.6 1-2.6 0.8-2.3 0.6-1.5 0.5-0.5 0.3 0.3 0.3 1.7 0.2 2.2 0.2 2.7 0.2 2.7 0.2 2.2 0.3 1.7 0.3 0.3 0.4-0.5 0.7-1.6 0.8-2.2 0.9-2.6 1-2.7 0.8-2.3 0.6-1.5 0.5-0.5 0.3 0.3 0.3 1.7 0.2 2.1 0.2 2.8 0.2 2.7 0.2 2.2 0.3 1.7 0.3 0.4 0.4-0.6 0.7-1.5 0.8-2.2 0.9-2.6 1-2.6 0.8-2.2 0.6-1.5 0.5-0.5 0.3 0.3 0.3 1.8 0.2 2.1 0.2 2.8 0.2 2.7 0.2 2.1 0.3 1.7 0.3 0.3 0.4-0.5 0.7-1.6 0.8-2.3 0.9-2.6 1-2.6 0.8-2.3 0.7-1.6 0.4-0.5 0.3 0.3 0.3 1.7 0.2 2.1 0.2 2.7 0.2 2.8 0.2 2.1 0.3 1.7 0.3 0.4 0.5-0.6 0.6-1.5 0.8-2.2 0.9-2.6 1-2.7 0.8-2.2 0.7-1.5 0.4-0.6 0.3 0.3 0.3 1.7 0.2 2.2 0.2 2.8 0.2 2.7 0.2 2.2 0.3 1.7 0.3 0.4 0.5-0.6 0.6-1.5 0.8-2.3 0.9-2.6 1-2.6 0.8-2.3 0.7-1.5 0.4-0.5 0.3 0.3 0.3 1.7 0.2 2.2 0.2 2.7 0.2 2.8 0.2 2.1 0.3 1.7 0.3 0.4 0.5-0.6 0.6-1.5 0.8-2.2 1-2.6 0.9-2.7 0.8-2.2 0.7-1.5 0.4-0.6 0.3 0.4 0.3 1.7 0.2 2.1 0.2 2.8 0.2 2.7 0.2 2.2 0.3 1.7 0.4 0.3 0.4-0.5 0.6-1.6 0.8-2.3 1-2.6 0.9-2.7 0.9-2.3 0.6-1.5 0.4-0.6 0.3 0.4 0.3 1.7 0.2 2.1 0.2 2.8 0.2 2.8 0.2 2.1 0.3 1.8 0.4 0.3 0.4-0.5 0.6-1.5 0.8-2.2 1-2.6 0.9-2.6 0.9-2.2 0.6-1.4 0.4-0.6 0.3 0.4 0.3 1.7 0.2 2.2 0.2 2.7 0.2 2.8 0.2 2.1 0.4 1.7 0.3 0.4 0.4-0.6 0.6-1.6 0.8-2.3 1-2.6 0.9-2.8 0.9-2.3 0.6-1.6 0.4-0.6 0.3 0.4 0.3 1.7 0.2 2.1 0.2 2.8 0.2 2.8 0.2 2.2 0.4 1.7 0.3 0.3 0.4-0.5 0.6-1.6 0.8-2.2 1-2.6 0.9-2.7 0.9-2.2 0.6-1.5 0.4-0.6 0.3 0.4 0.3 1.7 0.2 2.1 0.2 2.7 0.2 2.8 0.3 2.1 0.3 1.7 0.3 0.4 0.4-0.6 0.6-1.5 0.8-2.2 1-2.6 0.9-2.7 0.9-2.2 0.6-1.6 0.4-0.5 0.3 0.3 0.3 1.7 0.2 2.2 0.2 2.7 0.3 2.8 0.2 2.1 0.3 1.8 0.3 0.3 0.4-0.6 0.6-1.5 0.8-2.2 1-2.6 1-2.7 0.8-2.2 0.6-1.6 0.4-0.5 0.3 0.3 0.3 1.7 0.2 2.2 0.3 2.7 0.2 2.8 0.2 2.1 0.3 1.7 0.3 0.4 0.4-0.6 0.6-1.5 0.8-2.2 1-2.5 1-2.7 0.8-2.2 0.6-1.5 0.4-0.6 0.3 0.4 0.3 1.7 0.2 2.2 0.3 2.7 0.2 2.8 0.2 2.2 0.3 1.7 0.3 0.3 0.4-0.5 0.6-1.6 0.9-2.3 0.9-2.6 1-2.7 0.8-2.2 0.6-1.6 0.4-0.5 0.3 0.3 0.3 1.7 0.3 2.2 0.2 2.8 0.2 2.7 0.2 2.2 0.3 1.7 0.3 0.3 0.4-0.6 0.6-1.5 0.9-2.3 0.9-2.6 1-2.7 0.8-2.2 0.6-1.5 0.4-0.6 0.3 0.3 0.4 1.7 0.2 2.2 0.2 2.7 0.2 2.7 0.2 2.1 0.3 1.7 0.3 0.3 0.4-0.5 0.6-1.5 0.9-2.2 0.9-2.6 1-2.6 0.8-2.2 0.6-1.5 0.4-0.6 0.3 0.3 0.4 1.7 0.2 2.2 0.2 2.7 0.2 2.7 0.2 2.2 0.3 1.7 0.3 0.3 0.4-0.5 0.6-1.5 0.9-2.3 0.9-2.5 1-2.7 0.8-2.2 0.6-1.5 0.4-0.6 0.4 0.3 0.3 1.7 0.2 2.2 0.2 2.8 0.2 2.7 0.2 2.2 0.3 1.7 0.3 0.4 0.4-0.6 0.6-1.5 0.9-2.2 0.9-2.5 1-2.6 0.8-2.3 0.6-1.5 0.4-0.5 0.4 0.4 0.3 1.7 0.2 2.2 0.2 2.7 0.2 2.8 0.2 2.1 0.3 1.7 0.3 0.3 0.4-0.6 0.7-1.5 0.8-2.3 0.9-2.7 1-2.7 0.8-2.3 0.6-1.5 0.5-0.6 0.3 0.3 0.3 1.7 0.2 2.1 0.2 2.8 0.2 2.7 0.2 2.2 0.3 1.7 0.3 0.3 0.4-0.5 0.7-1.6 0.8-2.2 0.9-2.7 1-2.6 0.8-2.3 0.6-1.5 0.5-0.6 0.3 0.4 0.3 1.7 0.2 2.1 0.2 2.8 0.2 2.7 0.2 2.1 0.3 1.8 0.3 0.3 0.4-0.6 0.7-1.5 0.8-2.2 0.9-2.6 1-2.6 0.8-2.3 0.6-1.5 0.5-0.6 0.3 0.4 0.3 1.7 0.2 2.1 0.2 2.8 0.2 2.7 0.2 2.2 0.3 1.7 0.3 0.4 0.4-0.6 0.7-1.5 0.8-2.2 0.9-2.6 1-2.6 0.8-2.3 0.7-1.5 0.4-0.5 0.3 0.3 0.3 1.7 0.2 2.2 0.2 2.7 0.2 2.8 0.2 2.2 0.3 1.7 0.3 0.4 0.5-0.6 0.6-1.5 0.8-2.2 0.9-2.5 1-2.6 0.8-2.2 0.7-1.5 0.4-0.6 0.3 0.4 0.3 1.7 0.2 2.2 0.2 2.7 0.2 2.7 0.2 2.2 0.3 1.7 0.3 0.3 0.5-0.6 0.6-1.5 0.8-2.4 1-2.6 0.9-2.7 0.8-2.3 0.7-1.6 0.4-0.6 0.3 0.3 0.3 1.7 0.2 2.2 0.2 2.7 0.2 2.8 0.2 2.1 0.3 1.7 0.4 0.4 0.4-0.6 0.6-1.5 0.8-2.2 1-2.6 0.9-2.6 0.8-2.2 0.7-1.4 0.4-0.6 0.3 0.4 0.3 1.7 0.2 2.1 0.2 2.7 0.2 2.7 0.2 2.2 0.3 1.7 0.4 0.4 0.4-0.6 0.6-1.4 0.8-2.2 1-2.5 0.9-2.6 0.9-2.2 0.6-1.4 0.4-0.6 0.3 0.4 0.3 1.7 0.2 2.2 0.2 2.7 0.2 2.8 0.2 2.1 0.4 1.7 0.3 0.3 0.4-0.6 0.6-1.6 0.8-2.3 1-2.6 0.9-2.8 0.9-2.3 0.6-1.5 0.4-0.6 0.3 0.3 0.3 1.7 0.2 2.1 0.2 2.7 0.2 2.7 0.2 2.2 0.4 1.7 0.3 0.4 0.4-0.6 0.6-1.4 0.8-2.2 1-2.6 0.9-2.6 0.9-2.2 0.6-1.5 0.4-0.5 0.3 0.3 0.3 1.8 0.2 2.1 0.2 2.8 0.2 2.8 0.3 2.1 0.3 1.7 0.3 0.4 0.4-0.6 0.6-1.5 0.8-2.3 1-2.6 0.9-2.6 0.9-2.3 0.6-1.5 0.4-0.6 0.3 0.4 0.3 1.7 0.2 2.1 0.2 2.8 0.2 2.7 0.3 2.1 0.3 1.7 0.3 0.4 0.4-0.6 0.6-1.5 0.8-2.3 1-2.6 0.9-2.6 0.9-2.3 0.6-1.5 0.4-0.6 0.3 0.4 0.3 1.7 0.2 2.1 0.2 2.7 0.3 2.7 0.2 2.2 0.3 1.7 0.3 0.3 0.4-0.6 0.6-1.5 0.8-2.3 1-2.6 1-2.7 0.8-2.3 0.6-1.6 0.4-0.6 0.3 0.4 0.3 1.7 0.2 2.1 0.3 2.7 0.2 2.8 0.2 2.1 0.3 1.8 0.3 0.3 0.4-0.5 0.6-1.5 0.9-2.2 0.9-2.6 1-2.6 0.8-2.2 0.6-1.4 0.4-0.6 0.3 0.4 0.3 1.7 0.3 2.1 0.2 2.8 0.2 2.7 0.2 2.1 0.3 1.7 0.3 0.4 0.4-0.6 0.6-1.5 0.9-2.3 0.9-2.6 1-2.6 0.8-2.3 0.6-1.5 0.4-0.5 0.3 0.3 0.3 1.7 0.3 2.1 0.2 2.7 0.2 2.8 0.2 2.1 0.3 1.7 0.3 0.3 0.4-0.6 0.6-1.5 0.9-2.3 0.9-2.6 1-2.7 0.8-2.2 0.6-1.5 0.4-0.6 0.3 0.3 0.4 1.7 0.2 2.1 0.2 2.7 0.2 2.7 0.2 2.2 0.3 1.7 0.3 0.3 0.4-0.5 0.6-1.5 0.9-2.3 0.9-2.5 1-2.7 0.8-2.2 0.6-1.5 0.4-0.6 0.3 0.4 0.4 1.7 0.2 2.1 0.2 2.8 0.2 2.7 0.2 2.2 0.3 1.7 0.3 0.3 0.4-0.5 0.6-1.5 0.9-2.2 0.9-2.5 1-2.6 0.8-2.3 0.6-1.4 0.4-0.6 0.4 0.4 0.3 1.7 0.2 2.2 0.2 2.7 0.2 2.8 0.2 2.1 0.3 1.7 0.3 0.4 0.4-0.6 0.7-1.5 0.8-2.2 0.9-2.6 1-2.7 0.8-2.2 0.6-1.6 0.4-0.5 0.4 0.3 0.3 1.7 0.2 2.2 0.2 2.7 0.2 2.8 0.2 2.2 0.3 1.7 0.3 0.4 0.4-0.6 0.7-1.5 0.8-2.2 0.9-2.6 1-2.6 0.8-2.3 0.6-1.5 0.5-0.5 0.3 0.3 0.3 1.8 0.2 2.1 0.2 2.8 0.2 2.7 0.2 2.1 0.3 1.7 0.3 0.4 0.4-0.6 0.7-1.5 0.8-2.3 0.9-2.6 1-2.6 0.8-2.3 0.6-1.5 0.5-0.6 0.3 0.3 0.3 1.7 0.2 2.2 0.2 2.7 0.2 2.8 0.2 2.1 0.3 1.8 0.3 0.3 0.4-0.6 0.7-1.5 0.8-2.3 0.9-2.6 1-2.7 0.8-2.3 0.7-1.5 0.4-0.6 0.3 0.3 0.3 1.7 0.2 2.2 0.2 2.7 0.2 2.7 0.2 2.2 0.3 1.7 0.3 0.3 0.5-0.5 0.6-1.5 0.8-2.3 0.9-2.6 1-2.6 0.8-2.2 0.7-1.6 0.4-0.5 0.3 0.3 0.3 1.7 0.2 2.2 0.2 2.7 0.2 2.8 0.2 2.1 0.3 1.7 0.3 0.4 0.5-0.6 0.6-1.5 0.8-2.2 0.9-2.6 1-2.7 0.8-2.2 0.7-1.5 0.4-0.6 0.3 0.3 0.3 1.8 0.2 2.1 0.2 2.8 0.2 2.7 0.2 2.2 0.3 1.7 0.3 0.3 0.5-0.6 0.6-1.5 0.8-2.3 1-2.6 0.9-2.7 0.8-2.3 0.7-1.5 0.4-0.6 0.3 0.4 0.3 1.7 0.2 2.1 0.2 2.8 0.2 2.8 0.2 2.1 0.3 1.8 0.4 0.3 0.4-0.5 0.6-1.5 0.8-2.2 1-2.6 0.9-2.6 0.9-2.2 0.6-1.5 0.4-0.5 0.3 0.3 0.3 1.8 0.2 2.1 0.2 2.8 0.2 2.7 0.2 2.1 0.3 1.7 0.4 0.4 0.4-0.6 0.6-1.5 0.8-2.3 1-2.6 0.9-2.6 0.9-2.3 0.6-1.5 0.4-0.6 0.3 0.3 0.3 1.7 0.2 2.2 0.2 2.7 0.2 2.7 0.2 2.2 0.4 1.7 0.3 0.3 0.4-0.6 0.6-1.5 0.8-2.2 1-2.6 0.9-2.7 0.9-2.3 0.6-1.5 0.4-0.6 0.3 0.4 0.3 1.7 0.2 2.1 0.2 2.7 0.2 2.8 0.2 2.1 0.4 1.7 0.3 0.4 0.4-0.6 0.6-1.5 0.8-2.2 1-2.6 0.9-2.7 0.9-2.2 0.6-1.5 0.4-0.6 0.3 0.4 0.3 1.7 0.2 2.1 0.2 2.8 0.2 2.7 0.3 2.2 0.3 1.7 0.3 0.3 0.4-0.6 0.6-1.5 0.8-2.3 1-2.5 0.9-2.7 0.9-2.2 0.6-1.6 0.4-0.5 0.3 0.3 0.3 1.7 0.2 2.2 0.2 2.7 0.3 2.7 0.2 2.1 0.3 1.8 0.3 0.3 0.4-0.5 0.6-1.5 0.8-2.3 1-2.5 0.9-2.7 0.9-2.2 0.6-1.5 0.4-0.6 0.3 0.4 0.3 1.7 0.2 2.2 0.2 2.7 0.3 2.8 0.2 2.1 0.3 1.8 0.3 0.3 0.4-0.6 0.6-1.5 0.8-2.2 1-2.6 1-2.6 0.8-2.2 0.6-1.5 0.4-0.6 0.3 0.4 0.3 1.7 0.2 2.1 0.3 2.8 0.2 2.7 0.2 2.1 0.3 1.7 0.3 0.4 0.4-0.6 0.6-1.5 0.9-2.3 0.9-2.6 1-2.6 0.8-2.3 0.6-1.5 0.4-0.6 0.3 0.3 0.3 1.7 0.3 2.2 0.2 2.7 0.2 2.8 0.2 2.1 0.3 1.8 0.3 0.3 0.4-0.5 0.6-1.5 0.9-2.3 0.9-2.5 1-2.6 0.8-2.2 0.6-1.5 0.4-0.5 0.3 0.3 0.4 1.7 0.2 2.2 0.2 2.7 0.2 2.7 0.2 2.2 0.3 1.7 0.3 0.3 0.4-0.5 0.6-1.5 0.9-2.2 0.9-2.6 1-2.6 0.8-2.3 0.6-1.5 0.4-0.5 0.3 0.3 0.4 1.7 0.2 2.2 0.2 2.7 0.2 2.8 0.2 2.1 0.3 1.7 0.3 0.3 0.4-0.6 0.6-1.5 0.9-2.3 0.9-2.7 1-2.7 0.8-2.3 0.6-1.5 0.4-0.6 0.4 0.3 0.3 1.7 0.2 2.1 0.2 2.8 0.2 2.7 0.2 2.2 0.3 1.7 0.3 0.3 0.4-0.5 0.6-1.5 0.9-2.3 0.4-1.1" fill="none" stroke="#ff0000" stroke-width="2.6" stroke-linejoin="round"/>
<path d="M426.5 1839.2V1823.7M426.5 1101.4V1116.9M684.5 1839.2V1823.7M684.5 1101.4V1116.9M943.5 1839.2V1823.7M943.5 1101.4V1116.9M1202.5 1839.2V1823.7M1202.5 1101.4V1116.9M1461.5 1839.2V1823.7M1461.5 1101.4V1116.9M168.5 1734.5H184M1719.2 1734.5H1703.7M168.5 1628.5H184M1719.2 1628.5H1703.7M168.5 1523.5H184M1719.2 1523.5H1703.7M168.5 1417.5H184M1719.2 1417.5H1703.7M168.5 1312.5H184M1719.2 1312.5H1703.7M168.5 1206.5H184M1719.2 1206.5H1703.7" stroke="#262626" stroke-width="1.5" fill="none"/>
<rect x="168.5" y="1101.4" width="1550.7" height="737.8" fill="none" stroke="#262626" stroke-width="1.5"/>
<text x="167.1" y="1896" font-size="43.5" text-anchor="middle" font-weight="normal" font-family='"Liberation Sans", Arial, sans-serif' fill="#262626">0</text>
<text x="426" y="1896" font-size="43.5" text-anchor="middle" font-weight="normal" font-family='"Liberation Sans", Arial, sans-serif' fill="#262626">0.5</text>
<text x="684.9" y="1896" font-size="43.5" text-anchor="middle" font-weight="normal" font-family='"Liberation Sans", Arial, sans-serif' fill="#262626">1</text>
<text x="943.8" y="1896" font-size="43.5" text-anchor="middle" font-weight="normal" font-family='"Liberation Sans", Arial, sans-serif' fill="#262626">1.5</text>
<text x="1202.7" y="1896" font-size="43.5" text-anchor="middle" font-weight="normal" font-family='"Liberation Sans", Arial, sans-serif' fill="#262626">2</text>
<text x="1461.6" y="1896" font-size="43.5" text-anchor="middle" font-weight="normal" font-family='"Liberation Sans", Arial, sans-serif' fill="#262626">2.5</text>
<text x="1719.2" y="1896" font-size="43.5" text-anchor="middle" font-weight="normal" font-family='"Liberation Sans", Arial, sans-serif' fill="#262626">3</text>
<text x="154.5" y="1857.1" font-size="43.5" text-anchor="end" font-weight="normal" font-family='"Liberation Sans", Arial, sans-serif' fill="#262626">0</text>
<text x="154.5" y="1751.6" font-size="43.5" text-anchor="end" font-weight="normal" font-family='"Liberation Sans", Arial, sans-serif' fill="#262626">0.05</text>
<text x="154.5" y="1646.1" font-size="43.5" text-anchor="end" font-weight="normal" font-family='"Liberation Sans", Arial, sans-serif' fill="#262626">0.1</text>
<text x="154.5" y="1540.6" font-size="43.5" text-anchor="end" font-weight="normal" font-family='"Liberation Sans", Arial, sans-serif' fill="#262626">0.15</text>
<text x="154.5" y="1435.1" font-size="43.5" text-anchor="end" font-weight="normal" font-family='"Liberation Sans", Arial, sans-serif' fill="#262626">0.2</text>
<text x="154.5" y="1329.6" font-size="43.5" text-anchor="end" font-weight="normal" font-family='"Liberation Sans", Arial, sans-serif' fill="#262626">0.25</text>
<text x="154.5" y="1224.1" font-size="43.5" text-anchor="end" font-weight="normal" font-family='"Liberation Sans", Arial, sans-serif' fill="#262626">0.3</text>
<text x="154.5" y="1118.6" font-size="43.5" text-anchor="end" font-weight="normal" font-family='"Liberation Sans", Arial, sans-serif' fill="#262626">0.35</text>
<text x="943" y="1955.7" font-size="47.8" text-anchor="middle" font-weight="normal" font-family='"Liberation Sans", Arial, sans-serif' fill="#262626">Time <tspan font-style="italic">(s)</tspan></text>
<text transform="translate(53.8 1468.0) rotate(-90)" font-size="47.8" text-anchor="middle" font-family='"Liberation Sans", Arial, sans-serif' fill="#262626" xml:space="preserve">Population inversion  <tspan font-style="italic">(au)</tspan></text>
<text x="1718" y="1964" font-size="43.5" text-anchor="end" font-family='"Liberation Sans", Arial, sans-serif' fill="#262626"><tspan font-family='"DejaVu Sans Light","DejaVu Sans",sans-serif' font-weight="200" font-size="40">×</tspan>10<tspan font-size="35" dy="-21">-3</tspan></text>
<rect x="1605.1" y="1115.3" width="100.4" height="49.9" fill="#fff" stroke="#262626" stroke-width="1.5"/>
<path d="M1609 1139.7H1659" stroke="#ff0000" stroke-width="2.3"/>
<text transform="translate(1665.2 1148.7) scale(1.22 1)" font-size="37" font-style="italic" font-family='"Liberation Serif", "Times New Roman", serif' fill="#000">x</text>
<text x="1685.8" y="1154.7" font-size="28" font-family='"Liberation Serif", "Times New Roman", serif' fill="#000">2</text>
<text transform="translate(1667.8 1147.5) scale(1.3 1)" font-size="36" font-family='"Liberation Serif", "Times New Roman", serif' fill="#000">˜</text>
<rect x="701.2" y="1364.3" width="499.6" height="234.6" fill="#fff"/>
<path d="M801.5 1364.3V1598.9M901.5 1364.3V1598.9M1000.5 1364.3V1598.9M1100.5 1364.3V1598.9M701.2 1553.5H1200.8M701.2 1396.5H1200.8" stroke="#cecece" stroke-width="1.0" fill="none"/>
<path d="M701.2 1534.3l0.4 7.9 0.4 7.4 0.5 6.8 0.4 6.2 0.4 5.6 0.4 5 0.4 4.4 0.4 3.8 0.5 3.3 0.4 2.8 0.4 2.4 0.4 1.9 0.4 1.5 0.4 1.1 0.5 0.8 0.4 0.5 0.4 0.2 0.4 0 0.4-0.3 0.4-0.4 0.5-0.6 0.4-0.8 0.4-0.9 0.4-1.1 0.4-1.1 0.4-1.2 0.5-1.3 0.4-1.4 0.4-1.5 0.4-1.5 0.4-1.5 0.4-1.6 0.5-1.7 0.4-1.7 0.4-1.7 0.4-1.7 0.4-1.7 0.4-1.8 0.5-1.8 0.4-1.8 0.4-1.8 0.4-1.8 0.4-1.9 0.4-1.8 0.5-1.9 0.4-1.8 0.4-1.9 0.4-1.9 0.4-1.8 0.4-1.9 0.5-1.9 0.4-1.9 0.4-1.9 0.4-1.9 0.4-1.9 0.4-1.8 0.5-1.9 0.4-1.9 0.4-1.9 0.4-1.9 0.4-1.9 0.4-1.9 0.5-1.9 0.4-1.9 0.4-1.9 0.4-1.9 0.4-1.9 0.4-1.9 0.5-1.9 0.4-1.9 0.4-2 0.4-1.9 0.4-1.9 0.4-1.9 0.5-1.9 0.4-1.9 0.4-1.9 0.4-1.9 0.4-1.9 0.4-1.9 0.5-1.9 0.4-1.9 0.4-1.9 0.4-1.9 0.4-1.9 0.4-1.9 0.5-1.9 0.4-1.9 0.4-1.9 0.4-1.9 0.4-1.9 0.4-1.9 0.5-1.9 0.4-1.9 0.4-1.9 0.4-1.9 0.4-1.9 0.4-1.9 0.5-1.9 0.4-1.9 0.4-1.9 0.4-1.9 0.4-1.9 0.4-1.9 0.5-1.9 0.4-1.9 0.4-1.9 0.4-1.9 0.4-1.9 0.4-1.9 0.5-1.9 0.4-1.8 0.4-1.9 0.4-1.9 0.4-1.9 0.4-1.9 0.5-1.9 0.4-1.8 0.4-1.9 0.4-1.9 0.4-1.8 0.4-1.9 0.5-1.8 0.4-1.9 0.4-1.8 0.4-1.8 0.4-1.8 0.4-1.8 0.5-1.8 0.4-1.8 0.4-1.7 0.4-1.7 0.4-1.7 0.4-1.7 0.5-1.6 0.4-1.6 0.4-1.6 0.4-1.5 0.4-1.4 0.4-1.4 0.5-1.3 0.4-1.3 0.4-1.1 0.4-1 0.4-0.9 0.4-0.8 0.5-0.6 0.4-0.5 0.4-0.2 0.4-0.1 0.4 0.2 0.4 0.5 0.5 0.7 0.4 1.1 0.4 1.5 0.4 1.9 0.4 2.3 0.4 2.7 0.5 3.3 0.4 3.8 0.4 4.4 0.4 4.9 0.4 5.5 0.4 6.2 0.5 6.7 0.4 7.3 0.4 7.8 0.4 8.4 0.4 8.7 0.4 9.2 0.5 9.4 0.4 9.6 0.4 9.6 0.4 9.6 0.4 9.4 0.4 9.3 0.5 8.8 0.4 8.5 0.4 8.1 0.4 7.5 0.4 6.9 0.4 6.4 0.5 5.7 0.4 5.2 0.4 4.6 0.4 4 0.4 3.4 0.4 3 0.5 2.4 0.4 2 0.4 1.6 0.4 1.2 0.4 0.8 0.4 0.6 0.5 0.2 0.4 0 0.4-0.2 0.4-0.4 0.4-0.6 0.4-0.8 0.5-0.9 0.4-1.1 0.4-1.1 0.4-1.3 0.4-1.3 0.4-1.5 0.5-1.4 0.4-1.6 0.4-1.6 0.4-1.6 0.4-1.7 0.4-1.7 0.5-1.8 0.4-1.8 0.4-1.8 0.4-1.8 0.4-1.8 0.4-1.9 0.5-1.9 0.4-1.9 0.4-1.9 0.4-1.9 0.4-1.9 0.4-1.9 0.5-1.9 0.4-1.9 0.4-2 0.4-1.9 0.4-1.9 0.4-2 0.5-1.9 0.4-2 0.4-1.9 0.4-2 0.4-1.9 0.4-2 0.5-2 0.4-1.9 0.4-2 0.4-1.9 0.4-2 0.4-2 0.5-1.9 0.4-2 0.4-1.9 0.4-2 0.4-2 0.4-1.9 0.5-2 0.4-2 0.4-1.9 0.4-2 0.4-1.9 0.4-2 0.5-2 0.4-1.9 0.4-2 0.4-2 0.4-1.9 0.4-2 0.5-1.9 0.4-2 0.4-2 0.4-1.9 0.4-2 0.4-1.9 0.5-2 0.4-2 0.4-1.9 0.4-2 0.4-1.9 0.4-2 0.5-2 0.4-1.9 0.4-2 0.4-1.9 0.4-2 0.4-2 0.5-1.9 0.4-2 0.4-1.9 0.4-2 0.4-1.9 0.4-2 0.5-2 0.4-1.9 0.4-2 0.4-1.9 0.4-2 0.4-1.9 0.5-1.9 0.4-2 0.4-1.9 0.4-2 0.4-1.9 0.4-1.9 0.5-2 0.4-1.9 0.4-1.9 0.4-1.9 0.4-1.9 0.4-1.9 0.5-1.9 0.4-1.9 0.4-1.9 0.4-1.8 0.4-1.9 0.4-1.8 0.5-1.8 0.4-1.8 0.4-1.8 0.4-1.7 0.4-1.7 0.4-1.7 0.5-1.6 0.4-1.6 0.4-1.5 0.4-1.5 0.4-1.4 0.4-1.3 0.5-1.3 0.4-1.1 0.4-1 0.4-0.9 0.4-0.8 0.4-0.6 0.5-0.4 0.4-0.2 0.4 0 0.4 0.3 0.4 0.6 0.4 0.9 0.5 1.2 0.4 1.6 0.4 2 0.4 2.5 0.4 3 0.4 3.5 0.5 4 0.4 4.6 0.4 5.2 0.4 5.7 0.4 6.4 0.4 7 0.5 7.5 0.4 8 0.4 8.5 0.4 8.8 0.4 9.2 0.4 9.4 0.5 9.5 0.4 9.6 0.4 9.5 0.4 9.4 0.4 9 0.4 8.7 0.5 8.3 0.4 7.7 0.4 7.2 0.4 6.7 0.4 6 0.4 5.5 0.5 4.8 0.4 4.3 0.4 3.7 0.4 3.2 0.4 2.7 0.4 2.3 0.5 1.8 0.4 1.4 0.4 1.1 0.4 0.7 0.4 0.5 0.4 0.1 0.5 0 0.4-0.3 0.4-0.5 0.4-0.6 0.4-0.8 0.4-0.9 0.5-1.1 0.4-1.1 0.4-1.2 0.4-1.3 0.4-1.4 0.4-1.5 0.5-1.5 0.4-1.5 0.4-1.6 0.4-1.7 0.4-1.6 0.4-1.7 0.5-1.7 0.4-1.8 0.4-1.7 0.4-1.8 0.4-1.8 0.4-1.8 0.5-1.8 0.4-1.8 0.4-1.8 0.4-1.9 0.4-1.8 0.4-1.9 0.5-1.8 0.4-1.9 0.4-1.8 0.4-1.9 0.4-1.9 0.4-1.8 0.5-1.9 0.4-1.9 0.4-1.9 0.4-1.9 0.4-1.8 0.4-1.9 0.5-1.9 0.4-1.9 0.4-1.9 0.4-1.8 0.4-1.9 0.4-1.9 0.5-1.9 0.4-1.9 0.4-1.9 0.4-1.9 0.4-1.8 0.4-1.9 0.5-1.9 0.4-1.9 0.4-1.9 0.4-1.9 0.4-1.9 0.4-1.8 0.5-1.9 0.4-1.9 0.4-1.9 0.4-1.9 0.4-1.9 0.4-1.9 0.5-1.9 0.4-1.8 0.4-1.9 0.4-1.9 0.4-1.9 0.4-1.9 0.5-1.9 0.4-1.9 0.4-1.8 0.4-1.9 0.4-1.9 0.4-1.9 0.5-1.9 0.4-1.9 0.4-1.9 0.4-1.8 0.4-1.9 0.4-1.9 0.5-1.9 0.4-1.9 0.4-1.9 0.4-1.8 0.4-1.9 0.4-1.9 0.5-1.9 0.4-1.9 0.4-1.8 0.4-1.9 0.4-1.9 0.4-1.9 0.5-1.8 0.4-1.9 0.4-1.9 0.4-1.8 0.4-1.9 0.4-1.8 0.5-1.9 0.4-1.8 0.4-1.9 0.4-1.8 0.4-1.8 0.4-1.9 0.5-1.8 0.4-1.8 0.4-1.7 0.4-1.8 0.4-1.7 0.4-1.8 0.5-1.7 0.4-1.7 0.4-1.6 0.4-1.6 0.4-1.6 0.4-1.5 0.5-1.5 0.4-1.5 0.4-1.3 0.4-1.3 0.4-1.2 0.4-1.1 0.5-1.1 0.4-0.8 0.4-0.8 0.4-0.6 0.4-0.4 0.4-0.2 0.5 0 0.4 0.2 0.4 0.5 0.4 0.8 0.4 1.1 0.4 1.6 0.5 1.9 0.4 2.3 0.4 2.8 0.4 3.3 0.4 3.9 0.4 4.4 0.5 5 0.4 5.6 0.4 6.1 0.4 6.8 0.4 7.3 0.4 7.9 0.5 8.3 0.4 8.8 0.4 9.1 0.4 9.3 0.4 9.6 0.4 9.5 0.5 9.5 0.4 9.4 0.4 9.1 0.4 8.8 0.4 8.3 0.4 8 0.5 7.3 0.4 6.8 0.4 6.3 0.4 5.6 0.4 5.1 0.4 4.4 0.5 3.9 0.4 3.4 0.4 2.9 0.4 2.3 0.4 2 0.4 1.5 0.5 1.2 0.4 0.8 0.4 0.5 0.4 0.2 0.4 0 0.4-0.2 0.5-0.5 0.4-0.6 0.4-0.8 0.4-0.9 0.4-1 0.4-1.2 0.5-1.2 0.4-1.3 0.4-1.5 0.4-1.4 0.4-1.6 0.4-1.5 0.5-1.7 0.4-1.6 0.4-1.7 0.4-1.7 0.4-1.8 0.4-1.8 0.5-1.8 0.4-1.8 0.4-1.8 0.4-1.9 0.4-1.8 0.4-1.9 0.5-1.9 0.4-1.8 0.4-1.9 0.4-1.9 0.4-1.9 0.4-1.9 0.5-1.9 0.4-2 0.4-1.9 0.4-1.9 0.4-1.9 0.4-1.9 0.5-2 0.4-1.9 0.4-1.9 0.4-2 0.4-1.9 0.4-1.9 0.5-2 0.4-1.9 0.4-1.9 0.4-2 0.4-1.9 0.4-1.9 0.5-2 0.4-1.9 0.4-1.9 0.4-2 0.4-1.9 0.4-2 0.5-1.9 0.4-1.9 0.4-2 0.4-1.9 0.4-2 0.4-1.9 0.5-1.9 0.4-2 0.4-1.9 0.4-1.9 0.4-2 0.4-1.9 0.5-2 0.4-1.9 0.4-1.9 0.4-2 0.4-1.9 0.4-2 0.5-1.9 0.4-1.9 0.4-2 0.4-1.9 0.4-1.9 0.4-2 0.5-1.9 0.4-2 0.4-1.9 0.4-1.9 0.4-2 0.4-1.9 0.5-1.9 0.4-2 0.4-1.9 0.4-2 0.4-1.9 0.4-1.9 0.5-1.9 0.4-2 0.4-1.9 0.4-1.9 0.4-2 0.4-1.9 0.5-1.9 0.4-1.9 0.4-1.9 0.4-1.9 0.4-1.9 0.4-2 0.5-1.8 0.4-1.9 0.4-1.9 0.4-1.9 0.4-1.9 0.4-1.8 0.5-1.9 0.4-1.8 0.4-1.8 0.4-1.8 0.4-1.8 0.4-1.7 0.5-1.7 0.4-1.7 0.4-1.7 0.4-1.6 0.4-1.5 0.4-1.5 0.5-1.5 0.4-1.4 0.4-1.3 0.4-1.2 0.4-1.1 0.4-1 0.5-0.9 0.4-0.7 0.4-0.5 0.4-0.4 0.4-0.2 0.4 0.1 0.5 0.3 0.4 0.7 0.4 0.9 0.4 1.3 0.4 1.7 0.4 2.1 0.5 2.6 0.4 3 0.4 3.6 0.4 4.1 0.4 4.7 0.4 5.3 0.5 5.8 0.4 6.5 0.4 7 0.4 7.6 0.4 8.1 0.4 8.6 0.5 8.9 0.4 9.2 0.4 9.4 0.4 9.6 0.4 9.5 0.4 9.5 0.5 9.3 0.4 9 0.4 8.6 0.4 8.2 0.4 7.7 0.4 7.1 0.5 6.5 0.4 6 0.4 5.4 0.4 4.7 0.4 4.2 0.4 3.7 0.5 3.1 0.4 2.6 0.4 2.2 0.4 1.8 0.4 1.4 0.4 1 0.5 0.7 0.4 0.4 0.4 0.1 0.4-0.1 0.4-0.3 0.4-0.5 0.5-0.6 0.4-0.8 0.4-1 0.4-1 0.4-1.2 0.4-1.2 0.5-1.4 0.4-1.3 0.4-1.5 0.4-1.5 0.4-1.6 0.4-1.6 0.5-1.6 0.4-1.7 0.4-1.7 0.4-1.7 0.4-1.7 0.4-1.8 0.5-1.8 0.4-1.7 0.4-1.8 0.4-1.9 0.4-1.8 0.4-1.8 0.5-1.9 0.4-1.8 0.4-1.9 0.4-1.8 0.4-1.9 0.4-1.9 0.5-1.8 0.4-1.9 0.4-1.9 0.4-1.9 0.4-1.8 0.4-1.9 0.5-1.9 0.4-1.9 0.4-1.9 0.4-1.9 0.4-1.9 0.4-1.9 0.5-1.8 0.4-1.9 0.4-1.9 0.4-1.9 0.4-1.9 0.4-1.9 0.5-1.9 0.4-1.9 0.4-1.9 0.4-1.9 0.4-1.9 0.4-1.9 0.5-1.9 0.4-1.9 0.4-1.9 0.4-1.9 0.4-1.9 0.4-1.9 0.5-1.9 0.4-1.9 0.4-1.9 0.4-1.9 0.4-1.9 0.4-1.9 0.5-1.9 0.4-1.9 0.4-1.9 0.4-1.9 0.4-1.9 0.4-1.9 0.5-1.9 0.4-1.9 0.4-1.9 0.4-1.9 0.4-1.9 0.4-1.9 0.5-1.9 0.4-1.9 0.4-1.9 0.4-1.9 0.4-2 0.4-1.9 0.5-1.9 0.4-1.9 0.4-1.9 0.4-1.9 0.4-1.9 0.4-1.9 0.5-1.9 0.4-1.8 0.4-1.9 0.4-1.9 0.4-1.9 0.4-1.9 0.5-1.9 0.4-1.9 0.4-1.9 0.4-1.8 0.4-1.9 0.4-1.9 0.5-1.8 0.4-1.9 0.4-1.8 0.4-1.8 0.4-1.9 0.4-1.8 0.5-1.7 0.4-1.8 0.4-1.8 0.4-1.7 0.4-1.7 0.4-1.7 0.5-1.6 0.4-1.6 0.4-1.6 0.4-1.5 0.4-1.4 0.4-1.4 0.5-1.3 0.4-1.2 0.4-1.1 0.4-1 0.4-0.9 0.4-0.8 0.5-0.6 0.4-0.4 0.4-0.2 0.4 0 0.4 0.3 0.4 0.5 0.5 0.9 0.4 1.2 0.4 1.6 0.4 1.9 0.4 2.5 0.4 2.9 0.5 3.4 0.4 4 0.4 4.5 0.4 5.1 0.4 5.7 0.4 6.4 0.5 6.9 0.4 7.5 0.4 8 0.4 8.5 0.4 8.9 0.4 9.3 0.5 9.5 0.4 9.6 0.4 9.7 0.4 9.6 0.4 9.4 0.4 9.2 0.5 8.8 0.4 8.4 0.4 7.9 0.4 7.3 0.4 6.8 0.4 6.2 0.5 5.6 0.4 5 0.4 4.5 0.4 3.8 0.4 3.3 0.4 2.8 0.5 2.3 0.4 1.9 0.4 1.5 0.4 1.1 0.4 0.7 0.4 0.5 0.5 0.2 0.4-0.1 0.4-0.3 0.4-0.5 0.4-0.6 0.4-0.9 0.5-0.9 0.4-1.1 0.4-1.2 0.4-1.3 0.4-1.4 0.4-1.4 0.5-1.5 0.4-1.6 0.4-1.6 0.4-1.7 0.4-1.7 0.4-1.7 0.5-1.8 0.4-1.8 0.4-1.8 0.4-1.8 0.4-1.9 0.4-1.8 0.5-1.9 0.4-1.9 0.4-1.9 0.4-1.9 0.4-1.9 0.4-1.9 0.5-2 0.4-1.9 0.4-1.9 0.4-2 0.4-1.9 0.4-2 0.5-1.9 0.4-2 0.4-1.9 0.4-2 0.4-2 0.4-1.9 0.5-2 0.4-1.9 0.4-2 0.4-2 0.4-1.9 0.4-2 0.5-2 0.4-1.9 0.4-2 0.4-2 0.4-1.9 0.4-2 0.5-1.9 0.4-2 0.4-2 0.4-1.9 0.4-2 0.4-2 0.5-1.9 0.4-2 0.4-2 0.4-1.9 0.4-2 0.4-2 0.5-1.9 0.4-2 0.4-2 0.4-1.9 0.4-2 0.4-1.9 0.5-2 0.4-2 0.4-1.9 0.4-2 0.4-2 0.4-1.9 0.5-2 0.4-1.9 0.4-2 0.4-2 0.4-1.9 0.4-2 0.5-1.9 0.4-2 0.4-2 0.4-1.9 0.4-2 0.4-1.9 0.5-2 0.4-1.9 0.4-2 0.4-1.9 0.4-2 0.4-1.9 0.5-2 0.4-1.9 0.4-2 0.4-1.9 0.4-1.9 0.4-2 0.5-1.9 0.4-1.9 0.4-1.9 0.4-2 0.4-1.9 0.4-1.9 0.5-1.8 0.4-1.9 0.4-1.9 0.4-1.9 0.4-1.8 0.4-1.8 0.5-1.8 0.4-1.8 0.4-1.8 0.4-1.7 0.4-1.7 0.4-1.6 0.5-1.7 0.4-1.5 0.4-1.5 0.4-1.5 0.4-1.4 0.4-1.3 0.5-1.2 0.4-1.1 0.4-1 0.4-0.8 0.4-0.7 0.4-0.6 0.5-0.3 0.4 0 0.4 0 0.4 0.3 0.4 0.7 0.4 1 0.5 1.4 0.4 1.7 0.4 2.2 0.4 2.6 0.4 3.1 0.4 3.7 0.5 4.2 0.4 4.8 0.4 5.4 0.4 6 0.4 6.5 0.4 7.2 0.5 7.7 0.4 8.2 0.4 8.6 0.4 9 0.4 9.3 0.4 9.4 0.5 9.6 0.4 9.6 0.4 9.5 0.4 9.3 0.4 9 0.4 8.5 0.5 8.2 0.4 7.6 0.4 7 0.4 6.5 0.4 5.9 0.4 5.3 0.5 4.7 0.4 4.1 0.4 3.6 0.4 3.1 0.4 2.5 0.4 2.2 0.5 1.7 0.4 1.3 0.4 1 0.4 0.6 0.4 0.4 0.4 0.1 0.5-0.1 0.4-0.4 0.4-0.5 0.4-0.7 0.4-0.8 0.4-0.9 0.5-1.1 0.4-1.2 0.4-1.2 0.4-1.4 0.4-1.4 0.4-1.4 0.5-1.5 0.4-1.6 0.4-1.6 0.4-1.7 0.4-1.6 0.4-1.7 0.5-1.8 0.4-1.7 0.4-1.8 0.4-1.7 0.4-1.8 0.4-1.9 0.5-1.8 0.4-1.8 0.4-1.8 0.4-1.9 0.4-1.8 0.4-1.9 0.5-1.9 0.4-1.8 0.4-1.9 0.4-1.9 0.4-1.8 0.4-1.9 0.5-1.9 0.4-1.9 0.4-1.9 0.4-1.9 0.4-1.9 0.4-1.9 0.5-1.8 0.4-1.9 0.4-1.9 0.4-1.9 0.4-1.9 0.4-1.9 0.5-1.9 0.4-1.9 0.4-1.9 0.4-1.9 0.4-1.9 0.4-1.9 0.5-1.9 0.4-1.9 0.4-1.9 0.4-1.9 0.4-1.9 0.4-1.9 0.5-1.9 0.4-2 0.4-1.9 0.4-1.9 0.4-1.9 0.4-1.9 0.5-1.9 0.4-1.9 0.4-1.9 0.4-1.9 0.4-1.9 0.4-1.9 0.5-1.9 0.4-1.9 0.4-1.9 0.4-1.9 0.4-2 0.4-1.9 0.5-1.9 0.4-1.9 0.4-1.9 0.4-1.9 0.4-1.9 0.4-1.9 0.5-1.9 0.4-1.9 0.4-1.9 0.4-1.9 0.4-1.9 0.4-2 0.5-1.9 0.4-1.9 0.4-1.9 0.4-1.9 0.4-1.9 0.4-1.9 0.5-1.9 0.4-1.9 0.4-1.9 0.4-1.9 0.4-1.8 0.4-1.9 0.5-1.9 0.4-1.9 0.4-1.8 0.4-1.9 0.4-1.9 0.4-1.8 0.5-1.8 0.4-1.9 0.4-1.8" fill="none" stroke="#ff0000" stroke-width="2.4" stroke-linejoin="round"/>
<path d="M801.5 1598.9V1593.9M801.5 1364.3V1369.3M901.5 1598.9V1593.9M901.5 1364.3V1369.3M1000.5 1598.9V1593.9M1000.5 1364.3V1369.3M1100.5 1598.9V1593.9M1100.5 1364.3V1369.3M701.2 1553.5H706.2M1200.8 1553.5H1195.8M701.2 1396.5H706.2M1200.8 1396.5H1195.8" stroke="#262626" stroke-width="1.4" fill="none"/>
<rect x="701.2" y="1364.3" width="499.6" height="234.6" fill="none" stroke="#262626" stroke-width="1.4"/>
<text x="801.1" y="1652.2" font-size="40.2" text-anchor="middle" font-weight="normal" font-family='"Liberation Sans", Arial, sans-serif' fill="#262626">1.02</text>
<text x="901" y="1652.2" font-size="40.2" text-anchor="middle" font-weight="normal" font-family='"Liberation Sans", Arial, sans-serif' fill="#262626">1.04</text>
<text x="1001" y="1652.2" font-size="40.2" text-anchor="middle" font-weight="normal" font-family='"Liberation Sans", Arial, sans-serif' fill="#262626">1.06</text>
<text x="1100.9" y="1652.2" font-size="40.2" text-anchor="middle" font-weight="normal" font-family='"Liberation Sans", Arial, sans-serif' fill="#262626">1.08</text>
<text x="687.5" y="1569.3" font-size="40.2" text-anchor="end" font-weight="normal" font-family='"Liberation Sans", Arial, sans-serif' fill="#262626">0.305</text>
<text x="687.5" y="1412.1" font-size="40.2" text-anchor="end" font-weight="normal" font-family='"Liberation Sans", Arial, sans-serif' fill="#262626">0.31</text>
<text transform="translate(573.4 1479.7) rotate(-90)" font-size="44" text-anchor="middle" font-family='"Liberation Sans", Arial, sans-serif' fill="#262626" xml:space="preserve">Population inversion  <tspan font-style="italic">(au)</tspan></text>
<text x="951" y="1345.1" font-size="44.0" text-anchor="middle" font-weight="bold" font-family='"Liberation Sans", Arial, sans-serif' fill="#000">Detail</text>
<text x="1201.5" y="1715.5" font-size="40.2" text-anchor="end" font-family='"Liberation Sans", Arial, sans-serif' fill="#262626"><tspan font-family='"DejaVu Sans Light","DejaVu Sans",sans-serif' font-weight="200" font-size="37">×</tspan>10<tspan font-size="32" dy="-20">-3</tspan></text>
<text x="981.3" y="2073.4" font-size="86" text-anchor="middle" font-weight="normal" font-family='"Liberation Serif", "Times New Roman", serif' fill="#000">(<tspan font-weight="bold">b</tspan>)</text>
</svg></div></body></html>
